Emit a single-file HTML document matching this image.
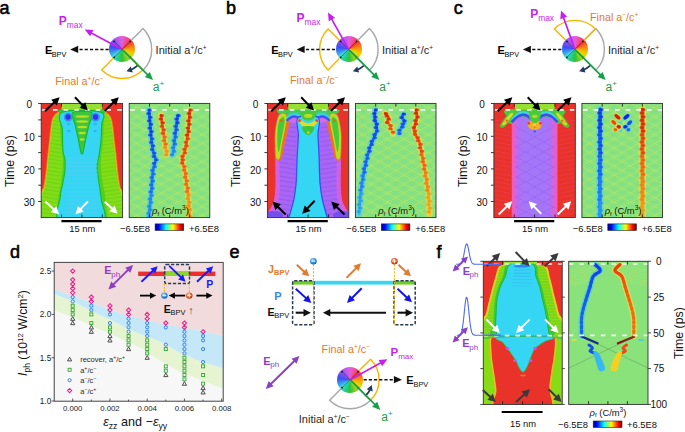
<!DOCTYPE html>
<html><head><meta charset="utf-8"><style>
html,body{margin:0;padding:0;background:#fff;}
#c{position:relative;width:685px;height:432px;overflow:hidden;font-family:"Liberation Sans", sans-serif;}
svg{position:absolute;left:0;top:0;}
svg text{font-family:"Liberation Sans", sans-serif;}
</style></head><body><div id="c">
<div style="position:absolute;left:109.20px;top:36.40px;width:26px;height:26px;border-radius:50%;background:conic-gradient(from 0deg,#e45ee0 0deg,#f04a8a 30deg,#f03a30 50deg,#f57a1a 75deg,#f7a800 95deg,#e8d800 120deg,#9ad41e 145deg,#2cc23a 180deg,#22d08a 205deg,#3fdcd8 230deg,#3a8cf2 255deg,#3a4cf2 280deg,#7a50f0 305deg,#b058f0 330deg,#e45ee0 360deg);"></div><div style="position:absolute;left:335.60px;top:36.40px;width:26px;height:26px;border-radius:50%;background:conic-gradient(from 0deg,#e45ee0 0deg,#f04a8a 30deg,#f03a30 50deg,#f57a1a 75deg,#f7a800 95deg,#e8d800 120deg,#9ad41e 145deg,#2cc23a 180deg,#22d08a 205deg,#3fdcd8 230deg,#3a8cf2 255deg,#3a4cf2 280deg,#7a50f0 305deg,#b058f0 330deg,#e45ee0 360deg);"></div><div style="position:absolute;left:561.90px;top:36.40px;width:26px;height:26px;border-radius:50%;background:conic-gradient(from 0deg,#e45ee0 0deg,#f04a8a 30deg,#f03a30 50deg,#f57a1a 75deg,#f7a800 95deg,#e8d800 120deg,#9ad41e 145deg,#2cc23a 180deg,#22d08a 205deg,#3fdcd8 230deg,#3a8cf2 255deg,#3a4cf2 280deg,#7a50f0 305deg,#b058f0 330deg,#e45ee0 360deg);"></div><div style="position:absolute;left:337.10px;top:366.70px;width:26px;height:26px;border-radius:50%;background:conic-gradient(from 0deg,#e45ee0 0deg,#f04a8a 30deg,#f03a30 50deg,#f57a1a 75deg,#f7a800 95deg,#e8d800 120deg,#9ad41e 145deg,#2cc23a 180deg,#22d08a 205deg,#3fdcd8 230deg,#3a8cf2 255deg,#3a4cf2 280deg,#7a50f0 305deg,#b058f0 330deg,#e45ee0 360deg);"></div>
<svg width="685" height="432" viewBox="0 0 685 432">
<defs>
<clipPath id="clip1"><rect x="41.2" y="103.4" width="81.40" height="114.20"/></clipPath>
<filter id="bl1" x="-10%" y="-10%" width="120%" height="120%"><feGaussianBlur stdDeviation="0.7"/></filter>
<clipPath id="clip2"><rect x="267.4" y="103.4" width="81.40" height="114.20"/></clipPath>
<filter id="bl2" x="-10%" y="-10%" width="120%" height="120%"><feGaussianBlur stdDeviation="0.7"/></filter>
<linearGradient id="cpur" x1="0" y1="0" x2="1" y2="0"><stop offset="0" stop-color="#f05cb0"/><stop offset="0.07" stop-color="#e060d8"/><stop offset="0.15" stop-color="#b070f4"/><stop offset="0.3" stop-color="#a476f8"/><stop offset="0.7" stop-color="#a476f8"/><stop offset="0.85" stop-color="#b070f4"/><stop offset="0.93" stop-color="#e060d8"/><stop offset="1" stop-color="#f05cb0"/></linearGradient>
<clipPath id="clip3"><rect x="493.9" y="103.4" width="81.40" height="114.20"/></clipPath>
<filter id="bl3" x="-10%" y="-10%" width="120%" height="120%"><feGaussianBlur stdDeviation="0.7"/></filter>
<linearGradient id="ba4_0" gradientUnits="userSpaceOnUse" x1="0" y1="110" x2="0" y2="222"><stop offset="0" stop-color="#2060f0"/><stop offset="0.6" stop-color="#2a80f0"/><stop offset="1" stop-color="#30a0f0"/></linearGradient>
<linearGradient id="ba4_1" gradientUnits="userSpaceOnUse" x1="0" y1="115.5" x2="0" y2="155"><stop offset="0" stop-color="#2060f0"/><stop offset="0.6" stop-color="#2a80f0"/><stop offset="1" stop-color="#30a0f0"/></linearGradient>
<linearGradient id="ba4_2" gradientUnits="userSpaceOnUse" x1="0" y1="110" x2="0" y2="222"><stop offset="0" stop-color="#f04818"/><stop offset="0.5" stop-color="#f08020"/><stop offset="1" stop-color="#f8b020"/></linearGradient>
<linearGradient id="ba4_3" gradientUnits="userSpaceOnUse" x1="0" y1="115.5" x2="0" y2="155"><stop offset="0" stop-color="#f04818"/><stop offset="0.5" stop-color="#f08020"/><stop offset="1" stop-color="#f8b020"/></linearGradient>
<clipPath id="clip5"><rect x="129.2" y="103.4" width="80.60" height="114.20"/></clipPath>
<filter id="bl5" x="-10%" y="-10%" width="120%" height="120%"><feGaussianBlur stdDeviation="0.75"/></filter>
<linearGradient id="bb6_0" gradientUnits="userSpaceOnUse" x1="0" y1="109.8" x2="0" y2="214"><stop offset="0" stop-color="#2060f0"/><stop offset="0.6" stop-color="#2a80f0"/><stop offset="1" stop-color="#40b8f0"/></linearGradient>
<linearGradient id="bb6_1" gradientUnits="userSpaceOnUse" x1="0" y1="114" x2="0" y2="133.5"><stop offset="0" stop-color="#2060f0"/><stop offset="0.6" stop-color="#2a80f0"/><stop offset="1" stop-color="#40b8f0"/></linearGradient>
<linearGradient id="bb6_2" gradientUnits="userSpaceOnUse" x1="0" y1="109.8" x2="0" y2="214"><stop offset="0" stop-color="#f04818"/><stop offset="0.5" stop-color="#f08020"/><stop offset="1" stop-color="#f0c030"/></linearGradient>
<linearGradient id="bb6_3" gradientUnits="userSpaceOnUse" x1="0" y1="113.5" x2="0" y2="133.5"><stop offset="0" stop-color="#f04818"/><stop offset="0.5" stop-color="#f08020"/><stop offset="1" stop-color="#f0c030"/></linearGradient>
<clipPath id="clip7"><rect x="355.4" y="103.4" width="80.60" height="114.20"/></clipPath>
<filter id="bl7" x="-10%" y="-10%" width="120%" height="120%"><feGaussianBlur stdDeviation="0.75"/></filter>
<linearGradient id="bc8_0" gradientUnits="userSpaceOnUse" x1="0" y1="109.5" x2="0" y2="222"><stop offset="0" stop-color="#1c58f0"/><stop offset="0.6" stop-color="#2480f0"/><stop offset="1" stop-color="#30a0f0"/></linearGradient>
<linearGradient id="bc8_1" gradientUnits="userSpaceOnUse" x1="0" y1="109.5" x2="0" y2="222"><stop offset="0" stop-color="#f04818"/><stop offset="0.5" stop-color="#f08020"/><stop offset="1" stop-color="#f8b020"/></linearGradient>
<clipPath id="clip9"><rect x="581.9" y="103.4" width="80.60" height="114.20"/></clipPath>
<filter id="bl9" x="-10%" y="-10%" width="120%" height="120%"><feGaussianBlur stdDeviation="0.75"/></filter>
<linearGradient id="jet" x1="0" y1="0" x2="1" y2="0"><stop offset="0" stop-color="#00008f"/><stop offset="0.125" stop-color="#0000ff"/><stop offset="0.375" stop-color="#00ffff"/><stop offset="0.5" stop-color="#80ff80"/><stop offset="0.625" stop-color="#ffff00"/><stop offset="0.875" stop-color="#ff0000"/><stop offset="1" stop-color="#800000"/></linearGradient>
<radialGradient id="qb" cx="0.4" cy="0.35" r="0.7"><stop offset="0" stop-color="#bfe6ff"/><stop offset="0.5" stop-color="#3a9ae8"/><stop offset="1" stop-color="#1456b0"/></radialGradient>
<radialGradient id="qr" cx="0.4" cy="0.35" r="0.7"><stop offset="0" stop-color="#ffd0b0"/><stop offset="0.5" stop-color="#e8622a"/><stop offset="1" stop-color="#a8300c"/></radialGradient>
<clipPath id="clip10"><rect x="483.3" y="261.3" width="78.90" height="143.10"/></clipPath>
<filter id="bl10" x="-10%" y="-10%" width="120%" height="120%"><feGaussianBlur stdDeviation="0.7"/></filter>
<linearGradient id="fb11" gradientUnits="userSpaceOnUse" x1="0" y1="264.6" x2="0" y2="336"><stop offset="0" stop-color="#1030e0"/><stop offset="0.2" stop-color="#1850f0"/><stop offset="0.55" stop-color="#1c80f0"/><stop offset="1" stop-color="#20a0f0"/></linearGradient>
<linearGradient id="fr11" gradientUnits="userSpaceOnUse" x1="0" y1="264.6" x2="0" y2="336"><stop offset="0" stop-color="#e02010"/><stop offset="0.2" stop-color="#f05018"/><stop offset="0.55" stop-color="#f88818"/><stop offset="1" stop-color="#f8a818"/></linearGradient>
<clipPath id="clip12"><rect x="568.7" y="261.3" width="79.30" height="143.10"/></clipPath>
<filter id="bl12" x="-10%" y="-10%" width="120%" height="120%"><feGaussianBlur stdDeviation="0.6"/></filter>
</defs>
<text x="-0.40" y="13.70" font-size="18" fill="#000" font-weight="normal" text-anchor="start" stroke="#000" stroke-width="0.55">a</text>
<text x="226.00" y="13.70" font-size="18" fill="#000" font-weight="normal" text-anchor="start" stroke="#000" stroke-width="0.55">b</text>
<text x="453.70" y="13.70" font-size="18" fill="#000" font-weight="normal" text-anchor="start" stroke="#000" stroke-width="0.55">c</text>
<text x="9.90" y="257.60" font-size="18" fill="#000" font-weight="normal" text-anchor="start" stroke="#000" stroke-width="0.55">d</text>
<text x="229.60" y="258.00" font-size="18" fill="#000" font-weight="normal" text-anchor="start" stroke="#000" stroke-width="0.55">e</text>
<text x="436.60" y="257.80" font-size="18" fill="#000" font-weight="normal" text-anchor="start" stroke="#000" stroke-width="0.55">f</text>
<path d="M131.39,40.21 L143.06,28.54 A29.5,29.5 0 0 1 143.06,70.26 L131.39,58.59" fill="none" stroke="#a8a8a8" stroke-width="1.45" stroke-linejoin="round"/>
<path d="M131.39,58.59 L142.71,69.91 A29,29 0 0 1 101.69,69.91 L113.01,58.59" fill="none" stroke="#f7b500" stroke-width="1.45" stroke-linejoin="round"/>
<line x1="122.20" y1="49.40" x2="130.19" y2="41.41" stroke="#222" stroke-width="0.5" />
<circle cx="130.19" cy="41.41" r="0.9" fill="#111"/>
<line x1="122.20" y1="49.40" x2="130.19" y2="57.39" stroke="#222" stroke-width="0.5" />
<circle cx="130.19" cy="57.39" r="0.9" fill="#111"/>
<line x1="122.20" y1="49.40" x2="114.21" y2="57.39" stroke="#222" stroke-width="0.5" />
<circle cx="114.21" cy="57.39" r="0.9" fill="#111"/>
<line x1="122.20" y1="49.40" x2="114.21" y2="41.41" stroke="#222" stroke-width="0.5" />
<circle cx="114.21" cy="41.41" r="0.9" fill="#111"/>
<line x1="108.70" y1="49.40" x2="78.00" y2="49.40" stroke="#111" stroke-width="1.5" stroke-dasharray="3.2,2"/>
<path d="M70.20,49.40 L78.20,45.80 L78.20,53.00 Z" fill="#111" stroke="none" stroke-width="1" />
<text x="44.90" y="54.00" font-size="11" fill="#000" font-weight="bold" text-anchor="start" >E</text>
<text x="51.72" y="56.80" font-size="7.3" fill="#000" font-weight="normal" text-anchor="start" >BPV</text>
<path d="M137.41,65.71 A22.3,22.3 0 0 1 130.74,70.00" fill="none" stroke="#243b5e" stroke-width="1.8" />
<path d="M126.46,71.29 L130.78,66.50 L132.77,72.58 Z" fill="#243b5e" stroke="none" stroke-width="1" />
<line x1="122.20" y1="49.40" x2="148.47" y2="75.58" stroke="#16a04a" stroke-width="1.7" />
<path d="M153.00,80.10 L144.79,77.00 L149.88,71.90 Z" fill="#16a04a" stroke="none" stroke-width="1" />
<text x="152.80" y="90.80" font-size="12" fill="#16a04a" font-weight="normal" text-anchor="start" >a<tspan font-size="8" dy="-4.6">+</tspan></text>
<line x1="122.20" y1="49.40" x2="90.35" y2="32.41" stroke="#c51ff0" stroke-width="1.7" />
<path d="M84.70,29.40 L93.45,29.99 L90.06,36.34 Z" fill="#c51ff0" stroke="none" stroke-width="1" />
<text x="58.80" y="24.80" font-size="12" fill="#c51ff0" font-weight="bold" text-anchor="start" >P</text>
<text x="66.80" y="27.80" font-size="8.4" fill="#c51ff0" font-weight="normal" text-anchor="start" >max</text>
<text x="155.60" y="54.20" font-size="11" fill="#282828" font-weight="normal" text-anchor="start" >Initial a<tspan font-size="6.5" dy="-4">+</tspan><tspan dy="4">/c</tspan><tspan font-size="6.5" dy="-4">+</tspan></text>
<text x="55.20" y="84.80" font-size="10.8" fill="#e8782a" font-weight="normal" text-anchor="start" >Final a<tspan font-size="6.5" dy="-4">+</tspan><tspan dy="4">/c</tspan><tspan font-size="6.5" dy="-4">&#8722;</tspan></text>
<path d="M357.79,40.21 L369.46,28.54 A29.5,29.5 0 0 1 369.46,70.26 L357.79,58.59" fill="none" stroke="#a8a8a8" stroke-width="1.45" stroke-linejoin="round"/>
<path d="M339.41,58.59 L328.09,69.91 A29,29 0 0 1 328.09,28.89 L339.41,40.21" fill="none" stroke="#f7b500" stroke-width="1.45" stroke-linejoin="round"/>
<line x1="348.60" y1="49.40" x2="356.59" y2="41.41" stroke="#222" stroke-width="0.5" />
<circle cx="356.59" cy="41.41" r="0.9" fill="#111"/>
<line x1="348.60" y1="49.40" x2="356.59" y2="57.39" stroke="#222" stroke-width="0.5" />
<circle cx="356.59" cy="57.39" r="0.9" fill="#111"/>
<line x1="348.60" y1="49.40" x2="340.61" y2="57.39" stroke="#222" stroke-width="0.5" />
<circle cx="340.61" cy="57.39" r="0.9" fill="#111"/>
<line x1="348.60" y1="49.40" x2="340.61" y2="41.41" stroke="#222" stroke-width="0.5" />
<circle cx="340.61" cy="41.41" r="0.9" fill="#111"/>
<line x1="335.10" y1="49.40" x2="304.40" y2="49.40" stroke="#111" stroke-width="1.5" stroke-dasharray="3.2,2"/>
<path d="M296.60,49.40 L304.60,45.80 L304.60,53.00 Z" fill="#111" stroke="none" stroke-width="1" />
<text x="271.30" y="54.00" font-size="11" fill="#000" font-weight="bold" text-anchor="start" >E</text>
<text x="278.12" y="56.80" font-size="7.3" fill="#000" font-weight="normal" text-anchor="start" >BPV</text>
<path d="M363.81,65.71 A22.3,22.3 0 0 1 357.14,70.00" fill="none" stroke="#243b5e" stroke-width="1.8" />
<path d="M352.86,71.29 L357.18,66.50 L359.17,72.58 Z" fill="#243b5e" stroke="none" stroke-width="1" />
<line x1="348.60" y1="49.40" x2="374.87" y2="75.58" stroke="#16a04a" stroke-width="1.7" />
<path d="M379.40,80.10 L371.19,77.00 L376.28,71.90 Z" fill="#16a04a" stroke="none" stroke-width="1" />
<text x="379.20" y="90.80" font-size="12" fill="#16a04a" font-weight="normal" text-anchor="start" >a<tspan font-size="8" dy="-4.6">+</tspan></text>
<line x1="348.60" y1="49.40" x2="331.13" y2="18.18" stroke="#c51ff0" stroke-width="1.7" />
<path d="M328.00,12.60 L335.05,17.82 L328.77,21.34 Z" fill="#c51ff0" stroke="none" stroke-width="1" />
<text x="296.50" y="21.60" font-size="12" fill="#c51ff0" font-weight="bold" text-anchor="start" >P</text>
<text x="304.50" y="24.60" font-size="8.4" fill="#c51ff0" font-weight="normal" text-anchor="start" >max</text>
<text x="382.00" y="54.20" font-size="11" fill="#282828" font-weight="normal" text-anchor="start" >Initial a<tspan font-size="6.5" dy="-4">+</tspan><tspan dy="4">/c</tspan><tspan font-size="6.5" dy="-4">+</tspan></text>
<text x="290.00" y="83.60" font-size="10.8" fill="#e8782a" font-weight="normal" text-anchor="start" >Final a<tspan font-size="6.5" dy="-4">&#8722;</tspan><tspan dy="4">/c</tspan><tspan font-size="6.5" dy="-4">&#8722;</tspan></text>
<path d="M584.09,40.21 L595.76,28.54 A29.5,29.5 0 0 1 595.76,70.26 L584.09,58.59" fill="none" stroke="#a8a8a8" stroke-width="1.45" stroke-linejoin="round"/>
<path d="M565.71,40.21 L554.39,28.89 A29,29 0 0 1 595.41,28.89 L584.09,40.21" fill="none" stroke="#f7b500" stroke-width="1.45" stroke-linejoin="round"/>
<line x1="574.90" y1="49.40" x2="582.89" y2="41.41" stroke="#222" stroke-width="0.5" />
<circle cx="582.89" cy="41.41" r="0.9" fill="#111"/>
<line x1="574.90" y1="49.40" x2="582.89" y2="57.39" stroke="#222" stroke-width="0.5" />
<circle cx="582.89" cy="57.39" r="0.9" fill="#111"/>
<line x1="574.90" y1="49.40" x2="566.91" y2="57.39" stroke="#222" stroke-width="0.5" />
<circle cx="566.91" cy="57.39" r="0.9" fill="#111"/>
<line x1="574.90" y1="49.40" x2="566.91" y2="41.41" stroke="#222" stroke-width="0.5" />
<circle cx="566.91" cy="41.41" r="0.9" fill="#111"/>
<line x1="561.40" y1="49.40" x2="530.70" y2="49.40" stroke="#111" stroke-width="1.5" stroke-dasharray="3.2,2"/>
<path d="M522.90,49.40 L530.90,45.80 L530.90,53.00 Z" fill="#111" stroke="none" stroke-width="1" />
<text x="497.60" y="54.00" font-size="11" fill="#000" font-weight="bold" text-anchor="start" >E</text>
<text x="504.42" y="56.80" font-size="7.3" fill="#000" font-weight="normal" text-anchor="start" >BPV</text>
<path d="M590.11,65.71 A22.3,22.3 0 0 1 583.44,70.00" fill="none" stroke="#243b5e" stroke-width="1.8" />
<path d="M579.16,71.29 L583.48,66.50 L585.47,72.58 Z" fill="#243b5e" stroke="none" stroke-width="1" />
<line x1="574.90" y1="49.40" x2="601.17" y2="75.58" stroke="#16a04a" stroke-width="1.7" />
<path d="M605.70,80.10 L597.49,77.00 L602.58,71.90 Z" fill="#16a04a" stroke="none" stroke-width="1" />
<text x="605.50" y="90.80" font-size="12" fill="#16a04a" font-weight="normal" text-anchor="start" >a<tspan font-size="8" dy="-4.6">+</tspan></text>
<line x1="574.90" y1="49.40" x2="563.15" y2="16.53" stroke="#c51ff0" stroke-width="1.7" />
<path d="M561.00,10.50 L567.08,16.82 L560.30,19.24 Z" fill="#c51ff0" stroke="none" stroke-width="1" />
<text x="530.20" y="18.00" font-size="12" fill="#c51ff0" font-weight="bold" text-anchor="start" >P</text>
<text x="538.20" y="21.00" font-size="8.4" fill="#c51ff0" font-weight="normal" text-anchor="start" >max</text>
<text x="608.00" y="54.20" font-size="11" fill="#282828" font-weight="normal" text-anchor="start" >Initial a<tspan font-size="6.5" dy="-4">+</tspan><tspan dy="4">/c</tspan><tspan font-size="6.5" dy="-4">+</tspan></text>
<text x="589.90" y="20.60" font-size="10.8" fill="#e8782a" font-weight="normal" text-anchor="start" >Final a<tspan font-size="6.5" dy="-4">&#8722;</tspan><tspan dy="4">/c</tspan><tspan font-size="6.5" dy="-4">+</tspan></text>
<g clip-path="url(#clip1)"><rect x="41.2" y="103.4" width="81.40" height="114.20" fill="#fff"/><g filter="url(#bl1)">
<rect x="37.2" y="99.4" width="89.40" height="122.20" fill="#fff"/>
<path d="M37.20,99.40 L126.60,99.40 L126.60,221.60 L37.20,221.60 Z" fill="#84dc18" />
<line x1="42.00" y1="111.00" x2="62.00" y2="114.00" stroke="#5cd012" stroke-width="1.3" opacity="0.5"/>
<line x1="122.00" y1="111.00" x2="102.00" y2="114.00" stroke="#5cd012" stroke-width="1.3" opacity="0.5"/>
<line x1="42.00" y1="114.90" x2="62.00" y2="117.90" stroke="#5cd012" stroke-width="1.3" opacity="0.5"/>
<line x1="122.00" y1="114.90" x2="102.00" y2="117.90" stroke="#5cd012" stroke-width="1.3" opacity="0.5"/>
<line x1="42.00" y1="118.80" x2="62.00" y2="121.80" stroke="#5cd012" stroke-width="1.3" opacity="0.5"/>
<line x1="122.00" y1="118.80" x2="102.00" y2="121.80" stroke="#5cd012" stroke-width="1.3" opacity="0.5"/>
<line x1="42.00" y1="122.70" x2="62.00" y2="125.70" stroke="#5cd012" stroke-width="1.3" opacity="0.5"/>
<line x1="122.00" y1="122.70" x2="102.00" y2="125.70" stroke="#5cd012" stroke-width="1.3" opacity="0.5"/>
<line x1="42.00" y1="126.60" x2="62.00" y2="129.60" stroke="#5cd012" stroke-width="1.3" opacity="0.5"/>
<line x1="122.00" y1="126.60" x2="102.00" y2="129.60" stroke="#5cd012" stroke-width="1.3" opacity="0.5"/>
<line x1="42.00" y1="130.50" x2="62.00" y2="133.50" stroke="#5cd012" stroke-width="1.3" opacity="0.5"/>
<line x1="122.00" y1="130.50" x2="102.00" y2="133.50" stroke="#5cd012" stroke-width="1.3" opacity="0.5"/>
<line x1="42.00" y1="134.40" x2="62.00" y2="137.40" stroke="#5cd012" stroke-width="1.3" opacity="0.5"/>
<line x1="122.00" y1="134.40" x2="102.00" y2="137.40" stroke="#5cd012" stroke-width="1.3" opacity="0.5"/>
<line x1="42.00" y1="138.30" x2="62.00" y2="141.30" stroke="#5cd012" stroke-width="1.3" opacity="0.5"/>
<line x1="122.00" y1="138.30" x2="102.00" y2="141.30" stroke="#5cd012" stroke-width="1.3" opacity="0.5"/>
<line x1="42.00" y1="142.20" x2="62.00" y2="145.20" stroke="#5cd012" stroke-width="1.3" opacity="0.5"/>
<line x1="122.00" y1="142.20" x2="102.00" y2="145.20" stroke="#5cd012" stroke-width="1.3" opacity="0.5"/>
<line x1="42.00" y1="146.10" x2="62.00" y2="149.10" stroke="#5cd012" stroke-width="1.3" opacity="0.5"/>
<line x1="122.00" y1="146.10" x2="102.00" y2="149.10" stroke="#5cd012" stroke-width="1.3" opacity="0.5"/>
<line x1="42.00" y1="150.00" x2="62.00" y2="153.00" stroke="#5cd012" stroke-width="1.3" opacity="0.5"/>
<line x1="122.00" y1="150.00" x2="102.00" y2="153.00" stroke="#5cd012" stroke-width="1.3" opacity="0.5"/>
<line x1="42.00" y1="153.90" x2="62.00" y2="156.90" stroke="#5cd012" stroke-width="1.3" opacity="0.5"/>
<line x1="122.00" y1="153.90" x2="102.00" y2="156.90" stroke="#5cd012" stroke-width="1.3" opacity="0.5"/>
<line x1="42.00" y1="157.80" x2="62.00" y2="160.80" stroke="#5cd012" stroke-width="1.3" opacity="0.5"/>
<line x1="122.00" y1="157.80" x2="102.00" y2="160.80" stroke="#5cd012" stroke-width="1.3" opacity="0.5"/>
<line x1="42.00" y1="161.70" x2="62.00" y2="164.70" stroke="#5cd012" stroke-width="1.3" opacity="0.5"/>
<line x1="122.00" y1="161.70" x2="102.00" y2="164.70" stroke="#5cd012" stroke-width="1.3" opacity="0.5"/>
<line x1="42.00" y1="165.60" x2="62.00" y2="168.60" stroke="#5cd012" stroke-width="1.3" opacity="0.5"/>
<line x1="122.00" y1="165.60" x2="102.00" y2="168.60" stroke="#5cd012" stroke-width="1.3" opacity="0.5"/>
<line x1="42.00" y1="169.50" x2="62.00" y2="172.50" stroke="#5cd012" stroke-width="1.3" opacity="0.5"/>
<line x1="122.00" y1="169.50" x2="102.00" y2="172.50" stroke="#5cd012" stroke-width="1.3" opacity="0.5"/>
<line x1="42.00" y1="173.40" x2="62.00" y2="176.40" stroke="#5cd012" stroke-width="1.3" opacity="0.5"/>
<line x1="122.00" y1="173.40" x2="102.00" y2="176.40" stroke="#5cd012" stroke-width="1.3" opacity="0.5"/>
<line x1="42.00" y1="177.30" x2="62.00" y2="180.30" stroke="#5cd012" stroke-width="1.3" opacity="0.5"/>
<line x1="122.00" y1="177.30" x2="102.00" y2="180.30" stroke="#5cd012" stroke-width="1.3" opacity="0.5"/>
<line x1="42.00" y1="181.20" x2="62.00" y2="184.20" stroke="#5cd012" stroke-width="1.3" opacity="0.5"/>
<line x1="122.00" y1="181.20" x2="102.00" y2="184.20" stroke="#5cd012" stroke-width="1.3" opacity="0.5"/>
<line x1="42.00" y1="185.10" x2="62.00" y2="188.10" stroke="#5cd012" stroke-width="1.3" opacity="0.5"/>
<line x1="122.00" y1="185.10" x2="102.00" y2="188.10" stroke="#5cd012" stroke-width="1.3" opacity="0.5"/>
<line x1="42.00" y1="189.00" x2="62.00" y2="192.00" stroke="#5cd012" stroke-width="1.3" opacity="0.5"/>
<line x1="122.00" y1="189.00" x2="102.00" y2="192.00" stroke="#5cd012" stroke-width="1.3" opacity="0.5"/>
<line x1="42.00" y1="192.90" x2="62.00" y2="195.90" stroke="#5cd012" stroke-width="1.3" opacity="0.5"/>
<line x1="122.00" y1="192.90" x2="102.00" y2="195.90" stroke="#5cd012" stroke-width="1.3" opacity="0.5"/>
<line x1="42.00" y1="196.80" x2="62.00" y2="199.80" stroke="#5cd012" stroke-width="1.3" opacity="0.5"/>
<line x1="122.00" y1="196.80" x2="102.00" y2="199.80" stroke="#5cd012" stroke-width="1.3" opacity="0.5"/>
<line x1="42.00" y1="200.70" x2="62.00" y2="203.70" stroke="#5cd012" stroke-width="1.3" opacity="0.5"/>
<line x1="122.00" y1="200.70" x2="102.00" y2="203.70" stroke="#5cd012" stroke-width="1.3" opacity="0.5"/>
<line x1="42.00" y1="204.60" x2="62.00" y2="207.60" stroke="#5cd012" stroke-width="1.3" opacity="0.5"/>
<line x1="122.00" y1="204.60" x2="102.00" y2="207.60" stroke="#5cd012" stroke-width="1.3" opacity="0.5"/>
<line x1="42.00" y1="208.50" x2="62.00" y2="211.50" stroke="#5cd012" stroke-width="1.3" opacity="0.5"/>
<line x1="122.00" y1="208.50" x2="102.00" y2="211.50" stroke="#5cd012" stroke-width="1.3" opacity="0.5"/>
<line x1="42.00" y1="212.40" x2="62.00" y2="215.40" stroke="#5cd012" stroke-width="1.3" opacity="0.5"/>
<line x1="122.00" y1="212.40" x2="102.00" y2="215.40" stroke="#5cd012" stroke-width="1.3" opacity="0.5"/>
<line x1="42.00" y1="216.30" x2="62.00" y2="219.30" stroke="#5cd012" stroke-width="1.3" opacity="0.5"/>
<line x1="122.00" y1="216.30" x2="102.00" y2="219.30" stroke="#5cd012" stroke-width="1.3" opacity="0.5"/>
<path d="M37.20,99.40 C41.47,83.47 58.53,97.63 62.80,99.40 C67.07,101.17 63.38,107.87 62.80,110.00 C62.22,112.13 60.55,111.22 59.30,112.20 C58.05,113.18 56.33,114.57 55.30,115.90 C54.27,117.23 53.72,118.08 53.10,120.20 C52.48,122.32 52.10,124.92 51.60,128.60 C51.10,132.28 50.62,137.73 50.10,142.30 C49.58,146.87 49.00,151.30 48.50,156.00 C48.00,160.70 47.63,165.92 47.10,170.50 C46.57,175.08 45.95,180.08 45.30,183.50 C44.65,186.92 44.55,189.08 43.20,191.00 C41.85,192.92 38.20,210.27 37.20,195.00 C36.20,179.73 32.93,115.33 37.20,99.40 Z" fill="#ecd41a" />
<path d="M126.60,99.40 C122.33,83.47 105.27,97.63 101.00,99.40 C96.73,101.17 100.42,107.87 101.00,110.00 C101.58,112.13 103.25,111.22 104.50,112.20 C105.75,113.18 107.47,114.57 108.50,115.90 C109.53,117.23 110.08,118.08 110.70,120.20 C111.32,122.32 111.70,124.92 112.20,128.60 C112.70,132.28 113.18,137.73 113.70,142.30 C114.22,146.87 114.80,151.30 115.30,156.00 C115.80,160.70 116.17,165.92 116.70,170.50 C117.23,175.08 117.85,180.08 118.50,183.50 C119.15,186.92 119.25,189.08 120.60,191.00 C121.95,192.92 125.60,210.27 126.60,195.00 C127.60,179.73 130.87,115.33 126.60,99.40 Z" fill="#ecd41a" />
<path d="M37.20,100.00 C41.42,84.73 58.28,98.30 62.50,100.00 C66.72,101.70 63.10,108.17 62.50,110.20 C61.90,112.23 60.17,111.27 58.90,112.20 C57.63,113.13 55.93,114.48 54.90,115.80 C53.87,117.12 53.32,117.97 52.70,120.10 C52.08,122.23 51.70,124.85 51.20,128.60 C50.70,132.35 50.22,138.00 49.70,142.60 C49.18,147.20 48.60,151.53 48.10,156.20 C47.60,160.87 47.23,166.03 46.70,170.60 C46.17,175.17 45.50,180.43 44.90,183.60 C44.30,186.77 44.38,188.27 43.10,189.60 C41.82,190.93 38.18,206.53 37.20,191.60 C36.22,176.67 32.98,115.27 37.20,100.00 Z" fill="#f07c1a" />
<path d="M126.60,100.00 C122.38,84.73 105.52,98.30 101.30,100.00 C97.08,101.70 100.70,108.17 101.30,110.20 C101.90,112.23 103.63,111.27 104.90,112.20 C106.17,113.13 107.87,114.48 108.90,115.80 C109.93,117.12 110.48,117.97 111.10,120.10 C111.72,122.23 112.10,124.85 112.60,128.60 C113.10,132.35 113.58,138.00 114.10,142.60 C114.62,147.20 115.20,151.53 115.70,156.20 C116.20,160.87 116.57,166.03 117.10,170.60 C117.63,175.17 118.30,180.43 118.90,183.60 C119.50,186.77 119.42,188.27 120.70,189.60 C121.98,190.93 125.62,206.53 126.60,191.60 C127.58,176.67 130.82,115.27 126.60,100.00 Z" fill="#f07c1a" />
<path d="M37.20,99.40 C41.27,84.13 57.53,97.70 61.60,99.40 C65.67,101.10 62.20,107.57 61.60,109.60 C61.00,111.63 59.27,110.67 58.00,111.60 C56.73,112.53 55.03,113.88 54.00,115.20 C52.97,116.52 52.42,117.37 51.80,119.50 C51.18,121.63 50.80,124.25 50.30,128.00 C49.80,131.75 49.32,137.40 48.80,142.00 C48.28,146.60 47.70,150.93 47.20,155.60 C46.70,160.27 46.33,165.43 45.80,170.00 C45.27,174.57 44.60,179.83 44.00,183.00 C43.40,186.17 43.33,187.67 42.20,189.00 C41.07,190.33 38.03,205.93 37.20,191.00 C36.37,176.07 33.13,114.67 37.20,99.40 Z" fill="#e8302c" />
<path d="M126.60,99.40 C122.53,84.13 106.27,97.70 102.20,99.40 C98.13,101.10 101.60,107.57 102.20,109.60 C102.80,111.63 104.53,110.67 105.80,111.60 C107.07,112.53 108.77,113.88 109.80,115.20 C110.83,116.52 111.38,117.37 112.00,119.50 C112.62,121.63 113.00,124.25 113.50,128.00 C114.00,131.75 114.48,137.40 115.00,142.00 C115.52,146.60 116.10,150.93 116.60,155.60 C117.10,160.27 117.47,165.43 118.00,170.00 C118.53,174.57 119.20,179.83 119.80,183.00 C120.40,186.17 120.47,187.67 121.60,189.00 C122.73,190.33 125.77,205.93 126.60,191.00 C127.43,176.07 130.67,114.67 126.60,99.40 Z" fill="#e8302c" />
<path d="M62.00,111.00 C61.03,111.50 60.53,112.83 60.20,114.00 C59.87,115.17 59.90,113.67 60.00,118.00 C60.10,122.33 60.33,133.00 60.80,140.00 C61.27,147.00 62.68,153.33 62.80,160.00 C62.92,166.67 62.17,174.17 61.50,180.00 C60.83,185.83 59.52,190.00 58.80,195.00 C58.08,200.00 57.58,205.50 57.20,210.00 C56.82,214.50 55.03,220.00 56.50,222.00 C57.97,224.00 64.42,240.50 66.00,222.00 C67.58,203.50 66.67,129.50 66.00,111.00 C65.33,92.50 62.97,110.50 62.00,111.00 Z" fill="#4ccc1c" opacity="0.85"/>
<path d="M101.80,111.00 C102.77,111.50 103.27,112.83 103.60,114.00 C103.93,115.17 103.90,113.67 103.80,118.00 C103.70,122.33 103.47,133.00 103.00,140.00 C102.53,147.00 101.12,153.33 101.00,160.00 C100.88,166.67 101.63,174.17 102.30,180.00 C102.97,185.83 104.28,190.00 105.00,195.00 C105.72,200.00 106.22,205.50 106.60,210.00 C106.98,214.50 108.77,220.00 107.30,222.00 C105.83,224.00 99.38,240.50 97.80,222.00 C96.22,203.50 97.13,129.50 97.80,111.00 C98.47,92.50 100.83,110.50 101.80,111.00 Z" fill="#4ccc1c" opacity="0.85"/>
<path d="M61.60,99.40 L102.20,99.40 L102.20,109.70 L61.60,109.70 Z" fill="#96e030" />
<path d="M58.00,109.70 L106.00,109.70 L104.00,114.00 L60.00,114.00 Z" fill="#36c43a" />
<path d="M62.50,112.80 C56.25,115.67 62.83,123.80 63.00,130.00 C63.17,136.20 63.08,145.00 63.50,150.00 C63.92,155.00 65.20,156.33 65.50,160.00 C65.80,163.67 65.72,167.83 65.30,172.00 C64.88,176.17 63.72,181.00 63.00,185.00 C62.28,189.00 61.45,189.83 61.00,196.00 C60.55,202.17 53.50,217.67 60.30,222.00 C67.10,226.33 95.05,225.67 101.80,222.00 C108.55,218.33 101.18,205.33 100.80,200.00 C100.42,194.67 100.05,194.00 99.50,190.00 C98.95,186.00 97.98,180.00 97.50,176.00 C97.02,172.00 96.43,169.50 96.60,166.00 C96.77,162.50 97.85,159.33 98.50,155.00 C99.15,150.67 100.08,145.00 100.50,140.00 C100.92,135.00 101.00,129.53 101.00,125.00 C101.00,120.47 106.92,114.83 100.50,112.80 C94.08,110.77 68.75,109.93 62.50,112.80 Z" fill="none" stroke="#18b832" stroke-width="2.2"/>
<path d="M62.50,112.80 C56.25,115.67 62.83,123.80 63.00,130.00 C63.17,136.20 63.08,145.00 63.50,150.00 C63.92,155.00 65.20,156.33 65.50,160.00 C65.80,163.67 65.72,167.83 65.30,172.00 C64.88,176.17 63.72,181.00 63.00,185.00 C62.28,189.00 61.45,189.83 61.00,196.00 C60.55,202.17 53.50,217.67 60.30,222.00 C67.10,226.33 95.05,225.67 101.80,222.00 C108.55,218.33 101.18,205.33 100.80,200.00 C100.42,194.67 100.05,194.00 99.50,190.00 C98.95,186.00 97.98,180.00 97.50,176.00 C97.02,172.00 96.43,169.50 96.60,166.00 C96.77,162.50 97.85,159.33 98.50,155.00 C99.15,150.67 100.08,145.00 100.50,140.00 C100.92,135.00 101.00,129.53 101.00,125.00 C101.00,120.47 106.92,114.83 100.50,112.80 C94.08,110.77 68.75,109.93 62.50,112.80 Z" fill="#36d6f4" />
<path d="M72.80,112.60 C75.53,110.53 88.90,110.53 91.60,112.60 C94.30,114.67 90.02,120.43 89.00,125.00 C87.98,129.57 86.50,135.42 85.50,140.00 C84.50,144.58 83.75,150.42 83.00,152.50 C82.25,154.58 81.75,154.58 81.00,152.50 C80.25,150.42 79.47,144.58 78.50,140.00 C77.53,135.42 76.15,129.57 75.20,125.00 C74.25,120.43 70.07,114.67 72.80,112.60 Z" fill="#3cc63c" stroke="#18b832" stroke-width="1.2"/>
<ellipse cx="82.20" cy="116.5" rx="7.00" ry="1.3" fill="#c8e024" opacity="0.9"/>
<ellipse cx="82.20" cy="121.5" rx="6.25" ry="1.3" fill="#c8e024" opacity="0.9"/>
<ellipse cx="82.20" cy="127" rx="5.00" ry="1.3" fill="#c8e024" opacity="0.9"/>
<ellipse cx="82.20" cy="133" rx="3.75" ry="1.3" fill="#c8e024" opacity="0.9"/>
<ellipse cx="82.20" cy="139.5" rx="2.50" ry="1.3" fill="#c8e024" opacity="0.9"/>
<ellipse cx="68.10" cy="117.2" rx="4.2" ry="4.4" fill="#3f8cf2"/>
<ellipse cx="68.10" cy="117.0" rx="2.6" ry="2.8" fill="#3232ee"/>
<ellipse cx="68.70" cy="124" rx="2" ry="1.3" fill="#3cb0f0"/>
<ellipse cx="68.70" cy="131" rx="2" ry="1.3" fill="#3cb0f0"/>
<ellipse cx="95.60" cy="117.2" rx="4.2" ry="4.4" fill="#3f8cf2"/>
<ellipse cx="95.60" cy="117.0" rx="2.6" ry="2.8" fill="#3232ee"/>
<ellipse cx="95.00" cy="124" rx="2" ry="1.3" fill="#3cb0f0"/>
<ellipse cx="95.00" cy="131" rx="2" ry="1.3" fill="#3cb0f0"/>
<line x1="66.00" y1="158.00" x2="98.00" y2="158.00" stroke="#5cc8f4" stroke-width="1.0" opacity="0.6"/>
<line x1="66.00" y1="162.20" x2="98.00" y2="162.20" stroke="#5cc8f4" stroke-width="1.0" opacity="0.6"/>
<line x1="66.00" y1="166.40" x2="98.00" y2="166.40" stroke="#5cc8f4" stroke-width="1.0" opacity="0.6"/>
<line x1="66.00" y1="170.60" x2="98.00" y2="170.60" stroke="#5cc8f4" stroke-width="1.0" opacity="0.6"/>
<line x1="66.00" y1="174.80" x2="98.00" y2="174.80" stroke="#5cc8f4" stroke-width="1.0" opacity="0.6"/>
<line x1="66.00" y1="179.00" x2="98.00" y2="179.00" stroke="#5cc8f4" stroke-width="1.0" opacity="0.6"/>
<line x1="66.00" y1="183.20" x2="98.00" y2="183.20" stroke="#5cc8f4" stroke-width="1.0" opacity="0.6"/>
<line x1="66.00" y1="187.40" x2="98.00" y2="187.40" stroke="#5cc8f4" stroke-width="1.0" opacity="0.6"/>
<line x1="66.00" y1="191.60" x2="98.00" y2="191.60" stroke="#5cc8f4" stroke-width="1.0" opacity="0.6"/>
<line x1="66.00" y1="195.80" x2="98.00" y2="195.80" stroke="#5cc8f4" stroke-width="1.0" opacity="0.6"/>
<line x1="66.00" y1="200.00" x2="98.00" y2="200.00" stroke="#5cc8f4" stroke-width="1.0" opacity="0.6"/>
<line x1="66.00" y1="204.20" x2="98.00" y2="204.20" stroke="#5cc8f4" stroke-width="1.0" opacity="0.6"/>
<line x1="66.00" y1="208.40" x2="98.00" y2="208.40" stroke="#5cc8f4" stroke-width="1.0" opacity="0.6"/>
<line x1="66.00" y1="212.60" x2="98.00" y2="212.60" stroke="#5cc8f4" stroke-width="1.0" opacity="0.6"/>
</g></g>
<line x1="41.20" y1="109.80" x2="122.60" y2="109.80" stroke="#fff" stroke-width="1.7" stroke-dasharray="4.6,6.1" stroke-dashoffset="-1" opacity="0.92"/>
<rect x="41.20" y="103.40" width="81.40" height="114.20" fill="none" stroke="#303030" stroke-width="0.9" />
<line x1="61.50" y1="103.40" x2="61.50" y2="106.60" stroke="#222" stroke-width="0.9" />
<line x1="61.50" y1="217.60" x2="61.50" y2="214.40" stroke="#222" stroke-width="0.9" />
<line x1="81.90" y1="103.40" x2="81.90" y2="106.60" stroke="#222" stroke-width="0.9" />
<line x1="81.90" y1="217.60" x2="81.90" y2="214.40" stroke="#222" stroke-width="0.9" />
<line x1="102.30" y1="103.40" x2="102.30" y2="106.60" stroke="#222" stroke-width="0.9" />
<line x1="102.30" y1="217.60" x2="102.30" y2="214.40" stroke="#222" stroke-width="0.9" />
<line x1="45.00" y1="111.20" x2="55.10" y2="101.52" stroke="#000" stroke-width="2.0" />
<path d="M59.60,97.20 L56.74,105.49 L51.20,99.71 Z" fill="#000" stroke="none" stroke-width="1" />
<line x1="75.00" y1="97.20" x2="83.49" y2="106.09" stroke="#000" stroke-width="2.0" />
<path d="M87.80,110.60 L79.52,107.72 L85.30,102.20 Z" fill="#000" stroke="none" stroke-width="1" />
<line x1="104.80" y1="110.90" x2="114.34" y2="101.56" stroke="#000" stroke-width="2.0" />
<path d="M118.80,97.20 L116.02,105.51 L110.43,99.80 Z" fill="#000" stroke="none" stroke-width="1" />
<line x1="45.30" y1="201.40" x2="54.74" y2="210.24" stroke="#fff" stroke-width="2.0" />
<path d="M59.30,214.50 L50.87,212.09 L56.34,206.25 Z" fill="#fff" stroke="none" stroke-width="1" />
<line x1="88.00" y1="201.40" x2="79.76" y2="209.84" stroke="#fff" stroke-width="2.0" />
<path d="M75.40,214.30 L77.99,205.93 L83.71,211.52 Z" fill="#fff" stroke="none" stroke-width="1" />
<line x1="104.80" y1="201.70" x2="113.05" y2="209.43" stroke="#fff" stroke-width="2.0" />
<path d="M117.60,213.70 L109.17,211.28 L114.65,205.45 Z" fill="#fff" stroke="none" stroke-width="1" />
<g clip-path="url(#clip2)"><rect x="267.4" y="103.4" width="81.40" height="114.20" fill="#fff"/><g filter="url(#bl2)">
<rect x="263.4" y="99.4" width="89.40" height="122.20" fill="#fff"/>
<path d="M263.40,99.40 L352.80,99.40 L352.80,221.60 L263.40,221.60 Z" fill="#a866f4" />
<line x1="276.20" y1="125.00" x2="296.20" y2="128.00" stroke="#8c50f0" stroke-width="1.2" opacity="0.5"/>
<line x1="340.20" y1="125.00" x2="320.20" y2="128.00" stroke="#8c50f0" stroke-width="1.2" opacity="0.5"/>
<line x1="276.20" y1="129.60" x2="296.20" y2="132.60" stroke="#8c50f0" stroke-width="1.2" opacity="0.5"/>
<line x1="340.20" y1="129.60" x2="320.20" y2="132.60" stroke="#8c50f0" stroke-width="1.2" opacity="0.5"/>
<line x1="276.20" y1="134.20" x2="296.20" y2="137.20" stroke="#8c50f0" stroke-width="1.2" opacity="0.5"/>
<line x1="340.20" y1="134.20" x2="320.20" y2="137.20" stroke="#8c50f0" stroke-width="1.2" opacity="0.5"/>
<line x1="276.20" y1="138.80" x2="296.20" y2="141.80" stroke="#8c50f0" stroke-width="1.2" opacity="0.5"/>
<line x1="340.20" y1="138.80" x2="320.20" y2="141.80" stroke="#8c50f0" stroke-width="1.2" opacity="0.5"/>
<line x1="276.20" y1="143.40" x2="296.20" y2="146.40" stroke="#8c50f0" stroke-width="1.2" opacity="0.5"/>
<line x1="340.20" y1="143.40" x2="320.20" y2="146.40" stroke="#8c50f0" stroke-width="1.2" opacity="0.5"/>
<line x1="276.20" y1="148.00" x2="296.20" y2="151.00" stroke="#8c50f0" stroke-width="1.2" opacity="0.5"/>
<line x1="340.20" y1="148.00" x2="320.20" y2="151.00" stroke="#8c50f0" stroke-width="1.2" opacity="0.5"/>
<line x1="276.20" y1="152.60" x2="296.20" y2="155.60" stroke="#8c50f0" stroke-width="1.2" opacity="0.5"/>
<line x1="340.20" y1="152.60" x2="320.20" y2="155.60" stroke="#8c50f0" stroke-width="1.2" opacity="0.5"/>
<line x1="276.20" y1="157.20" x2="296.20" y2="160.20" stroke="#8c50f0" stroke-width="1.2" opacity="0.5"/>
<line x1="340.20" y1="157.20" x2="320.20" y2="160.20" stroke="#8c50f0" stroke-width="1.2" opacity="0.5"/>
<line x1="276.20" y1="161.80" x2="296.20" y2="164.80" stroke="#8c50f0" stroke-width="1.2" opacity="0.5"/>
<line x1="340.20" y1="161.80" x2="320.20" y2="164.80" stroke="#8c50f0" stroke-width="1.2" opacity="0.5"/>
<line x1="276.20" y1="166.40" x2="296.20" y2="169.40" stroke="#8c50f0" stroke-width="1.2" opacity="0.5"/>
<line x1="340.20" y1="166.40" x2="320.20" y2="169.40" stroke="#8c50f0" stroke-width="1.2" opacity="0.5"/>
<line x1="276.20" y1="171.00" x2="296.20" y2="174.00" stroke="#8c50f0" stroke-width="1.2" opacity="0.5"/>
<line x1="340.20" y1="171.00" x2="320.20" y2="174.00" stroke="#8c50f0" stroke-width="1.2" opacity="0.5"/>
<line x1="276.20" y1="175.60" x2="296.20" y2="178.60" stroke="#8c50f0" stroke-width="1.2" opacity="0.5"/>
<line x1="340.20" y1="175.60" x2="320.20" y2="178.60" stroke="#8c50f0" stroke-width="1.2" opacity="0.5"/>
<line x1="276.20" y1="180.20" x2="296.20" y2="183.20" stroke="#8c50f0" stroke-width="1.2" opacity="0.5"/>
<line x1="340.20" y1="180.20" x2="320.20" y2="183.20" stroke="#8c50f0" stroke-width="1.2" opacity="0.5"/>
<line x1="276.20" y1="184.80" x2="296.20" y2="187.80" stroke="#8c50f0" stroke-width="1.2" opacity="0.5"/>
<line x1="340.20" y1="184.80" x2="320.20" y2="187.80" stroke="#8c50f0" stroke-width="1.2" opacity="0.5"/>
<line x1="276.20" y1="189.40" x2="296.20" y2="192.40" stroke="#8c50f0" stroke-width="1.2" opacity="0.5"/>
<line x1="340.20" y1="189.40" x2="320.20" y2="192.40" stroke="#8c50f0" stroke-width="1.2" opacity="0.5"/>
<line x1="276.20" y1="194.00" x2="296.20" y2="197.00" stroke="#8c50f0" stroke-width="1.2" opacity="0.5"/>
<line x1="340.20" y1="194.00" x2="320.20" y2="197.00" stroke="#8c50f0" stroke-width="1.2" opacity="0.5"/>
<line x1="276.20" y1="198.60" x2="296.20" y2="201.60" stroke="#8c50f0" stroke-width="1.2" opacity="0.5"/>
<line x1="340.20" y1="198.60" x2="320.20" y2="201.60" stroke="#8c50f0" stroke-width="1.2" opacity="0.5"/>
<line x1="276.20" y1="203.20" x2="296.20" y2="206.20" stroke="#8c50f0" stroke-width="1.2" opacity="0.5"/>
<line x1="340.20" y1="203.20" x2="320.20" y2="206.20" stroke="#8c50f0" stroke-width="1.2" opacity="0.5"/>
<line x1="276.20" y1="207.80" x2="296.20" y2="210.80" stroke="#8c50f0" stroke-width="1.2" opacity="0.5"/>
<line x1="340.20" y1="207.80" x2="320.20" y2="210.80" stroke="#8c50f0" stroke-width="1.2" opacity="0.5"/>
<line x1="276.20" y1="212.40" x2="296.20" y2="215.40" stroke="#8c50f0" stroke-width="1.2" opacity="0.5"/>
<line x1="340.20" y1="212.40" x2="320.20" y2="215.40" stroke="#8c50f0" stroke-width="1.2" opacity="0.5"/>
<line x1="298.20" y1="142.00" x2="318.20" y2="142.00" stroke="#5cc4f4" stroke-width="1.0" opacity="0.6"/>
<line x1="298.20" y1="146.50" x2="318.20" y2="146.50" stroke="#5cc4f4" stroke-width="1.0" opacity="0.6"/>
<line x1="298.20" y1="151.00" x2="318.20" y2="151.00" stroke="#5cc4f4" stroke-width="1.0" opacity="0.6"/>
<line x1="298.20" y1="155.50" x2="318.20" y2="155.50" stroke="#5cc4f4" stroke-width="1.0" opacity="0.6"/>
<line x1="298.20" y1="160.00" x2="318.20" y2="160.00" stroke="#5cc4f4" stroke-width="1.0" opacity="0.6"/>
<line x1="298.20" y1="164.50" x2="318.20" y2="164.50" stroke="#5cc4f4" stroke-width="1.0" opacity="0.6"/>
<line x1="298.20" y1="169.00" x2="318.20" y2="169.00" stroke="#5cc4f4" stroke-width="1.0" opacity="0.6"/>
<line x1="298.20" y1="173.50" x2="318.20" y2="173.50" stroke="#5cc4f4" stroke-width="1.0" opacity="0.6"/>
<line x1="298.20" y1="178.00" x2="318.20" y2="178.00" stroke="#5cc4f4" stroke-width="1.0" opacity="0.6"/>
<line x1="298.20" y1="182.50" x2="318.20" y2="182.50" stroke="#5cc4f4" stroke-width="1.0" opacity="0.6"/>
<line x1="298.20" y1="187.00" x2="318.20" y2="187.00" stroke="#5cc4f4" stroke-width="1.0" opacity="0.6"/>
<line x1="298.20" y1="191.50" x2="318.20" y2="191.50" stroke="#5cc4f4" stroke-width="1.0" opacity="0.6"/>
<line x1="298.20" y1="196.00" x2="318.20" y2="196.00" stroke="#5cc4f4" stroke-width="1.0" opacity="0.6"/>
<line x1="298.20" y1="200.50" x2="318.20" y2="200.50" stroke="#5cc4f4" stroke-width="1.0" opacity="0.6"/>
<line x1="298.20" y1="205.00" x2="318.20" y2="205.00" stroke="#5cc4f4" stroke-width="1.0" opacity="0.6"/>
<line x1="298.20" y1="209.50" x2="318.20" y2="209.50" stroke="#5cc4f4" stroke-width="1.0" opacity="0.6"/>
<path d="M273.20,150.00 C274.12,144.67 277.62,151.33 278.70,158.00 C279.78,164.67 279.95,182.33 279.70,190.00 C279.45,197.67 278.28,200.33 277.20,204.00 C276.12,207.67 274.53,210.67 273.20,212.00 C271.87,213.33 269.53,214.00 269.20,212.00 C268.87,210.00 270.53,203.67 271.20,200.00 C271.87,196.33 272.87,198.33 273.20,190.00 C273.53,181.67 272.28,155.33 273.20,150.00 Z" fill="#d860e0" opacity="0.85"/>
<path d="M343.00,150.00 C342.08,144.67 338.58,151.33 337.50,158.00 C336.42,164.67 336.25,182.33 336.50,190.00 C336.75,197.67 337.92,200.33 339.00,204.00 C340.08,207.67 341.67,210.67 343.00,212.00 C344.33,213.33 346.67,214.00 347.00,212.00 C347.33,210.00 345.67,203.67 345.00,200.00 C344.33,196.33 343.33,198.33 343.00,190.00 C342.67,181.67 343.92,155.33 343.00,150.00 Z" fill="#d860e0" opacity="0.85"/>
<path d="M263.40,99.40 C267.53,80.63 284.07,97.63 288.20,99.40 C292.33,101.17 289.20,108.10 288.20,110.00 C287.20,111.90 283.67,110.30 282.20,110.80 C280.73,111.30 280.10,112.13 279.40,113.00 C278.70,113.87 278.47,114.67 278.00,116.00 C277.53,117.33 277.02,118.67 276.60,121.00 C276.18,123.33 275.73,123.50 275.50,130.00 C275.27,136.50 275.22,150.83 275.20,160.00 C275.18,169.17 275.53,178.67 275.40,185.00 C275.27,191.33 274.93,194.67 274.40,198.00 C273.87,201.33 273.07,203.00 272.20,205.00 C271.33,207.00 270.67,208.83 269.20,210.00 C267.73,211.17 264.37,230.43 263.40,212.00 C262.43,193.57 259.27,118.17 263.40,99.40 Z" fill="#e8302c" />
<path d="M352.80,99.40 C348.67,80.63 332.13,97.63 328.00,99.40 C323.87,101.17 327.00,108.10 328.00,110.00 C329.00,111.90 332.53,110.30 334.00,110.80 C335.47,111.30 336.10,112.13 336.80,113.00 C337.50,113.87 337.73,114.67 338.20,116.00 C338.67,117.33 339.18,118.67 339.60,121.00 C340.02,123.33 340.47,123.50 340.70,130.00 C340.93,136.50 340.98,150.83 341.00,160.00 C341.02,169.17 340.67,178.67 340.80,185.00 C340.93,191.33 341.27,194.67 341.80,198.00 C342.33,201.33 343.13,203.00 344.00,205.00 C344.87,207.00 345.53,208.83 347.00,210.00 C348.47,211.17 351.83,230.43 352.80,212.00 C353.77,193.57 356.93,118.17 352.80,99.40 Z" fill="#e8302c" />
<path d="M278.60,115.50 C279.68,113.93 281.30,112.77 283.00,112.60 C284.70,112.43 287.70,112.93 288.80,114.50 C289.90,116.07 289.83,118.92 289.60,122.00 C289.37,125.08 288.30,128.93 287.40,133.00 C286.50,137.07 285.13,142.40 284.20,146.40 C283.27,150.40 282.83,154.57 281.80,157.00 C280.77,159.43 279.10,161.00 278.00,161.00 C276.90,161.00 275.77,159.43 275.20,157.00 C274.63,154.57 274.68,150.40 274.60,146.40 C274.52,142.40 274.38,137.07 274.70,133.00 C275.02,128.93 275.85,124.92 276.50,122.00 C277.15,119.08 277.52,117.07 278.60,115.50 Z" fill="#f07028" />
<path d="M337.60,115.50 C336.52,113.93 334.90,112.77 333.20,112.60 C331.50,112.43 328.50,112.93 327.40,114.50 C326.30,116.07 326.37,118.92 326.60,122.00 C326.83,125.08 327.90,128.93 328.80,133.00 C329.70,137.07 331.07,142.40 332.00,146.40 C332.93,150.40 333.37,154.57 334.40,157.00 C335.43,159.43 337.10,161.00 338.20,161.00 C339.30,161.00 340.43,159.43 341.00,157.00 C341.57,154.57 341.52,150.40 341.60,146.40 C341.68,142.40 341.82,137.07 341.50,133.00 C341.18,128.93 340.35,124.92 339.70,122.00 C339.05,119.08 338.68,117.07 337.60,115.50 Z" fill="#f07028" />
<path d="M279.00,116.00 C279.97,114.53 281.70,113.20 283.00,113.20 C284.30,113.20 286.23,114.53 286.80,116.00 C287.37,117.47 286.83,119.17 286.40,122.00 C285.97,124.83 285.02,128.93 284.20,133.00 C283.38,137.07 282.20,142.40 281.50,146.40 C280.80,150.40 280.58,154.82 280.00,157.00 C279.42,159.18 278.67,159.50 278.00,159.50 C277.33,159.50 276.43,159.18 276.00,157.00 C275.57,154.82 275.50,150.40 275.40,146.40 C275.30,142.40 275.10,137.07 275.40,133.00 C275.70,128.93 276.60,124.83 277.20,122.00 C277.80,119.17 278.03,117.47 279.00,116.00 Z" fill="#b8dc20" />
<path d="M337.20,116.00 C336.23,114.53 334.50,113.20 333.20,113.20 C331.90,113.20 329.97,114.53 329.40,116.00 C328.83,117.47 329.37,119.17 329.80,122.00 C330.23,124.83 331.18,128.93 332.00,133.00 C332.82,137.07 334.00,142.40 334.70,146.40 C335.40,150.40 335.62,154.82 336.20,157.00 C336.78,159.18 337.53,159.50 338.20,159.50 C338.87,159.50 339.77,159.18 340.20,157.00 C340.63,154.82 340.70,150.40 340.80,146.40 C340.90,142.40 341.10,137.07 340.80,133.00 C340.50,128.93 339.60,124.83 339.00,122.00 C338.40,119.17 338.17,117.47 337.20,116.00 Z" fill="#b8dc20" />
<path d="M280.20,119.00 C280.95,118.17 282.45,116.67 283.20,117.00 C283.95,117.33 284.78,118.33 284.70,121.00 C284.62,123.67 283.45,128.83 282.70,133.00 C281.95,137.17 280.87,142.83 280.20,146.00 C279.53,149.17 279.15,152.00 278.70,152.00 C278.25,152.00 277.72,149.17 277.50,146.00 C277.28,142.83 277.20,137.00 277.40,133.00 C277.60,129.00 278.23,124.33 278.70,122.00 C279.17,119.67 279.45,119.83 280.20,119.00 Z" fill="#48c83a" />
<path d="M336.00,119.00 C335.25,118.17 333.75,116.67 333.00,117.00 C332.25,117.33 331.42,118.33 331.50,121.00 C331.58,123.67 332.75,128.83 333.50,133.00 C334.25,137.17 335.33,142.83 336.00,146.00 C336.67,149.17 337.05,152.00 337.50,152.00 C337.95,152.00 338.48,149.17 338.70,146.00 C338.92,142.83 339.00,137.00 338.80,133.00 C338.60,129.00 337.97,124.33 337.50,122.00 C337.03,119.67 336.75,119.83 336.00,119.00 Z" fill="#48c83a" />
<circle cx="281.50" cy="120.8" r="1.3" fill="#f06028"/>
<circle cx="334.70" cy="120.8" r="1.3" fill="#f06028"/>
<path d="M276.20,109.80 L340.20,109.80 L338.20,113.20 L278.20,113.20 Z" fill="#48c848" />
<ellipse cx="294.00" cy="119.6" rx="5.6" ry="3.2" fill="#dc6ce8" opacity="0.85"/>
<ellipse cx="322.20" cy="119.6" rx="5.6" ry="3.2" fill="#dc6ce8" opacity="0.85"/>
<path d="M286.60,116.50 Q294.00,108.50 301.60,115.50" fill="none" stroke="#40cc80" stroke-width="2.6"/>
<path d="M286.60,118.50 Q294.00,110.50 301.60,117.50" fill="none" stroke="#40d0ec" stroke-width="2.2"/>
<path d="M286.60,120.70 Q294.00,112.70 301.60,119.70" fill="none" stroke="#3a58f0" stroke-width="2.4"/>
<path d="M329.80,116.50 Q322.40,108.50 314.80,115.50" fill="none" stroke="#40cc80" stroke-width="2.6"/>
<path d="M329.80,118.50 Q322.40,110.50 314.80,117.50" fill="none" stroke="#40d0ec" stroke-width="2.2"/>
<path d="M329.80,120.70 Q322.40,112.70 314.80,119.70" fill="none" stroke="#3a58f0" stroke-width="2.4"/>
<path d="M288.20,99.40 L328.50,99.40 L328.50,109.80 L288.20,109.80 Z" fill="#96e030" />
<path d="M298.70,118.00 C295.60,120.83 299.13,128.83 299.00,135.00 C298.87,141.17 298.20,148.33 297.90,155.00 C297.60,161.67 297.42,170.00 297.20,175.00 C296.98,180.00 297.07,180.83 296.60,185.00 C296.13,189.17 295.50,194.83 294.40,200.00 C293.30,205.17 291.03,212.33 290.00,216.00 C288.97,219.67 281.87,221.00 288.20,222.00 C294.53,223.00 321.67,223.00 328.00,222.00 C334.33,221.00 327.23,219.67 326.20,216.00 C325.17,212.33 322.90,205.17 321.80,200.00 C320.70,194.83 320.07,189.17 319.60,185.00 C319.13,180.83 319.20,180.00 319.00,175.00 C318.80,170.00 318.68,161.67 318.40,155.00 C318.12,148.33 317.43,141.17 317.30,135.00 C317.17,128.83 320.70,120.83 317.60,118.00 C314.50,115.17 301.80,115.17 298.70,118.00 Z" fill="none" stroke="#3a50ee" stroke-width="2.6"/>
<path d="M298.70,118.00 C295.60,120.83 299.13,128.83 299.00,135.00 C298.87,141.17 298.20,148.33 297.90,155.00 C297.60,161.67 297.42,170.00 297.20,175.00 C296.98,180.00 297.07,180.83 296.60,185.00 C296.13,189.17 295.50,194.83 294.40,200.00 C293.30,205.17 291.03,212.33 290.00,216.00 C288.97,219.67 281.87,221.00 288.20,222.00 C294.53,223.00 321.67,223.00 328.00,222.00 C334.33,221.00 327.23,219.67 326.20,216.00 C325.17,212.33 322.90,205.17 321.80,200.00 C320.70,194.83 320.07,189.17 319.60,185.00 C319.13,180.83 319.20,180.00 319.00,175.00 C318.80,170.00 318.68,161.67 318.40,155.00 C318.12,148.33 317.43,141.17 317.30,135.00 C317.17,128.83 320.70,120.83 317.60,118.00 C314.50,115.17 301.80,115.17 298.70,118.00 Z" fill="#36d6f4" />
<path d="M298.80,118.60 C299.40,118.35 301.63,120.68 303.20,121.50 C304.77,122.32 306.53,123.50 308.20,123.50 C309.87,123.50 311.63,122.32 313.20,121.50 C314.77,120.68 317.00,118.35 317.60,118.60 C318.20,118.85 317.70,121.52 316.80,123.00 C315.90,124.48 313.63,126.53 312.20,127.50 C310.77,128.47 309.53,128.80 308.20,128.80 C306.87,128.80 305.63,128.47 304.20,127.50 C302.77,126.53 300.50,124.48 299.60,123.00 C298.70,121.52 298.20,118.85 298.80,118.60 Z" fill="#e8dc20" />
<path d="M301.40,112.40 C303.57,111.47 312.83,111.47 315.00,112.40 C317.17,113.33 315.53,116.60 314.40,118.00 C313.27,119.40 310.27,120.80 308.20,120.80 C306.13,120.80 303.13,119.40 302.00,118.00 C300.87,116.60 299.23,113.33 301.40,112.40 Z" fill="#4ac83a" />
<ellipse cx="308.20" cy="115.8" rx="4.2" ry="2.0" fill="#b8dc24"/>
<path d="M303.00,126.60 C304.67,125.78 311.73,125.78 313.40,126.60 C315.07,127.42 313.87,130.10 313.00,131.50 C312.13,132.90 309.80,135.00 308.20,135.00 C306.60,135.00 304.27,132.90 303.40,131.50 C302.53,130.10 301.33,127.42 303.00,126.60 Z" fill="#3cc63c" />
<circle cx="308.20" cy="132.4" r="1.2" fill="#d0e020"/>
<circle cx="299.60" cy="120.6" r="1.5" fill="#f04a30"/>
<circle cx="316.80" cy="120.6" r="1.5" fill="#f04a30"/>
<ellipse cx="273.20" cy="215.5" rx="10" ry="4.5" fill="#7450ea"/>
<ellipse cx="343.00" cy="215.5" rx="10" ry="4.5" fill="#7450ea"/>
</g></g>
<line x1="267.40" y1="109.80" x2="348.80" y2="109.80" stroke="#fff" stroke-width="1.7" stroke-dasharray="4.6,6.1" stroke-dashoffset="-1" opacity="0.92"/>
<rect x="267.40" y="103.40" width="81.40" height="114.20" fill="none" stroke="#303030" stroke-width="0.9" />
<line x1="287.70" y1="103.40" x2="287.70" y2="106.60" stroke="#222" stroke-width="0.9" />
<line x1="287.70" y1="217.60" x2="287.70" y2="214.40" stroke="#222" stroke-width="0.9" />
<line x1="308.10" y1="103.40" x2="308.10" y2="106.60" stroke="#222" stroke-width="0.9" />
<line x1="308.10" y1="217.60" x2="308.10" y2="214.40" stroke="#222" stroke-width="0.9" />
<line x1="328.50" y1="103.40" x2="328.50" y2="106.60" stroke="#222" stroke-width="0.9" />
<line x1="328.50" y1="217.60" x2="328.50" y2="214.40" stroke="#222" stroke-width="0.9" />
<line x1="271.20" y1="111.20" x2="281.30" y2="101.52" stroke="#000" stroke-width="2.0" />
<path d="M285.80,97.20 L282.94,105.49 L277.40,99.71 Z" fill="#000" stroke="none" stroke-width="1" />
<line x1="301.20" y1="97.20" x2="309.69" y2="106.09" stroke="#000" stroke-width="2.0" />
<path d="M314.00,110.60 L305.72,107.72 L311.50,102.20 Z" fill="#000" stroke="none" stroke-width="1" />
<line x1="331.00" y1="110.90" x2="340.54" y2="101.56" stroke="#000" stroke-width="2.0" />
<path d="M345.00,97.20 L342.22,105.51 L336.63,99.80 Z" fill="#000" stroke="none" stroke-width="1" />
<line x1="285.70" y1="214.50" x2="276.96" y2="205.96" stroke="#000" stroke-width="2.0" />
<path d="M272.50,201.60 L280.87,204.19 L275.28,209.91 Z" fill="#000" stroke="none" stroke-width="1" />
<line x1="314.70" y1="200.80" x2="306.52" y2="209.30" stroke="#000" stroke-width="2.0" />
<path d="M302.20,213.80 L304.72,205.41 L310.49,210.95 Z" fill="#000" stroke="none" stroke-width="1" />
<line x1="344.50" y1="214.50" x2="335.68" y2="205.94" stroke="#000" stroke-width="2.0" />
<path d="M331.20,201.60 L339.58,204.16 L334.01,209.90 Z" fill="#000" stroke="none" stroke-width="1" />
<g clip-path="url(#clip3)"><rect x="493.9" y="103.4" width="81.40" height="114.20" fill="#fff"/><g filter="url(#bl3)">
<rect x="489.9" y="99.4" width="89.40" height="122.20" fill="#fff"/>
<path d="M489.90,99.40 L579.30,99.40 L579.30,221.60 L489.90,221.60 Z" fill="#e8302c" />
<path d="M507.70,109.60 C516.53,108.20 552.87,108.20 561.70,109.60 C570.53,111.00 561.40,115.60 560.70,118.00 C560.00,120.40 565.67,123.00 557.50,124.00 C549.33,125.00 519.83,125.00 511.70,124.00 C503.57,123.00 509.37,120.40 508.70,118.00 C508.03,115.60 498.87,111.00 507.70,109.60 Z" fill="#4cc83a" />
<path d="M511.70,124.10 Q522.00,111.10 531.10,120.60 L538.30,120.60 Q547.40,111.10 557.50,124.10 L557.50,222 L511.70,222 Z" fill="url(#cpur)"/>
<path d="M511.70,119.90 Q522.00,106.90 531.10,116.40" fill="none" stroke="#40d4e8" stroke-width="2.2"/>
<path d="M511.70,122.30 Q522.00,109.30 531.10,118.80" fill="none" stroke="#3a50f0" stroke-width="2.6"/>
<path d="M557.50,119.90 Q547.40,106.90 538.30,116.40" fill="none" stroke="#40d4e8" stroke-width="2.2"/>
<path d="M557.50,122.30 Q547.40,109.30 538.30,118.80" fill="none" stroke="#3a50f0" stroke-width="2.6"/>
<path d="M510.70,110.80 C513.25,108.57 516.12,109.63 515.20,112.20 C514.28,114.77 507.75,123.97 505.20,126.20 C502.65,128.43 498.98,128.17 499.90,125.60 C500.82,123.03 508.15,113.03 510.70,110.80 Z" fill="#52c83a" />
<path d="M558.50,110.80 C555.95,108.57 553.08,109.63 554.00,112.20 C554.92,114.77 561.45,123.97 564.00,126.20 C566.55,128.43 570.22,128.17 569.30,125.60 C568.38,123.03 561.05,113.03 558.50,110.80 Z" fill="#52c83a" />
<path d="M510.10,113.80 C511.87,112.20 513.73,112.60 512.90,114.40 C512.07,116.20 506.87,123.00 505.10,124.60 C503.33,126.20 501.47,125.80 502.30,124.00 C503.13,122.20 508.33,115.40 510.10,113.80 Z" fill="#d8dc20" />
<path d="M559.10,113.80 C557.33,112.20 555.47,112.60 556.30,114.40 C557.13,116.20 562.33,123.00 564.10,124.60 C565.87,126.20 567.73,125.80 566.90,124.00 C566.07,122.20 560.87,115.40 559.10,113.80 Z" fill="#d8dc20" />
<circle cx="506.90" cy="120.6" r="1.1" fill="#f05028"/>
<circle cx="562.30" cy="120.6" r="1.1" fill="#f05028"/>
<path d="M514.90,99.40 L554.60,99.40 L554.60,109.60 L514.90,109.60 Z" fill="#96e030" />
<path d="M528.10,122.50 C529.03,121.17 532.50,120.00 534.70,120.00 C536.90,120.00 540.37,121.17 541.30,122.50 C542.23,123.83 541.40,126.75 540.30,128.00 C539.20,129.25 536.57,130.00 534.70,130.00 C532.83,130.00 530.20,129.25 529.10,128.00 C528.00,126.75 527.17,123.83 528.10,122.50 Z" fill="#f0b028" />
<path d="M529.50,112.80 C531.12,111.68 538.32,111.68 540.00,112.80 C541.68,113.92 540.48,117.75 539.60,119.50 C538.72,121.25 536.25,123.30 534.70,123.30 C533.15,123.30 531.17,121.25 530.30,119.50 C529.43,117.75 527.88,113.92 529.50,112.80 Z" fill="#48c83a" />
<ellipse cx="534.80" cy="116.2" rx="3" ry="1.8" fill="#a8dc28"/>
<circle cx="534.70" cy="124.8" r="1.6" fill="#e8d820"/>
<circle cx="534.70" cy="127.4" r="1.1" fill="#f08020"/>
<circle cx="534.70" cy="131.4" r="1.2" fill="#3060f0"/>
<circle cx="528.90" cy="123.3" r="1.3" fill="#f03030"/>
<circle cx="540.50" cy="123.3" r="1.3" fill="#f03030"/>
<line x1="514.70" y1="126.00" x2="554.70" y2="148.00" stroke="#7a48ee" stroke-width="1" opacity="0.22"/>
<line x1="554.70" y1="126.00" x2="514.70" y2="148.00" stroke="#7a48ee" stroke-width="1" opacity="0.22"/>
<line x1="514.70" y1="136.00" x2="554.70" y2="158.00" stroke="#7a48ee" stroke-width="1" opacity="0.22"/>
<line x1="554.70" y1="136.00" x2="514.70" y2="158.00" stroke="#7a48ee" stroke-width="1" opacity="0.22"/>
<line x1="514.70" y1="146.00" x2="554.70" y2="168.00" stroke="#7a48ee" stroke-width="1" opacity="0.22"/>
<line x1="554.70" y1="146.00" x2="514.70" y2="168.00" stroke="#7a48ee" stroke-width="1" opacity="0.22"/>
<line x1="514.70" y1="156.00" x2="554.70" y2="178.00" stroke="#7a48ee" stroke-width="1" opacity="0.22"/>
<line x1="554.70" y1="156.00" x2="514.70" y2="178.00" stroke="#7a48ee" stroke-width="1" opacity="0.22"/>
<line x1="514.70" y1="166.00" x2="554.70" y2="188.00" stroke="#7a48ee" stroke-width="1" opacity="0.22"/>
<line x1="554.70" y1="166.00" x2="514.70" y2="188.00" stroke="#7a48ee" stroke-width="1" opacity="0.22"/>
<line x1="514.70" y1="176.00" x2="554.70" y2="198.00" stroke="#7a48ee" stroke-width="1" opacity="0.22"/>
<line x1="554.70" y1="176.00" x2="514.70" y2="198.00" stroke="#7a48ee" stroke-width="1" opacity="0.22"/>
<line x1="514.70" y1="186.00" x2="554.70" y2="208.00" stroke="#7a48ee" stroke-width="1" opacity="0.22"/>
<line x1="554.70" y1="186.00" x2="514.70" y2="208.00" stroke="#7a48ee" stroke-width="1" opacity="0.22"/>
<line x1="514.70" y1="196.00" x2="554.70" y2="218.00" stroke="#7a48ee" stroke-width="1" opacity="0.22"/>
<line x1="554.70" y1="196.00" x2="514.70" y2="218.00" stroke="#7a48ee" stroke-width="1" opacity="0.22"/>
<line x1="514.70" y1="206.00" x2="554.70" y2="228.00" stroke="#7a48ee" stroke-width="1" opacity="0.22"/>
<line x1="554.70" y1="206.00" x2="514.70" y2="228.00" stroke="#7a48ee" stroke-width="1" opacity="0.22"/>
<line x1="494.70" y1="120.00" x2="510.70" y2="123.00" stroke="#f0506a" stroke-width="1.0" opacity="0.35"/>
<line x1="574.70" y1="120.00" x2="558.70" y2="123.00" stroke="#f0506a" stroke-width="1.0" opacity="0.35"/>
<line x1="494.70" y1="124.40" x2="510.70" y2="127.40" stroke="#f0506a" stroke-width="1.0" opacity="0.35"/>
<line x1="574.70" y1="124.40" x2="558.70" y2="127.40" stroke="#f0506a" stroke-width="1.0" opacity="0.35"/>
<line x1="494.70" y1="128.80" x2="510.70" y2="131.80" stroke="#f0506a" stroke-width="1.0" opacity="0.35"/>
<line x1="574.70" y1="128.80" x2="558.70" y2="131.80" stroke="#f0506a" stroke-width="1.0" opacity="0.35"/>
<line x1="494.70" y1="133.20" x2="510.70" y2="136.20" stroke="#f0506a" stroke-width="1.0" opacity="0.35"/>
<line x1="574.70" y1="133.20" x2="558.70" y2="136.20" stroke="#f0506a" stroke-width="1.0" opacity="0.35"/>
<line x1="494.70" y1="137.60" x2="510.70" y2="140.60" stroke="#f0506a" stroke-width="1.0" opacity="0.35"/>
<line x1="574.70" y1="137.60" x2="558.70" y2="140.60" stroke="#f0506a" stroke-width="1.0" opacity="0.35"/>
<line x1="494.70" y1="142.00" x2="510.70" y2="145.00" stroke="#f0506a" stroke-width="1.0" opacity="0.35"/>
<line x1="574.70" y1="142.00" x2="558.70" y2="145.00" stroke="#f0506a" stroke-width="1.0" opacity="0.35"/>
<line x1="494.70" y1="146.40" x2="510.70" y2="149.40" stroke="#f0506a" stroke-width="1.0" opacity="0.35"/>
<line x1="574.70" y1="146.40" x2="558.70" y2="149.40" stroke="#f0506a" stroke-width="1.0" opacity="0.35"/>
<line x1="494.70" y1="150.80" x2="510.70" y2="153.80" stroke="#f0506a" stroke-width="1.0" opacity="0.35"/>
<line x1="574.70" y1="150.80" x2="558.70" y2="153.80" stroke="#f0506a" stroke-width="1.0" opacity="0.35"/>
<line x1="494.70" y1="155.20" x2="510.70" y2="158.20" stroke="#f0506a" stroke-width="1.0" opacity="0.35"/>
<line x1="574.70" y1="155.20" x2="558.70" y2="158.20" stroke="#f0506a" stroke-width="1.0" opacity="0.35"/>
<line x1="494.70" y1="159.60" x2="510.70" y2="162.60" stroke="#f0506a" stroke-width="1.0" opacity="0.35"/>
<line x1="574.70" y1="159.60" x2="558.70" y2="162.60" stroke="#f0506a" stroke-width="1.0" opacity="0.35"/>
<line x1="494.70" y1="164.00" x2="510.70" y2="167.00" stroke="#f0506a" stroke-width="1.0" opacity="0.35"/>
<line x1="574.70" y1="164.00" x2="558.70" y2="167.00" stroke="#f0506a" stroke-width="1.0" opacity="0.35"/>
<line x1="494.70" y1="168.40" x2="510.70" y2="171.40" stroke="#f0506a" stroke-width="1.0" opacity="0.35"/>
<line x1="574.70" y1="168.40" x2="558.70" y2="171.40" stroke="#f0506a" stroke-width="1.0" opacity="0.35"/>
<line x1="494.70" y1="172.80" x2="510.70" y2="175.80" stroke="#f0506a" stroke-width="1.0" opacity="0.35"/>
<line x1="574.70" y1="172.80" x2="558.70" y2="175.80" stroke="#f0506a" stroke-width="1.0" opacity="0.35"/>
<line x1="494.70" y1="177.20" x2="510.70" y2="180.20" stroke="#f0506a" stroke-width="1.0" opacity="0.35"/>
<line x1="574.70" y1="177.20" x2="558.70" y2="180.20" stroke="#f0506a" stroke-width="1.0" opacity="0.35"/>
<line x1="494.70" y1="181.60" x2="510.70" y2="184.60" stroke="#f0506a" stroke-width="1.0" opacity="0.35"/>
<line x1="574.70" y1="181.60" x2="558.70" y2="184.60" stroke="#f0506a" stroke-width="1.0" opacity="0.35"/>
<line x1="494.70" y1="186.00" x2="510.70" y2="189.00" stroke="#f0506a" stroke-width="1.0" opacity="0.35"/>
<line x1="574.70" y1="186.00" x2="558.70" y2="189.00" stroke="#f0506a" stroke-width="1.0" opacity="0.35"/>
<line x1="494.70" y1="190.40" x2="510.70" y2="193.40" stroke="#f0506a" stroke-width="1.0" opacity="0.35"/>
<line x1="574.70" y1="190.40" x2="558.70" y2="193.40" stroke="#f0506a" stroke-width="1.0" opacity="0.35"/>
<line x1="494.70" y1="194.80" x2="510.70" y2="197.80" stroke="#f0506a" stroke-width="1.0" opacity="0.35"/>
<line x1="574.70" y1="194.80" x2="558.70" y2="197.80" stroke="#f0506a" stroke-width="1.0" opacity="0.35"/>
<line x1="494.70" y1="199.20" x2="510.70" y2="202.20" stroke="#f0506a" stroke-width="1.0" opacity="0.35"/>
<line x1="574.70" y1="199.20" x2="558.70" y2="202.20" stroke="#f0506a" stroke-width="1.0" opacity="0.35"/>
<line x1="494.70" y1="203.60" x2="510.70" y2="206.60" stroke="#f0506a" stroke-width="1.0" opacity="0.35"/>
<line x1="574.70" y1="203.60" x2="558.70" y2="206.60" stroke="#f0506a" stroke-width="1.0" opacity="0.35"/>
<line x1="494.70" y1="208.00" x2="510.70" y2="211.00" stroke="#f0506a" stroke-width="1.0" opacity="0.35"/>
<line x1="574.70" y1="208.00" x2="558.70" y2="211.00" stroke="#f0506a" stroke-width="1.0" opacity="0.35"/>
<line x1="494.70" y1="212.40" x2="510.70" y2="215.40" stroke="#f0506a" stroke-width="1.0" opacity="0.35"/>
<line x1="574.70" y1="212.40" x2="558.70" y2="215.40" stroke="#f0506a" stroke-width="1.0" opacity="0.35"/>
</g></g>
<line x1="493.90" y1="109.80" x2="575.30" y2="109.80" stroke="#fff" stroke-width="1.7" stroke-dasharray="4.6,6.1" stroke-dashoffset="-1" opacity="0.92"/>
<rect x="493.90" y="103.40" width="81.40" height="114.20" fill="none" stroke="#303030" stroke-width="0.9" />
<line x1="514.20" y1="103.40" x2="514.20" y2="106.60" stroke="#222" stroke-width="0.9" />
<line x1="514.20" y1="217.60" x2="514.20" y2="214.40" stroke="#222" stroke-width="0.9" />
<line x1="534.60" y1="103.40" x2="534.60" y2="106.60" stroke="#222" stroke-width="0.9" />
<line x1="534.60" y1="217.60" x2="534.60" y2="214.40" stroke="#222" stroke-width="0.9" />
<line x1="555.00" y1="103.40" x2="555.00" y2="106.60" stroke="#222" stroke-width="0.9" />
<line x1="555.00" y1="217.60" x2="555.00" y2="214.40" stroke="#222" stroke-width="0.9" />
<line x1="497.70" y1="111.20" x2="507.80" y2="101.52" stroke="#000" stroke-width="2.0" />
<path d="M512.30,97.20 L509.44,105.49 L503.90,99.71 Z" fill="#000" stroke="none" stroke-width="1" />
<line x1="527.70" y1="97.20" x2="536.19" y2="106.09" stroke="#000" stroke-width="2.0" />
<path d="M540.50,110.60 L532.22,107.72 L538.00,102.20 Z" fill="#000" stroke="none" stroke-width="1" />
<line x1="557.50" y1="110.90" x2="567.04" y2="101.56" stroke="#000" stroke-width="2.0" />
<path d="M571.50,97.20 L568.72,105.51 L563.13,99.80 Z" fill="#000" stroke="none" stroke-width="1" />
<line x1="498.70" y1="214.50" x2="507.75" y2="205.58" stroke="#fff" stroke-width="2.0" />
<path d="M512.20,201.20 L509.45,209.52 L503.84,203.82 Z" fill="#fff" stroke="none" stroke-width="1" />
<line x1="541.20" y1="213.80" x2="533.09" y2="205.63" stroke="#fff" stroke-width="2.0" />
<path d="M528.70,201.20 L537.03,203.92 L531.35,209.55 Z" fill="#fff" stroke="none" stroke-width="1" />
<line x1="557.70" y1="214.50" x2="566.75" y2="205.58" stroke="#fff" stroke-width="2.0" />
<path d="M571.20,201.20 L568.45,209.52 L562.84,203.82 Z" fill="#fff" stroke="none" stroke-width="1" />
<g clip-path="url(#clip5)"><rect x="129.2" y="103.4" width="80.60" height="114.20" fill="#8ae27a"/><g filter="url(#bl5)">
<rect x="125.19999999999999" y="99.4" width="88.60" height="122.20" fill="#8ae27a"/>
<path d="M125.20,99.40 L213.80,99.40 L213.80,221.60 L125.20,221.60 Z" fill="#8ae27a" />
<line x1="129.20" y1="40.40" x2="209.80" y2="84.73" stroke="#d4ea5c" stroke-width="1.0" opacity="0.4"/>
<line x1="209.80" y1="40.40" x2="129.20" y2="84.73" stroke="#d4ea5c" stroke-width="1.0" opacity="0.4"/>
<line x1="129.20" y1="44.90" x2="209.80" y2="89.23" stroke="#5cd4c4" stroke-width="0.8" opacity="0.3"/>
<line x1="209.80" y1="44.90" x2="129.20" y2="89.23" stroke="#5cd4c4" stroke-width="0.8" opacity="0.3"/>
<line x1="129.20" y1="49.40" x2="209.80" y2="93.73" stroke="#d4ea5c" stroke-width="1.0" opacity="0.4"/>
<line x1="209.80" y1="49.40" x2="129.20" y2="93.73" stroke="#d4ea5c" stroke-width="1.0" opacity="0.4"/>
<line x1="129.20" y1="53.90" x2="209.80" y2="98.23" stroke="#5cd4c4" stroke-width="0.8" opacity="0.3"/>
<line x1="209.80" y1="53.90" x2="129.20" y2="98.23" stroke="#5cd4c4" stroke-width="0.8" opacity="0.3"/>
<line x1="129.20" y1="58.40" x2="209.80" y2="102.73" stroke="#d4ea5c" stroke-width="1.0" opacity="0.4"/>
<line x1="209.80" y1="58.40" x2="129.20" y2="102.73" stroke="#d4ea5c" stroke-width="1.0" opacity="0.4"/>
<line x1="129.20" y1="62.90" x2="209.80" y2="107.23" stroke="#5cd4c4" stroke-width="0.8" opacity="0.3"/>
<line x1="209.80" y1="62.90" x2="129.20" y2="107.23" stroke="#5cd4c4" stroke-width="0.8" opacity="0.3"/>
<line x1="129.20" y1="67.40" x2="209.80" y2="111.73" stroke="#d4ea5c" stroke-width="1.0" opacity="0.4"/>
<line x1="209.80" y1="67.40" x2="129.20" y2="111.73" stroke="#d4ea5c" stroke-width="1.0" opacity="0.4"/>
<line x1="129.20" y1="71.90" x2="209.80" y2="116.23" stroke="#5cd4c4" stroke-width="0.8" opacity="0.3"/>
<line x1="209.80" y1="71.90" x2="129.20" y2="116.23" stroke="#5cd4c4" stroke-width="0.8" opacity="0.3"/>
<line x1="129.20" y1="76.40" x2="209.80" y2="120.73" stroke="#d4ea5c" stroke-width="1.0" opacity="0.4"/>
<line x1="209.80" y1="76.40" x2="129.20" y2="120.73" stroke="#d4ea5c" stroke-width="1.0" opacity="0.4"/>
<line x1="129.20" y1="80.90" x2="209.80" y2="125.23" stroke="#5cd4c4" stroke-width="0.8" opacity="0.3"/>
<line x1="209.80" y1="80.90" x2="129.20" y2="125.23" stroke="#5cd4c4" stroke-width="0.8" opacity="0.3"/>
<line x1="129.20" y1="85.40" x2="209.80" y2="129.73" stroke="#d4ea5c" stroke-width="1.0" opacity="0.4"/>
<line x1="209.80" y1="85.40" x2="129.20" y2="129.73" stroke="#d4ea5c" stroke-width="1.0" opacity="0.4"/>
<line x1="129.20" y1="89.90" x2="209.80" y2="134.23" stroke="#5cd4c4" stroke-width="0.8" opacity="0.3"/>
<line x1="209.80" y1="89.90" x2="129.20" y2="134.23" stroke="#5cd4c4" stroke-width="0.8" opacity="0.3"/>
<line x1="129.20" y1="94.40" x2="209.80" y2="138.73" stroke="#d4ea5c" stroke-width="1.0" opacity="0.4"/>
<line x1="209.80" y1="94.40" x2="129.20" y2="138.73" stroke="#d4ea5c" stroke-width="1.0" opacity="0.4"/>
<line x1="129.20" y1="98.90" x2="209.80" y2="143.23" stroke="#5cd4c4" stroke-width="0.8" opacity="0.3"/>
<line x1="209.80" y1="98.90" x2="129.20" y2="143.23" stroke="#5cd4c4" stroke-width="0.8" opacity="0.3"/>
<line x1="129.20" y1="103.40" x2="209.80" y2="147.73" stroke="#d4ea5c" stroke-width="1.0" opacity="0.4"/>
<line x1="209.80" y1="103.40" x2="129.20" y2="147.73" stroke="#d4ea5c" stroke-width="1.0" opacity="0.4"/>
<line x1="129.20" y1="107.90" x2="209.80" y2="152.23" stroke="#5cd4c4" stroke-width="0.8" opacity="0.3"/>
<line x1="209.80" y1="107.90" x2="129.20" y2="152.23" stroke="#5cd4c4" stroke-width="0.8" opacity="0.3"/>
<line x1="129.20" y1="112.40" x2="209.80" y2="156.73" stroke="#d4ea5c" stroke-width="1.0" opacity="0.4"/>
<line x1="209.80" y1="112.40" x2="129.20" y2="156.73" stroke="#d4ea5c" stroke-width="1.0" opacity="0.4"/>
<line x1="129.20" y1="116.90" x2="209.80" y2="161.23" stroke="#5cd4c4" stroke-width="0.8" opacity="0.3"/>
<line x1="209.80" y1="116.90" x2="129.20" y2="161.23" stroke="#5cd4c4" stroke-width="0.8" opacity="0.3"/>
<line x1="129.20" y1="121.40" x2="209.80" y2="165.73" stroke="#d4ea5c" stroke-width="1.0" opacity="0.4"/>
<line x1="209.80" y1="121.40" x2="129.20" y2="165.73" stroke="#d4ea5c" stroke-width="1.0" opacity="0.4"/>
<line x1="129.20" y1="125.90" x2="209.80" y2="170.23" stroke="#5cd4c4" stroke-width="0.8" opacity="0.3"/>
<line x1="209.80" y1="125.90" x2="129.20" y2="170.23" stroke="#5cd4c4" stroke-width="0.8" opacity="0.3"/>
<line x1="129.20" y1="130.40" x2="209.80" y2="174.73" stroke="#d4ea5c" stroke-width="1.0" opacity="0.4"/>
<line x1="209.80" y1="130.40" x2="129.20" y2="174.73" stroke="#d4ea5c" stroke-width="1.0" opacity="0.4"/>
<line x1="129.20" y1="134.90" x2="209.80" y2="179.23" stroke="#5cd4c4" stroke-width="0.8" opacity="0.3"/>
<line x1="209.80" y1="134.90" x2="129.20" y2="179.23" stroke="#5cd4c4" stroke-width="0.8" opacity="0.3"/>
<line x1="129.20" y1="139.40" x2="209.80" y2="183.73" stroke="#d4ea5c" stroke-width="1.0" opacity="0.4"/>
<line x1="209.80" y1="139.40" x2="129.20" y2="183.73" stroke="#d4ea5c" stroke-width="1.0" opacity="0.4"/>
<line x1="129.20" y1="143.90" x2="209.80" y2="188.23" stroke="#5cd4c4" stroke-width="0.8" opacity="0.3"/>
<line x1="209.80" y1="143.90" x2="129.20" y2="188.23" stroke="#5cd4c4" stroke-width="0.8" opacity="0.3"/>
<line x1="129.20" y1="148.40" x2="209.80" y2="192.73" stroke="#d4ea5c" stroke-width="1.0" opacity="0.4"/>
<line x1="209.80" y1="148.40" x2="129.20" y2="192.73" stroke="#d4ea5c" stroke-width="1.0" opacity="0.4"/>
<line x1="129.20" y1="152.90" x2="209.80" y2="197.23" stroke="#5cd4c4" stroke-width="0.8" opacity="0.3"/>
<line x1="209.80" y1="152.90" x2="129.20" y2="197.23" stroke="#5cd4c4" stroke-width="0.8" opacity="0.3"/>
<line x1="129.20" y1="157.40" x2="209.80" y2="201.73" stroke="#d4ea5c" stroke-width="1.0" opacity="0.4"/>
<line x1="209.80" y1="157.40" x2="129.20" y2="201.73" stroke="#d4ea5c" stroke-width="1.0" opacity="0.4"/>
<line x1="129.20" y1="161.90" x2="209.80" y2="206.23" stroke="#5cd4c4" stroke-width="0.8" opacity="0.3"/>
<line x1="209.80" y1="161.90" x2="129.20" y2="206.23" stroke="#5cd4c4" stroke-width="0.8" opacity="0.3"/>
<line x1="129.20" y1="166.40" x2="209.80" y2="210.73" stroke="#d4ea5c" stroke-width="1.0" opacity="0.4"/>
<line x1="209.80" y1="166.40" x2="129.20" y2="210.73" stroke="#d4ea5c" stroke-width="1.0" opacity="0.4"/>
<line x1="129.20" y1="170.90" x2="209.80" y2="215.23" stroke="#5cd4c4" stroke-width="0.8" opacity="0.3"/>
<line x1="209.80" y1="170.90" x2="129.20" y2="215.23" stroke="#5cd4c4" stroke-width="0.8" opacity="0.3"/>
<line x1="129.20" y1="175.40" x2="209.80" y2="219.73" stroke="#d4ea5c" stroke-width="1.0" opacity="0.4"/>
<line x1="209.80" y1="175.40" x2="129.20" y2="219.73" stroke="#d4ea5c" stroke-width="1.0" opacity="0.4"/>
<line x1="129.20" y1="179.90" x2="209.80" y2="224.23" stroke="#5cd4c4" stroke-width="0.8" opacity="0.3"/>
<line x1="209.80" y1="179.90" x2="129.20" y2="224.23" stroke="#5cd4c4" stroke-width="0.8" opacity="0.3"/>
<line x1="129.20" y1="184.40" x2="209.80" y2="228.73" stroke="#d4ea5c" stroke-width="1.0" opacity="0.4"/>
<line x1="209.80" y1="184.40" x2="129.20" y2="228.73" stroke="#d4ea5c" stroke-width="1.0" opacity="0.4"/>
<line x1="129.20" y1="188.90" x2="209.80" y2="233.23" stroke="#5cd4c4" stroke-width="0.8" opacity="0.3"/>
<line x1="209.80" y1="188.90" x2="129.20" y2="233.23" stroke="#5cd4c4" stroke-width="0.8" opacity="0.3"/>
<line x1="129.20" y1="193.40" x2="209.80" y2="237.73" stroke="#d4ea5c" stroke-width="1.0" opacity="0.4"/>
<line x1="209.80" y1="193.40" x2="129.20" y2="237.73" stroke="#d4ea5c" stroke-width="1.0" opacity="0.4"/>
<line x1="129.20" y1="197.90" x2="209.80" y2="242.23" stroke="#5cd4c4" stroke-width="0.8" opacity="0.3"/>
<line x1="209.80" y1="197.90" x2="129.20" y2="242.23" stroke="#5cd4c4" stroke-width="0.8" opacity="0.3"/>
<line x1="129.20" y1="202.40" x2="209.80" y2="246.73" stroke="#d4ea5c" stroke-width="1.0" opacity="0.4"/>
<line x1="209.80" y1="202.40" x2="129.20" y2="246.73" stroke="#d4ea5c" stroke-width="1.0" opacity="0.4"/>
<line x1="129.20" y1="206.90" x2="209.80" y2="251.23" stroke="#5cd4c4" stroke-width="0.8" opacity="0.3"/>
<line x1="209.80" y1="206.90" x2="129.20" y2="251.23" stroke="#5cd4c4" stroke-width="0.8" opacity="0.3"/>
<line x1="129.20" y1="211.40" x2="209.80" y2="255.73" stroke="#d4ea5c" stroke-width="1.0" opacity="0.4"/>
<line x1="209.80" y1="211.40" x2="129.20" y2="255.73" stroke="#d4ea5c" stroke-width="1.0" opacity="0.4"/>
<line x1="129.20" y1="215.90" x2="209.80" y2="260.23" stroke="#5cd4c4" stroke-width="0.8" opacity="0.3"/>
<line x1="209.80" y1="215.90" x2="129.20" y2="260.23" stroke="#5cd4c4" stroke-width="0.8" opacity="0.3"/>
<line x1="129.20" y1="220.40" x2="209.80" y2="264.73" stroke="#d4ea5c" stroke-width="1.0" opacity="0.4"/>
<line x1="209.80" y1="220.40" x2="129.20" y2="264.73" stroke="#d4ea5c" stroke-width="1.0" opacity="0.4"/>
<line x1="129.20" y1="224.90" x2="209.80" y2="269.23" stroke="#5cd4c4" stroke-width="0.8" opacity="0.3"/>
<line x1="209.80" y1="224.90" x2="129.20" y2="269.23" stroke="#5cd4c4" stroke-width="0.8" opacity="0.3"/>
<path d="M149.00,110.00 C149.25,113.00 150.08,123.00 150.50,128.00 C150.92,133.00 151.05,136.03 151.50,140.00 C151.95,143.97 152.52,148.47 153.20,151.80 C153.88,155.13 155.60,157.05 155.60,160.00 C155.60,162.95 153.80,165.93 153.20,169.50 C152.60,173.07 152.28,177.98 152.00,181.40 C151.72,184.82 151.83,186.07 151.50,190.00 C151.17,193.93 150.48,199.67 150.00,205.00 C149.52,210.33 148.83,219.17 148.60,222.00" fill="none" stroke="#50d0f0" stroke-width="6.4" stroke-linecap="round" stroke-linejoin="round" opacity="0.6"/>
<path d="M149.00,110.00 C149.25,113.00 150.08,123.00 150.50,128.00 C150.92,133.00 151.05,136.03 151.50,140.00 C151.95,143.97 152.52,148.47 153.20,151.80 C153.88,155.13 155.60,157.05 155.60,160.00 C155.60,162.95 153.80,165.93 153.20,169.50 C152.60,173.07 152.28,177.98 152.00,181.40 C151.72,184.82 151.83,186.07 151.50,190.00 C151.17,193.93 150.48,199.67 150.00,205.00 C149.52,210.33 148.83,219.17 148.60,222.00" fill="none" stroke="url(#ba4_0)" stroke-width="2.8" stroke-linecap="round" stroke-linejoin="round" />
<ellipse cx="149.80" cy="110.00" rx="2.3" ry="1.5" fill="#0c2ce0" opacity="0.75"/>
<ellipse cx="148.50" cy="113.59" rx="2.3" ry="1.5" fill="#0c2ce0" opacity="0.75"/>
<ellipse cx="150.40" cy="117.18" rx="2.3" ry="1.5" fill="#0c2ce0" opacity="0.75"/>
<ellipse cx="149.10" cy="120.76" rx="2.3" ry="1.5" fill="#0c2ce0" opacity="0.75"/>
<ellipse cx="151.00" cy="124.35" rx="2.3" ry="1.5" fill="#0c2ce0" opacity="0.75"/>
<ellipse cx="149.69" cy="127.94" rx="2.3" ry="1.5" fill="#0c2ce0" opacity="0.75"/>
<ellipse cx="151.59" cy="131.53" rx="2.3" ry="1.5" fill="#0c2ce0" opacity="0.75"/>
<ellipse cx="150.29" cy="135.11" rx="2.3" ry="1.5" fill="#0c2ce0" opacity="0.75"/>
<ellipse cx="152.19" cy="138.70" rx="2.3" ry="1.5" fill="#1040e8" opacity="0.75"/>
<ellipse cx="151.03" cy="142.27" rx="2.3" ry="1.5" fill="#1040e8" opacity="0.75"/>
<ellipse cx="153.14" cy="145.84" rx="2.3" ry="1.5" fill="#1040e8" opacity="0.75"/>
<ellipse cx="152.05" cy="149.40" rx="2.3" ry="1.5" fill="#1040e8" opacity="0.75"/>
<ellipse cx="154.33" cy="152.93" rx="2.3" ry="1.5" fill="#1040e8" opacity="0.75"/>
<ellipse cx="153.74" cy="156.38" rx="2.3" ry="1.5" fill="#1040e8" opacity="0.75"/>
<ellipse cx="156.35" cy="159.84" rx="2.3" ry="1.5" fill="#1040e8" opacity="0.75"/>
<ellipse cx="153.96" cy="163.33" rx="2.3" ry="1.5" fill="#1040e8" opacity="0.75"/>
<ellipse cx="154.68" cy="166.82" rx="2.3" ry="1.5" fill="#1460f0" opacity="0.75"/>
<ellipse cx="152.32" cy="170.33" rx="2.3" ry="1.5" fill="#1460f0" opacity="0.75"/>
<ellipse cx="153.56" cy="173.91" rx="2.3" ry="1.5" fill="#1460f0" opacity="0.75"/>
<ellipse cx="151.59" cy="177.49" rx="2.3" ry="1.5" fill="#1460f0" opacity="0.75"/>
<ellipse cx="152.83" cy="181.07" rx="2.3" ry="1.5" fill="#1460f0" opacity="0.75"/>
<ellipse cx="151.01" cy="184.67" rx="2.3" ry="1.5" fill="#1460f0" opacity="0.75"/>
<ellipse cx="152.40" cy="188.26" rx="2.3" ry="1.5" fill="#1460f0" opacity="0.75"/>
<ellipse cx="150.52" cy="191.85" rx="2.3" ry="1.5" fill="#1460f0" opacity="0.75"/>
<ellipse cx="151.76" cy="195.43" rx="2.3" ry="1.5" fill="#1c80f0" opacity="0.75"/>
<ellipse cx="149.80" cy="199.01" rx="2.3" ry="1.5" fill="#1c80f0" opacity="0.75"/>
<ellipse cx="151.04" cy="202.59" rx="2.3" ry="1.5" fill="#1c80f0" opacity="0.75"/>
<ellipse cx="149.10" cy="206.18" rx="2.3" ry="1.5" fill="#1c80f0" opacity="0.75"/>
<ellipse cx="150.41" cy="209.77" rx="2.3" ry="1.5" fill="#1c80f0" opacity="0.75"/>
<ellipse cx="148.51" cy="213.35" rx="2.3" ry="1.5" fill="#1c80f0" opacity="0.75"/>
<ellipse cx="149.82" cy="216.94" rx="2.3" ry="1.5" fill="#1c80f0" opacity="0.75"/>
<ellipse cx="147.92" cy="220.53" rx="2.3" ry="1.5" fill="#1c80f0" opacity="0.75"/>
<path d="M177.70,115.50 C177.33,118.42 176.25,126.92 175.50,133.00 C174.75,139.08 173.70,148.33 173.20,152.00 C172.70,155.67 172.62,154.50 172.50,155.00" fill="none" stroke="#50d0f0" stroke-width="6.4" stroke-linecap="round" stroke-linejoin="round" opacity="0.6"/>
<path d="M177.70,115.50 C177.33,118.42 176.25,126.92 175.50,133.00 C174.75,139.08 173.70,148.33 173.20,152.00 C172.70,155.67 172.62,154.50 172.50,155.00" fill="none" stroke="url(#ba4_1)" stroke-width="2.8" stroke-linecap="round" stroke-linejoin="round" />
<ellipse cx="178.50" cy="115.50" rx="2.3" ry="1.5" fill="#0c2ce0" opacity="0.75"/>
<ellipse cx="176.45" cy="119.07" rx="2.3" ry="1.5" fill="#0c2ce0" opacity="0.75"/>
<ellipse cx="177.60" cy="122.64" rx="2.3" ry="1.5" fill="#0c2ce0" opacity="0.75"/>
<ellipse cx="175.55" cy="126.22" rx="2.3" ry="1.5" fill="#1040e8" opacity="0.75"/>
<ellipse cx="176.70" cy="129.79" rx="2.3" ry="1.5" fill="#1040e8" opacity="0.75"/>
<ellipse cx="174.66" cy="133.36" rx="2.3" ry="1.5" fill="#1040e8" opacity="0.75"/>
<ellipse cx="175.82" cy="136.93" rx="2.3" ry="1.5" fill="#1460f0" opacity="0.75"/>
<ellipse cx="173.79" cy="140.51" rx="2.3" ry="1.5" fill="#1460f0" opacity="0.75"/>
<ellipse cx="174.96" cy="144.08" rx="2.3" ry="1.5" fill="#1460f0" opacity="0.75"/>
<ellipse cx="172.93" cy="147.66" rx="2.3" ry="1.5" fill="#1c80f0" opacity="0.75"/>
<ellipse cx="174.09" cy="151.23" rx="2.3" ry="1.5" fill="#1c80f0" opacity="0.75"/>
<ellipse cx="171.76" cy="154.75" rx="2.3" ry="1.5" fill="#1c80f0" opacity="0.75"/>
<path d="M189.80,110.00 C189.58,113.00 188.97,123.00 188.50,128.00 C188.03,133.00 187.65,136.03 187.00,140.00 C186.35,143.97 185.43,148.47 184.60,151.80 C183.77,155.13 182.00,157.05 182.00,160.00 C182.00,162.95 183.88,165.93 184.60,169.50 C185.32,173.07 185.82,177.98 186.30,181.40 C186.78,184.82 187.05,186.07 187.50,190.00 C187.95,193.93 188.62,199.67 189.00,205.00 C189.38,210.33 189.67,219.17 189.80,222.00" fill="none" stroke="#f0e040" stroke-width="6.4" stroke-linecap="round" stroke-linejoin="round" opacity="0.6"/>
<path d="M189.80,110.00 C189.58,113.00 188.97,123.00 188.50,128.00 C188.03,133.00 187.65,136.03 187.00,140.00 C186.35,143.97 185.43,148.47 184.60,151.80 C183.77,155.13 182.00,157.05 182.00,160.00 C182.00,162.95 183.88,165.93 184.60,169.50 C185.32,173.07 185.82,177.98 186.30,181.40 C186.78,184.82 187.05,186.07 187.50,190.00 C187.95,193.93 188.62,199.67 189.00,205.00 C189.38,210.33 189.67,219.17 189.80,222.00" fill="none" stroke="url(#ba4_2)" stroke-width="2.8" stroke-linecap="round" stroke-linejoin="round" />
<ellipse cx="190.60" cy="110.00" rx="2.3" ry="1.5" fill="#d81808" opacity="0.75"/>
<ellipse cx="188.74" cy="113.59" rx="2.3" ry="1.5" fill="#d81808" opacity="0.75"/>
<ellipse cx="190.08" cy="117.18" rx="2.3" ry="1.5" fill="#d81808" opacity="0.75"/>
<ellipse cx="188.22" cy="120.77" rx="2.3" ry="1.5" fill="#d81808" opacity="0.75"/>
<ellipse cx="189.56" cy="124.36" rx="2.3" ry="1.5" fill="#d81808" opacity="0.75"/>
<ellipse cx="187.70" cy="127.95" rx="2.3" ry="1.5" fill="#d81808" opacity="0.75"/>
<ellipse cx="188.86" cy="131.53" rx="2.3" ry="1.5" fill="#d81808" opacity="0.75"/>
<ellipse cx="186.81" cy="135.10" rx="2.3" ry="1.5" fill="#d81808" opacity="0.75"/>
<ellipse cx="187.97" cy="138.67" rx="2.3" ry="1.5" fill="#e83010" opacity="0.75"/>
<ellipse cx="185.75" cy="142.21" rx="2.3" ry="1.5" fill="#e83010" opacity="0.75"/>
<ellipse cx="186.63" cy="145.74" rx="2.3" ry="1.5" fill="#e83010" opacity="0.75"/>
<ellipse cx="184.31" cy="149.27" rx="2.3" ry="1.5" fill="#e83010" opacity="0.75"/>
<ellipse cx="185.09" cy="152.77" rx="2.3" ry="1.5" fill="#e83010" opacity="0.75"/>
<ellipse cx="182.40" cy="156.20" rx="2.3" ry="1.5" fill="#e83010" opacity="0.75"/>
<ellipse cx="182.92" cy="159.63" rx="2.3" ry="1.5" fill="#e83010" opacity="0.75"/>
<ellipse cx="182.05" cy="163.10" rx="2.3" ry="1.5" fill="#e83010" opacity="0.75"/>
<ellipse cx="184.60" cy="166.57" rx="2.3" ry="1.5" fill="#f05818" opacity="0.75"/>
<ellipse cx="183.88" cy="170.06" rx="2.3" ry="1.5" fill="#f05818" opacity="0.75"/>
<ellipse cx="185.99" cy="173.62" rx="2.3" ry="1.5" fill="#f05818" opacity="0.75"/>
<ellipse cx="184.90" cy="177.19" rx="2.3" ry="1.5" fill="#f05818" opacity="0.75"/>
<ellipse cx="187.01" cy="180.75" rx="2.3" ry="1.5" fill="#f05818" opacity="0.75"/>
<ellipse cx="185.91" cy="184.32" rx="2.3" ry="1.5" fill="#f05818" opacity="0.75"/>
<ellipse cx="188.00" cy="187.88" rx="2.3" ry="1.5" fill="#f05818" opacity="0.75"/>
<ellipse cx="186.85" cy="191.46" rx="2.3" ry="1.5" fill="#f05818" opacity="0.75"/>
<ellipse cx="188.80" cy="195.04" rx="2.3" ry="1.5" fill="#f08818" opacity="0.75"/>
<ellipse cx="187.56" cy="198.62" rx="2.3" ry="1.5" fill="#f08818" opacity="0.75"/>
<ellipse cx="189.52" cy="202.20" rx="2.3" ry="1.5" fill="#f08818" opacity="0.75"/>
<ellipse cx="188.24" cy="205.79" rx="2.3" ry="1.5" fill="#f08818" opacity="0.75"/>
<ellipse cx="190.01" cy="209.38" rx="2.3" ry="1.5" fill="#f08818" opacity="0.75"/>
<ellipse cx="188.58" cy="212.98" rx="2.3" ry="1.5" fill="#f08818" opacity="0.75"/>
<ellipse cx="190.34" cy="216.57" rx="2.3" ry="1.5" fill="#f08818" opacity="0.75"/>
<ellipse cx="188.91" cy="220.17" rx="2.3" ry="1.5" fill="#f08818" opacity="0.75"/>
<path d="M161.00,115.50 C161.42,118.42 162.63,126.92 163.50,133.00 C164.37,139.08 165.62,148.33 166.20,152.00 C166.78,155.67 166.87,154.50 167.00,155.00" fill="none" stroke="#f0e040" stroke-width="6.4" stroke-linecap="round" stroke-linejoin="round" opacity="0.6"/>
<path d="M161.00,115.50 C161.42,118.42 162.63,126.92 163.50,133.00 C164.37,139.08 165.62,148.33 166.20,152.00 C166.78,155.67 166.87,154.50 167.00,155.00" fill="none" stroke="url(#ba4_3)" stroke-width="2.8" stroke-linecap="round" stroke-linejoin="round" />
<ellipse cx="161.80" cy="115.50" rx="2.3" ry="1.5" fill="#d81808" opacity="0.75"/>
<ellipse cx="160.71" cy="119.06" rx="2.3" ry="1.5" fill="#d81808" opacity="0.75"/>
<ellipse cx="162.82" cy="122.63" rx="2.3" ry="1.5" fill="#d81808" opacity="0.75"/>
<ellipse cx="161.73" cy="126.19" rx="2.3" ry="1.5" fill="#e83010" opacity="0.75"/>
<ellipse cx="163.84" cy="129.76" rx="2.3" ry="1.5" fill="#e83010" opacity="0.75"/>
<ellipse cx="162.75" cy="133.32" rx="2.3" ry="1.5" fill="#e83010" opacity="0.75"/>
<ellipse cx="164.85" cy="136.88" rx="2.3" ry="1.5" fill="#f05818" opacity="0.75"/>
<ellipse cx="163.76" cy="140.45" rx="2.3" ry="1.5" fill="#f05818" opacity="0.75"/>
<ellipse cx="165.86" cy="144.01" rx="2.3" ry="1.5" fill="#f05818" opacity="0.75"/>
<ellipse cx="164.77" cy="147.58" rx="2.3" ry="1.5" fill="#f08818" opacity="0.75"/>
<ellipse cx="166.88" cy="151.14" rx="2.3" ry="1.5" fill="#f08818" opacity="0.75"/>
<ellipse cx="166.10" cy="154.64" rx="2.3" ry="1.5" fill="#f08818" opacity="0.75"/>
</g></g>
<line x1="129.20" y1="109.80" x2="209.80" y2="109.80" stroke="#fff" stroke-width="1.7" stroke-dasharray="4.6,6.1" stroke-dashoffset="-1" opacity="0.92"/>
<rect x="129.20" y="103.40" width="80.60" height="114.20" fill="none" stroke="#303030" stroke-width="0.9" />
<line x1="149.50" y1="103.40" x2="149.50" y2="106.60" stroke="#222" stroke-width="0.9" />
<line x1="149.50" y1="217.60" x2="149.50" y2="214.40" stroke="#222" stroke-width="0.9" />
<line x1="169.70" y1="103.40" x2="169.70" y2="106.60" stroke="#222" stroke-width="0.9" />
<line x1="169.70" y1="217.60" x2="169.70" y2="214.40" stroke="#222" stroke-width="0.9" />
<line x1="189.60" y1="103.40" x2="189.60" y2="106.60" stroke="#222" stroke-width="0.9" />
<line x1="189.60" y1="217.60" x2="189.60" y2="214.40" stroke="#222" stroke-width="0.9" />
<text x="152.00" y="214.00" font-size="9.4" fill="#111" font-weight="normal" text-anchor="start" ><tspan font-style="italic">&#961;</tspan><tspan font-size="6" dy="1.8">f</tspan><tspan dy="-1.8"> (C/m</tspan><tspan font-size="6.6" dy="-3.6">3</tspan><tspan dy="3.6">)</tspan></text>
<g clip-path="url(#clip7)"><rect x="355.4" y="103.4" width="80.60" height="114.20" fill="#8ae27a"/><g filter="url(#bl7)">
<rect x="351.4" y="99.4" width="88.60" height="122.20" fill="#8ae27a"/>
<path d="M351.40,99.40 L440.00,99.40 L440.00,221.60 L351.40,221.60 Z" fill="#8ae27a" />
<line x1="355.40" y1="40.40" x2="436.00" y2="84.73" stroke="#d4ea5c" stroke-width="1.0" opacity="0.4"/>
<line x1="436.00" y1="40.40" x2="355.40" y2="84.73" stroke="#d4ea5c" stroke-width="1.0" opacity="0.4"/>
<line x1="355.40" y1="44.90" x2="436.00" y2="89.23" stroke="#5cd4c4" stroke-width="0.8" opacity="0.3"/>
<line x1="436.00" y1="44.90" x2="355.40" y2="89.23" stroke="#5cd4c4" stroke-width="0.8" opacity="0.3"/>
<line x1="355.40" y1="49.40" x2="436.00" y2="93.73" stroke="#d4ea5c" stroke-width="1.0" opacity="0.4"/>
<line x1="436.00" y1="49.40" x2="355.40" y2="93.73" stroke="#d4ea5c" stroke-width="1.0" opacity="0.4"/>
<line x1="355.40" y1="53.90" x2="436.00" y2="98.23" stroke="#5cd4c4" stroke-width="0.8" opacity="0.3"/>
<line x1="436.00" y1="53.90" x2="355.40" y2="98.23" stroke="#5cd4c4" stroke-width="0.8" opacity="0.3"/>
<line x1="355.40" y1="58.40" x2="436.00" y2="102.73" stroke="#d4ea5c" stroke-width="1.0" opacity="0.4"/>
<line x1="436.00" y1="58.40" x2="355.40" y2="102.73" stroke="#d4ea5c" stroke-width="1.0" opacity="0.4"/>
<line x1="355.40" y1="62.90" x2="436.00" y2="107.23" stroke="#5cd4c4" stroke-width="0.8" opacity="0.3"/>
<line x1="436.00" y1="62.90" x2="355.40" y2="107.23" stroke="#5cd4c4" stroke-width="0.8" opacity="0.3"/>
<line x1="355.40" y1="67.40" x2="436.00" y2="111.73" stroke="#d4ea5c" stroke-width="1.0" opacity="0.4"/>
<line x1="436.00" y1="67.40" x2="355.40" y2="111.73" stroke="#d4ea5c" stroke-width="1.0" opacity="0.4"/>
<line x1="355.40" y1="71.90" x2="436.00" y2="116.23" stroke="#5cd4c4" stroke-width="0.8" opacity="0.3"/>
<line x1="436.00" y1="71.90" x2="355.40" y2="116.23" stroke="#5cd4c4" stroke-width="0.8" opacity="0.3"/>
<line x1="355.40" y1="76.40" x2="436.00" y2="120.73" stroke="#d4ea5c" stroke-width="1.0" opacity="0.4"/>
<line x1="436.00" y1="76.40" x2="355.40" y2="120.73" stroke="#d4ea5c" stroke-width="1.0" opacity="0.4"/>
<line x1="355.40" y1="80.90" x2="436.00" y2="125.23" stroke="#5cd4c4" stroke-width="0.8" opacity="0.3"/>
<line x1="436.00" y1="80.90" x2="355.40" y2="125.23" stroke="#5cd4c4" stroke-width="0.8" opacity="0.3"/>
<line x1="355.40" y1="85.40" x2="436.00" y2="129.73" stroke="#d4ea5c" stroke-width="1.0" opacity="0.4"/>
<line x1="436.00" y1="85.40" x2="355.40" y2="129.73" stroke="#d4ea5c" stroke-width="1.0" opacity="0.4"/>
<line x1="355.40" y1="89.90" x2="436.00" y2="134.23" stroke="#5cd4c4" stroke-width="0.8" opacity="0.3"/>
<line x1="436.00" y1="89.90" x2="355.40" y2="134.23" stroke="#5cd4c4" stroke-width="0.8" opacity="0.3"/>
<line x1="355.40" y1="94.40" x2="436.00" y2="138.73" stroke="#d4ea5c" stroke-width="1.0" opacity="0.4"/>
<line x1="436.00" y1="94.40" x2="355.40" y2="138.73" stroke="#d4ea5c" stroke-width="1.0" opacity="0.4"/>
<line x1="355.40" y1="98.90" x2="436.00" y2="143.23" stroke="#5cd4c4" stroke-width="0.8" opacity="0.3"/>
<line x1="436.00" y1="98.90" x2="355.40" y2="143.23" stroke="#5cd4c4" stroke-width="0.8" opacity="0.3"/>
<line x1="355.40" y1="103.40" x2="436.00" y2="147.73" stroke="#d4ea5c" stroke-width="1.0" opacity="0.4"/>
<line x1="436.00" y1="103.40" x2="355.40" y2="147.73" stroke="#d4ea5c" stroke-width="1.0" opacity="0.4"/>
<line x1="355.40" y1="107.90" x2="436.00" y2="152.23" stroke="#5cd4c4" stroke-width="0.8" opacity="0.3"/>
<line x1="436.00" y1="107.90" x2="355.40" y2="152.23" stroke="#5cd4c4" stroke-width="0.8" opacity="0.3"/>
<line x1="355.40" y1="112.40" x2="436.00" y2="156.73" stroke="#d4ea5c" stroke-width="1.0" opacity="0.4"/>
<line x1="436.00" y1="112.40" x2="355.40" y2="156.73" stroke="#d4ea5c" stroke-width="1.0" opacity="0.4"/>
<line x1="355.40" y1="116.90" x2="436.00" y2="161.23" stroke="#5cd4c4" stroke-width="0.8" opacity="0.3"/>
<line x1="436.00" y1="116.90" x2="355.40" y2="161.23" stroke="#5cd4c4" stroke-width="0.8" opacity="0.3"/>
<line x1="355.40" y1="121.40" x2="436.00" y2="165.73" stroke="#d4ea5c" stroke-width="1.0" opacity="0.4"/>
<line x1="436.00" y1="121.40" x2="355.40" y2="165.73" stroke="#d4ea5c" stroke-width="1.0" opacity="0.4"/>
<line x1="355.40" y1="125.90" x2="436.00" y2="170.23" stroke="#5cd4c4" stroke-width="0.8" opacity="0.3"/>
<line x1="436.00" y1="125.90" x2="355.40" y2="170.23" stroke="#5cd4c4" stroke-width="0.8" opacity="0.3"/>
<line x1="355.40" y1="130.40" x2="436.00" y2="174.73" stroke="#d4ea5c" stroke-width="1.0" opacity="0.4"/>
<line x1="436.00" y1="130.40" x2="355.40" y2="174.73" stroke="#d4ea5c" stroke-width="1.0" opacity="0.4"/>
<line x1="355.40" y1="134.90" x2="436.00" y2="179.23" stroke="#5cd4c4" stroke-width="0.8" opacity="0.3"/>
<line x1="436.00" y1="134.90" x2="355.40" y2="179.23" stroke="#5cd4c4" stroke-width="0.8" opacity="0.3"/>
<line x1="355.40" y1="139.40" x2="436.00" y2="183.73" stroke="#d4ea5c" stroke-width="1.0" opacity="0.4"/>
<line x1="436.00" y1="139.40" x2="355.40" y2="183.73" stroke="#d4ea5c" stroke-width="1.0" opacity="0.4"/>
<line x1="355.40" y1="143.90" x2="436.00" y2="188.23" stroke="#5cd4c4" stroke-width="0.8" opacity="0.3"/>
<line x1="436.00" y1="143.90" x2="355.40" y2="188.23" stroke="#5cd4c4" stroke-width="0.8" opacity="0.3"/>
<line x1="355.40" y1="148.40" x2="436.00" y2="192.73" stroke="#d4ea5c" stroke-width="1.0" opacity="0.4"/>
<line x1="436.00" y1="148.40" x2="355.40" y2="192.73" stroke="#d4ea5c" stroke-width="1.0" opacity="0.4"/>
<line x1="355.40" y1="152.90" x2="436.00" y2="197.23" stroke="#5cd4c4" stroke-width="0.8" opacity="0.3"/>
<line x1="436.00" y1="152.90" x2="355.40" y2="197.23" stroke="#5cd4c4" stroke-width="0.8" opacity="0.3"/>
<line x1="355.40" y1="157.40" x2="436.00" y2="201.73" stroke="#d4ea5c" stroke-width="1.0" opacity="0.4"/>
<line x1="436.00" y1="157.40" x2="355.40" y2="201.73" stroke="#d4ea5c" stroke-width="1.0" opacity="0.4"/>
<line x1="355.40" y1="161.90" x2="436.00" y2="206.23" stroke="#5cd4c4" stroke-width="0.8" opacity="0.3"/>
<line x1="436.00" y1="161.90" x2="355.40" y2="206.23" stroke="#5cd4c4" stroke-width="0.8" opacity="0.3"/>
<line x1="355.40" y1="166.40" x2="436.00" y2="210.73" stroke="#d4ea5c" stroke-width="1.0" opacity="0.4"/>
<line x1="436.00" y1="166.40" x2="355.40" y2="210.73" stroke="#d4ea5c" stroke-width="1.0" opacity="0.4"/>
<line x1="355.40" y1="170.90" x2="436.00" y2="215.23" stroke="#5cd4c4" stroke-width="0.8" opacity="0.3"/>
<line x1="436.00" y1="170.90" x2="355.40" y2="215.23" stroke="#5cd4c4" stroke-width="0.8" opacity="0.3"/>
<line x1="355.40" y1="175.40" x2="436.00" y2="219.73" stroke="#d4ea5c" stroke-width="1.0" opacity="0.4"/>
<line x1="436.00" y1="175.40" x2="355.40" y2="219.73" stroke="#d4ea5c" stroke-width="1.0" opacity="0.4"/>
<line x1="355.40" y1="179.90" x2="436.00" y2="224.23" stroke="#5cd4c4" stroke-width="0.8" opacity="0.3"/>
<line x1="436.00" y1="179.90" x2="355.40" y2="224.23" stroke="#5cd4c4" stroke-width="0.8" opacity="0.3"/>
<line x1="355.40" y1="184.40" x2="436.00" y2="228.73" stroke="#d4ea5c" stroke-width="1.0" opacity="0.4"/>
<line x1="436.00" y1="184.40" x2="355.40" y2="228.73" stroke="#d4ea5c" stroke-width="1.0" opacity="0.4"/>
<line x1="355.40" y1="188.90" x2="436.00" y2="233.23" stroke="#5cd4c4" stroke-width="0.8" opacity="0.3"/>
<line x1="436.00" y1="188.90" x2="355.40" y2="233.23" stroke="#5cd4c4" stroke-width="0.8" opacity="0.3"/>
<line x1="355.40" y1="193.40" x2="436.00" y2="237.73" stroke="#d4ea5c" stroke-width="1.0" opacity="0.4"/>
<line x1="436.00" y1="193.40" x2="355.40" y2="237.73" stroke="#d4ea5c" stroke-width="1.0" opacity="0.4"/>
<line x1="355.40" y1="197.90" x2="436.00" y2="242.23" stroke="#5cd4c4" stroke-width="0.8" opacity="0.3"/>
<line x1="436.00" y1="197.90" x2="355.40" y2="242.23" stroke="#5cd4c4" stroke-width="0.8" opacity="0.3"/>
<line x1="355.40" y1="202.40" x2="436.00" y2="246.73" stroke="#d4ea5c" stroke-width="1.0" opacity="0.4"/>
<line x1="436.00" y1="202.40" x2="355.40" y2="246.73" stroke="#d4ea5c" stroke-width="1.0" opacity="0.4"/>
<line x1="355.40" y1="206.90" x2="436.00" y2="251.23" stroke="#5cd4c4" stroke-width="0.8" opacity="0.3"/>
<line x1="436.00" y1="206.90" x2="355.40" y2="251.23" stroke="#5cd4c4" stroke-width="0.8" opacity="0.3"/>
<line x1="355.40" y1="211.40" x2="436.00" y2="255.73" stroke="#d4ea5c" stroke-width="1.0" opacity="0.4"/>
<line x1="436.00" y1="211.40" x2="355.40" y2="255.73" stroke="#d4ea5c" stroke-width="1.0" opacity="0.4"/>
<line x1="355.40" y1="215.90" x2="436.00" y2="260.23" stroke="#5cd4c4" stroke-width="0.8" opacity="0.3"/>
<line x1="436.00" y1="215.90" x2="355.40" y2="260.23" stroke="#5cd4c4" stroke-width="0.8" opacity="0.3"/>
<line x1="355.40" y1="220.40" x2="436.00" y2="264.73" stroke="#d4ea5c" stroke-width="1.0" opacity="0.4"/>
<line x1="436.00" y1="220.40" x2="355.40" y2="264.73" stroke="#d4ea5c" stroke-width="1.0" opacity="0.4"/>
<line x1="355.40" y1="224.90" x2="436.00" y2="269.23" stroke="#5cd4c4" stroke-width="0.8" opacity="0.3"/>
<line x1="436.00" y1="224.90" x2="355.40" y2="269.23" stroke="#5cd4c4" stroke-width="0.8" opacity="0.3"/>
<path d="M375.40,109.80 C375.27,111.00 374.47,114.63 374.60,117.00 C374.73,119.37 375.83,121.83 376.20,124.00 C376.57,126.17 377.13,127.78 376.80,130.00 C376.47,132.22 375.13,134.97 374.20,137.30 C373.27,139.63 372.28,141.05 371.20,144.00 C370.12,146.95 368.78,151.00 367.70,155.00 C366.62,159.00 365.62,163.50 364.70,168.00 C363.78,172.50 362.90,177.50 362.20,182.00 C361.50,186.50 360.93,191.00 360.50,195.00 C360.07,199.00 359.82,202.83 359.60,206.00 C359.38,209.17 359.27,212.67 359.20,214.00" fill="none" stroke="#50d0f0" stroke-width="6.4" stroke-linecap="round" stroke-linejoin="round" opacity="0.6"/>
<path d="M375.40,109.80 C375.27,111.00 374.47,114.63 374.60,117.00 C374.73,119.37 375.83,121.83 376.20,124.00 C376.57,126.17 377.13,127.78 376.80,130.00 C376.47,132.22 375.13,134.97 374.20,137.30 C373.27,139.63 372.28,141.05 371.20,144.00 C370.12,146.95 368.78,151.00 367.70,155.00 C366.62,159.00 365.62,163.50 364.70,168.00 C363.78,172.50 362.90,177.50 362.20,182.00 C361.50,186.50 360.93,191.00 360.50,195.00 C360.07,199.00 359.82,202.83 359.60,206.00 C359.38,209.17 359.27,212.67 359.20,214.00" fill="none" stroke="url(#bb6_0)" stroke-width="2.8" stroke-linecap="round" stroke-linejoin="round" />
<ellipse cx="376.20" cy="109.80" rx="2.3" ry="1.5" fill="#0c2ce0" opacity="0.75"/>
<ellipse cx="374.20" cy="113.38" rx="2.3" ry="1.5" fill="#0c2ce0" opacity="0.75"/>
<ellipse cx="375.40" cy="116.96" rx="2.3" ry="1.5" fill="#0c2ce0" opacity="0.75"/>
<ellipse cx="374.59" cy="120.47" rx="2.3" ry="1.5" fill="#0c2ce0" opacity="0.75"/>
<ellipse cx="376.99" cy="123.98" rx="2.3" ry="1.5" fill="#0c2ce0" opacity="0.75"/>
<ellipse cx="375.76" cy="127.56" rx="2.3" ry="1.5" fill="#0c2ce0" opacity="0.75"/>
<ellipse cx="377.22" cy="131.08" rx="2.3" ry="1.5" fill="#1040e8" opacity="0.75"/>
<ellipse cx="374.41" cy="134.47" rx="2.3" ry="1.5" fill="#1040e8" opacity="0.75"/>
<ellipse cx="374.76" cy="137.84" rx="2.3" ry="1.5" fill="#1040e8" opacity="0.75"/>
<ellipse cx="371.69" cy="141.13" rx="2.3" ry="1.5" fill="#1040e8" opacity="0.75"/>
<ellipse cx="371.86" cy="144.43" rx="2.3" ry="1.5" fill="#1040e8" opacity="0.75"/>
<ellipse cx="369.17" cy="147.86" rx="2.3" ry="1.5" fill="#1040e8" opacity="0.75"/>
<ellipse cx="369.68" cy="151.29" rx="2.3" ry="1.5" fill="#1040e8" opacity="0.75"/>
<ellipse cx="366.99" cy="154.73" rx="2.3" ry="1.5" fill="#1458f0" opacity="0.75"/>
<ellipse cx="367.76" cy="158.23" rx="2.3" ry="1.5" fill="#1458f0" opacity="0.75"/>
<ellipse cx="365.35" cy="161.73" rx="2.3" ry="1.5" fill="#1458f0" opacity="0.75"/>
<ellipse cx="366.14" cy="165.24" rx="2.3" ry="1.5" fill="#1458f0" opacity="0.75"/>
<ellipse cx="363.76" cy="168.76" rx="2.3" ry="1.5" fill="#1458f0" opacity="0.75"/>
<ellipse cx="364.73" cy="172.30" rx="2.3" ry="1.5" fill="#1458f0" opacity="0.75"/>
<ellipse cx="362.50" cy="175.85" rx="2.3" ry="1.5" fill="#1c78f0" opacity="0.75"/>
<ellipse cx="363.47" cy="179.39" rx="2.3" ry="1.5" fill="#1c78f0" opacity="0.75"/>
<ellipse cx="361.28" cy="182.94" rx="2.3" ry="1.5" fill="#1c78f0" opacity="0.75"/>
<ellipse cx="362.41" cy="186.51" rx="2.3" ry="1.5" fill="#1c78f0" opacity="0.75"/>
<ellipse cx="360.34" cy="190.08" rx="2.3" ry="1.5" fill="#1c78f0" opacity="0.75"/>
<ellipse cx="361.48" cy="193.65" rx="2.3" ry="1.5" fill="#2898f0" opacity="0.75"/>
<ellipse cx="359.52" cy="197.23" rx="2.3" ry="1.5" fill="#2898f0" opacity="0.75"/>
<ellipse cx="360.82" cy="200.82" rx="2.3" ry="1.5" fill="#2898f0" opacity="0.75"/>
<ellipse cx="358.93" cy="204.41" rx="2.3" ry="1.5" fill="#2898f0" opacity="0.75"/>
<ellipse cx="360.30" cy="208.00" rx="2.3" ry="1.5" fill="#2898f0" opacity="0.75"/>
<ellipse cx="358.52" cy="211.59" rx="2.3" ry="1.5" fill="#2898f0" opacity="0.75"/>
<path d="M403.20,114.00 C403.03,114.67 401.98,116.67 402.20,118.00 C402.42,119.33 404.67,120.38 404.50,122.00 C404.33,123.62 402.17,125.78 401.20,127.70 C400.23,129.62 399.12,132.53 398.70,133.50" fill="none" stroke="#50d0f0" stroke-width="6.4" stroke-linecap="round" stroke-linejoin="round" opacity="0.6"/>
<path d="M403.20,114.00 C403.03,114.67 401.98,116.67 402.20,118.00 C402.42,119.33 404.67,120.38 404.50,122.00 C404.33,123.62 402.17,125.78 401.20,127.70 C400.23,129.62 399.12,132.53 398.70,133.50" fill="none" stroke="url(#bb6_1)" stroke-width="2.8" stroke-linecap="round" stroke-linejoin="round" />
<ellipse cx="404.00" cy="114.00" rx="2.3" ry="1.5" fill="#0c2ce0" opacity="0.75"/>
<ellipse cx="401.53" cy="117.49" rx="2.3" ry="1.5" fill="#0c2ce0" opacity="0.75"/>
<ellipse cx="404.53" cy="120.67" rx="2.3" ry="1.5" fill="#0c2ce0" opacity="0.75"/>
<ellipse cx="402.67" cy="123.79" rx="2.3" ry="1.5" fill="#1040e8" opacity="0.75"/>
<ellipse cx="402.46" cy="126.90" rx="2.3" ry="1.5" fill="#1040e8" opacity="0.75"/>
<ellipse cx="399.34" cy="130.16" rx="2.3" ry="1.5" fill="#1040e8" opacity="0.75"/>
<ellipse cx="399.52" cy="133.46" rx="2.3" ry="1.5" fill="#1040e8" opacity="0.75"/>
<path d="M416.00,109.80 C416.17,110.92 417.10,114.22 417.00,116.50 C416.90,118.78 415.90,121.25 415.40,123.50 C414.90,125.75 413.78,127.75 414.00,130.00 C414.22,132.25 415.80,135.00 416.70,137.00 C417.60,139.00 418.52,139.00 419.40,142.00 C420.28,145.00 421.15,150.67 422.00,155.00 C422.85,159.33 423.72,163.50 424.50,168.00 C425.28,172.50 426.03,177.50 426.70,182.00 C427.37,186.50 428.08,191.00 428.50,195.00 C428.92,199.00 429.03,202.83 429.20,206.00 C429.37,209.17 429.45,212.67 429.50,214.00" fill="none" stroke="#f0e040" stroke-width="6.4" stroke-linecap="round" stroke-linejoin="round" opacity="0.6"/>
<path d="M416.00,109.80 C416.17,110.92 417.10,114.22 417.00,116.50 C416.90,118.78 415.90,121.25 415.40,123.50 C414.90,125.75 413.78,127.75 414.00,130.00 C414.22,132.25 415.80,135.00 416.70,137.00 C417.60,139.00 418.52,139.00 419.40,142.00 C420.28,145.00 421.15,150.67 422.00,155.00 C422.85,159.33 423.72,163.50 424.50,168.00 C425.28,172.50 426.03,177.50 426.70,182.00 C427.37,186.50 428.08,191.00 428.50,195.00 C428.92,199.00 429.03,202.83 429.20,206.00 C429.37,209.17 429.45,212.67 429.50,214.00" fill="none" stroke="url(#bb6_2)" stroke-width="2.8" stroke-linecap="round" stroke-linejoin="round" />
<ellipse cx="416.80" cy="109.80" rx="2.3" ry="1.5" fill="#d81808" opacity="0.75"/>
<ellipse cx="415.73" cy="113.36" rx="2.3" ry="1.5" fill="#d81808" opacity="0.75"/>
<ellipse cx="417.71" cy="116.92" rx="2.3" ry="1.5" fill="#d81808" opacity="0.75"/>
<ellipse cx="415.30" cy="120.42" rx="2.3" ry="1.5" fill="#d81808" opacity="0.75"/>
<ellipse cx="416.11" cy="123.94" rx="2.3" ry="1.5" fill="#d81808" opacity="0.75"/>
<ellipse cx="413.75" cy="127.45" rx="2.3" ry="1.5" fill="#d81808" opacity="0.75"/>
<ellipse cx="415.16" cy="130.93" rx="2.3" ry="1.5" fill="#e83010" opacity="0.75"/>
<ellipse cx="414.85" cy="134.29" rx="2.3" ry="1.5" fill="#e83010" opacity="0.75"/>
<ellipse cx="417.83" cy="137.61" rx="2.3" ry="1.5" fill="#e83010" opacity="0.75"/>
<ellipse cx="417.94" cy="140.78" rx="2.3" ry="1.5" fill="#e83010" opacity="0.75"/>
<ellipse cx="420.63" cy="144.17" rx="2.3" ry="1.5" fill="#e83010" opacity="0.75"/>
<ellipse cx="419.74" cy="147.70" rx="2.3" ry="1.5" fill="#e83010" opacity="0.75"/>
<ellipse cx="422.05" cy="151.23" rx="2.3" ry="1.5" fill="#e83010" opacity="0.75"/>
<ellipse cx="421.15" cy="154.76" rx="2.3" ry="1.5" fill="#f05818" opacity="0.75"/>
<ellipse cx="423.43" cy="158.29" rx="2.3" ry="1.5" fill="#f05818" opacity="0.75"/>
<ellipse cx="422.51" cy="161.83" rx="2.3" ry="1.5" fill="#f05818" opacity="0.75"/>
<ellipse cx="424.79" cy="165.36" rx="2.3" ry="1.5" fill="#f05818" opacity="0.75"/>
<ellipse cx="423.84" cy="168.90" rx="2.3" ry="1.5" fill="#f05818" opacity="0.75"/>
<ellipse cx="426.00" cy="172.46" rx="2.3" ry="1.5" fill="#f07818" opacity="0.75"/>
<ellipse cx="424.96" cy="176.02" rx="2.3" ry="1.5" fill="#f07818" opacity="0.75"/>
<ellipse cx="427.12" cy="179.57" rx="2.3" ry="1.5" fill="#f07818" opacity="0.75"/>
<ellipse cx="426.06" cy="183.13" rx="2.3" ry="1.5" fill="#f07818" opacity="0.75"/>
<ellipse cx="428.15" cy="186.70" rx="2.3" ry="1.5" fill="#f07818" opacity="0.75"/>
<ellipse cx="427.04" cy="190.26" rx="2.3" ry="1.5" fill="#f07818" opacity="0.75"/>
<ellipse cx="429.14" cy="193.83" rx="2.3" ry="1.5" fill="#f09818" opacity="0.75"/>
<ellipse cx="427.85" cy="197.41" rx="2.3" ry="1.5" fill="#f09818" opacity="0.75"/>
<ellipse cx="429.68" cy="201.01" rx="2.3" ry="1.5" fill="#f09818" opacity="0.75"/>
<ellipse cx="428.31" cy="204.60" rx="2.3" ry="1.5" fill="#f09818" opacity="0.75"/>
<ellipse cx="430.08" cy="208.20" rx="2.3" ry="1.5" fill="#f09818" opacity="0.75"/>
<ellipse cx="428.62" cy="211.79" rx="2.3" ry="1.5" fill="#f09818" opacity="0.75"/>
<path d="M385.20,113.50 C385.78,114.17 388.37,116.17 388.70,117.50 C389.03,118.83 386.95,120.08 387.20,121.50 C387.45,122.92 389.28,124.00 390.20,126.00 C391.12,128.00 392.28,132.25 392.70,133.50" fill="none" stroke="#f0e040" stroke-width="6.4" stroke-linecap="round" stroke-linejoin="round" opacity="0.6"/>
<path d="M385.20,113.50 C385.78,114.17 388.37,116.17 388.70,117.50 C389.03,118.83 386.95,120.08 387.20,121.50 C387.45,122.92 389.28,124.00 390.20,126.00 C391.12,128.00 392.28,132.25 392.70,133.50" fill="none" stroke="url(#bb6_3)" stroke-width="2.8" stroke-linecap="round" stroke-linejoin="round" />
<ellipse cx="386.00" cy="113.50" rx="2.3" ry="1.5" fill="#d81808" opacity="0.75"/>
<ellipse cx="386.77" cy="116.21" rx="2.3" ry="1.5" fill="#d81808" opacity="0.75"/>
<ellipse cx="388.84" cy="119.26" rx="2.3" ry="1.5" fill="#d81808" opacity="0.75"/>
<ellipse cx="387.07" cy="122.51" rx="2.3" ry="1.5" fill="#d81808" opacity="0.75"/>
<ellipse cx="390.67" cy="125.50" rx="2.3" ry="1.5" fill="#e83010" opacity="0.75"/>
<ellipse cx="390.35" cy="128.85" rx="2.3" ry="1.5" fill="#e83010" opacity="0.75"/>
<ellipse cx="393.09" cy="132.27" rx="2.3" ry="1.5" fill="#e83010" opacity="0.75"/>
</g></g>
<line x1="355.40" y1="109.80" x2="436.00" y2="109.80" stroke="#fff" stroke-width="1.7" stroke-dasharray="4.6,6.1" stroke-dashoffset="-1" opacity="0.92"/>
<rect x="355.40" y="103.40" width="80.60" height="114.20" fill="none" stroke="#303030" stroke-width="0.9" />
<line x1="375.70" y1="103.40" x2="375.70" y2="106.60" stroke="#222" stroke-width="0.9" />
<line x1="375.70" y1="217.60" x2="375.70" y2="214.40" stroke="#222" stroke-width="0.9" />
<line x1="395.90" y1="103.40" x2="395.90" y2="106.60" stroke="#222" stroke-width="0.9" />
<line x1="395.90" y1="217.60" x2="395.90" y2="214.40" stroke="#222" stroke-width="0.9" />
<line x1="415.80" y1="103.40" x2="415.80" y2="106.60" stroke="#222" stroke-width="0.9" />
<line x1="415.80" y1="217.60" x2="415.80" y2="214.40" stroke="#222" stroke-width="0.9" />
<text x="378.20" y="214.00" font-size="9.4" fill="#111" font-weight="normal" text-anchor="start" ><tspan font-style="italic">&#961;</tspan><tspan font-size="6" dy="1.8">f</tspan><tspan dy="-1.8"> (C/m</tspan><tspan font-size="6.6" dy="-3.6">3</tspan><tspan dy="3.6">)</tspan></text>
<g clip-path="url(#clip9)"><rect x="581.9" y="103.4" width="80.60" height="114.20" fill="#8ae27a"/><g filter="url(#bl9)">
<rect x="577.9" y="99.4" width="88.60" height="122.20" fill="#8ae27a"/>
<path d="M577.90,99.40 L666.50,99.40 L666.50,221.60 L577.90,221.60 Z" fill="#8ae27a" />
<line x1="581.90" y1="40.40" x2="662.50" y2="84.73" stroke="#d4ea5c" stroke-width="1.0" opacity="0.4"/>
<line x1="662.50" y1="40.40" x2="581.90" y2="84.73" stroke="#d4ea5c" stroke-width="1.0" opacity="0.4"/>
<line x1="581.90" y1="44.90" x2="662.50" y2="89.23" stroke="#5cd4c4" stroke-width="0.8" opacity="0.3"/>
<line x1="662.50" y1="44.90" x2="581.90" y2="89.23" stroke="#5cd4c4" stroke-width="0.8" opacity="0.3"/>
<line x1="581.90" y1="49.40" x2="662.50" y2="93.73" stroke="#d4ea5c" stroke-width="1.0" opacity="0.4"/>
<line x1="662.50" y1="49.40" x2="581.90" y2="93.73" stroke="#d4ea5c" stroke-width="1.0" opacity="0.4"/>
<line x1="581.90" y1="53.90" x2="662.50" y2="98.23" stroke="#5cd4c4" stroke-width="0.8" opacity="0.3"/>
<line x1="662.50" y1="53.90" x2="581.90" y2="98.23" stroke="#5cd4c4" stroke-width="0.8" opacity="0.3"/>
<line x1="581.90" y1="58.40" x2="662.50" y2="102.73" stroke="#d4ea5c" stroke-width="1.0" opacity="0.4"/>
<line x1="662.50" y1="58.40" x2="581.90" y2="102.73" stroke="#d4ea5c" stroke-width="1.0" opacity="0.4"/>
<line x1="581.90" y1="62.90" x2="662.50" y2="107.23" stroke="#5cd4c4" stroke-width="0.8" opacity="0.3"/>
<line x1="662.50" y1="62.90" x2="581.90" y2="107.23" stroke="#5cd4c4" stroke-width="0.8" opacity="0.3"/>
<line x1="581.90" y1="67.40" x2="662.50" y2="111.73" stroke="#d4ea5c" stroke-width="1.0" opacity="0.4"/>
<line x1="662.50" y1="67.40" x2="581.90" y2="111.73" stroke="#d4ea5c" stroke-width="1.0" opacity="0.4"/>
<line x1="581.90" y1="71.90" x2="662.50" y2="116.23" stroke="#5cd4c4" stroke-width="0.8" opacity="0.3"/>
<line x1="662.50" y1="71.90" x2="581.90" y2="116.23" stroke="#5cd4c4" stroke-width="0.8" opacity="0.3"/>
<line x1="581.90" y1="76.40" x2="662.50" y2="120.73" stroke="#d4ea5c" stroke-width="1.0" opacity="0.4"/>
<line x1="662.50" y1="76.40" x2="581.90" y2="120.73" stroke="#d4ea5c" stroke-width="1.0" opacity="0.4"/>
<line x1="581.90" y1="80.90" x2="662.50" y2="125.23" stroke="#5cd4c4" stroke-width="0.8" opacity="0.3"/>
<line x1="662.50" y1="80.90" x2="581.90" y2="125.23" stroke="#5cd4c4" stroke-width="0.8" opacity="0.3"/>
<line x1="581.90" y1="85.40" x2="662.50" y2="129.73" stroke="#d4ea5c" stroke-width="1.0" opacity="0.4"/>
<line x1="662.50" y1="85.40" x2="581.90" y2="129.73" stroke="#d4ea5c" stroke-width="1.0" opacity="0.4"/>
<line x1="581.90" y1="89.90" x2="662.50" y2="134.23" stroke="#5cd4c4" stroke-width="0.8" opacity="0.3"/>
<line x1="662.50" y1="89.90" x2="581.90" y2="134.23" stroke="#5cd4c4" stroke-width="0.8" opacity="0.3"/>
<line x1="581.90" y1="94.40" x2="662.50" y2="138.73" stroke="#d4ea5c" stroke-width="1.0" opacity="0.4"/>
<line x1="662.50" y1="94.40" x2="581.90" y2="138.73" stroke="#d4ea5c" stroke-width="1.0" opacity="0.4"/>
<line x1="581.90" y1="98.90" x2="662.50" y2="143.23" stroke="#5cd4c4" stroke-width="0.8" opacity="0.3"/>
<line x1="662.50" y1="98.90" x2="581.90" y2="143.23" stroke="#5cd4c4" stroke-width="0.8" opacity="0.3"/>
<line x1="581.90" y1="103.40" x2="662.50" y2="147.73" stroke="#d4ea5c" stroke-width="1.0" opacity="0.4"/>
<line x1="662.50" y1="103.40" x2="581.90" y2="147.73" stroke="#d4ea5c" stroke-width="1.0" opacity="0.4"/>
<line x1="581.90" y1="107.90" x2="662.50" y2="152.23" stroke="#5cd4c4" stroke-width="0.8" opacity="0.3"/>
<line x1="662.50" y1="107.90" x2="581.90" y2="152.23" stroke="#5cd4c4" stroke-width="0.8" opacity="0.3"/>
<line x1="581.90" y1="112.40" x2="662.50" y2="156.73" stroke="#d4ea5c" stroke-width="1.0" opacity="0.4"/>
<line x1="662.50" y1="112.40" x2="581.90" y2="156.73" stroke="#d4ea5c" stroke-width="1.0" opacity="0.4"/>
<line x1="581.90" y1="116.90" x2="662.50" y2="161.23" stroke="#5cd4c4" stroke-width="0.8" opacity="0.3"/>
<line x1="662.50" y1="116.90" x2="581.90" y2="161.23" stroke="#5cd4c4" stroke-width="0.8" opacity="0.3"/>
<line x1="581.90" y1="121.40" x2="662.50" y2="165.73" stroke="#d4ea5c" stroke-width="1.0" opacity="0.4"/>
<line x1="662.50" y1="121.40" x2="581.90" y2="165.73" stroke="#d4ea5c" stroke-width="1.0" opacity="0.4"/>
<line x1="581.90" y1="125.90" x2="662.50" y2="170.23" stroke="#5cd4c4" stroke-width="0.8" opacity="0.3"/>
<line x1="662.50" y1="125.90" x2="581.90" y2="170.23" stroke="#5cd4c4" stroke-width="0.8" opacity="0.3"/>
<line x1="581.90" y1="130.40" x2="662.50" y2="174.73" stroke="#d4ea5c" stroke-width="1.0" opacity="0.4"/>
<line x1="662.50" y1="130.40" x2="581.90" y2="174.73" stroke="#d4ea5c" stroke-width="1.0" opacity="0.4"/>
<line x1="581.90" y1="134.90" x2="662.50" y2="179.23" stroke="#5cd4c4" stroke-width="0.8" opacity="0.3"/>
<line x1="662.50" y1="134.90" x2="581.90" y2="179.23" stroke="#5cd4c4" stroke-width="0.8" opacity="0.3"/>
<line x1="581.90" y1="139.40" x2="662.50" y2="183.73" stroke="#d4ea5c" stroke-width="1.0" opacity="0.4"/>
<line x1="662.50" y1="139.40" x2="581.90" y2="183.73" stroke="#d4ea5c" stroke-width="1.0" opacity="0.4"/>
<line x1="581.90" y1="143.90" x2="662.50" y2="188.23" stroke="#5cd4c4" stroke-width="0.8" opacity="0.3"/>
<line x1="662.50" y1="143.90" x2="581.90" y2="188.23" stroke="#5cd4c4" stroke-width="0.8" opacity="0.3"/>
<line x1="581.90" y1="148.40" x2="662.50" y2="192.73" stroke="#d4ea5c" stroke-width="1.0" opacity="0.4"/>
<line x1="662.50" y1="148.40" x2="581.90" y2="192.73" stroke="#d4ea5c" stroke-width="1.0" opacity="0.4"/>
<line x1="581.90" y1="152.90" x2="662.50" y2="197.23" stroke="#5cd4c4" stroke-width="0.8" opacity="0.3"/>
<line x1="662.50" y1="152.90" x2="581.90" y2="197.23" stroke="#5cd4c4" stroke-width="0.8" opacity="0.3"/>
<line x1="581.90" y1="157.40" x2="662.50" y2="201.73" stroke="#d4ea5c" stroke-width="1.0" opacity="0.4"/>
<line x1="662.50" y1="157.40" x2="581.90" y2="201.73" stroke="#d4ea5c" stroke-width="1.0" opacity="0.4"/>
<line x1="581.90" y1="161.90" x2="662.50" y2="206.23" stroke="#5cd4c4" stroke-width="0.8" opacity="0.3"/>
<line x1="662.50" y1="161.90" x2="581.90" y2="206.23" stroke="#5cd4c4" stroke-width="0.8" opacity="0.3"/>
<line x1="581.90" y1="166.40" x2="662.50" y2="210.73" stroke="#d4ea5c" stroke-width="1.0" opacity="0.4"/>
<line x1="662.50" y1="166.40" x2="581.90" y2="210.73" stroke="#d4ea5c" stroke-width="1.0" opacity="0.4"/>
<line x1="581.90" y1="170.90" x2="662.50" y2="215.23" stroke="#5cd4c4" stroke-width="0.8" opacity="0.3"/>
<line x1="662.50" y1="170.90" x2="581.90" y2="215.23" stroke="#5cd4c4" stroke-width="0.8" opacity="0.3"/>
<line x1="581.90" y1="175.40" x2="662.50" y2="219.73" stroke="#d4ea5c" stroke-width="1.0" opacity="0.4"/>
<line x1="662.50" y1="175.40" x2="581.90" y2="219.73" stroke="#d4ea5c" stroke-width="1.0" opacity="0.4"/>
<line x1="581.90" y1="179.90" x2="662.50" y2="224.23" stroke="#5cd4c4" stroke-width="0.8" opacity="0.3"/>
<line x1="662.50" y1="179.90" x2="581.90" y2="224.23" stroke="#5cd4c4" stroke-width="0.8" opacity="0.3"/>
<line x1="581.90" y1="184.40" x2="662.50" y2="228.73" stroke="#d4ea5c" stroke-width="1.0" opacity="0.4"/>
<line x1="662.50" y1="184.40" x2="581.90" y2="228.73" stroke="#d4ea5c" stroke-width="1.0" opacity="0.4"/>
<line x1="581.90" y1="188.90" x2="662.50" y2="233.23" stroke="#5cd4c4" stroke-width="0.8" opacity="0.3"/>
<line x1="662.50" y1="188.90" x2="581.90" y2="233.23" stroke="#5cd4c4" stroke-width="0.8" opacity="0.3"/>
<line x1="581.90" y1="193.40" x2="662.50" y2="237.73" stroke="#d4ea5c" stroke-width="1.0" opacity="0.4"/>
<line x1="662.50" y1="193.40" x2="581.90" y2="237.73" stroke="#d4ea5c" stroke-width="1.0" opacity="0.4"/>
<line x1="581.90" y1="197.90" x2="662.50" y2="242.23" stroke="#5cd4c4" stroke-width="0.8" opacity="0.3"/>
<line x1="662.50" y1="197.90" x2="581.90" y2="242.23" stroke="#5cd4c4" stroke-width="0.8" opacity="0.3"/>
<line x1="581.90" y1="202.40" x2="662.50" y2="246.73" stroke="#d4ea5c" stroke-width="1.0" opacity="0.4"/>
<line x1="662.50" y1="202.40" x2="581.90" y2="246.73" stroke="#d4ea5c" stroke-width="1.0" opacity="0.4"/>
<line x1="581.90" y1="206.90" x2="662.50" y2="251.23" stroke="#5cd4c4" stroke-width="0.8" opacity="0.3"/>
<line x1="662.50" y1="206.90" x2="581.90" y2="251.23" stroke="#5cd4c4" stroke-width="0.8" opacity="0.3"/>
<line x1="581.90" y1="211.40" x2="662.50" y2="255.73" stroke="#d4ea5c" stroke-width="1.0" opacity="0.4"/>
<line x1="662.50" y1="211.40" x2="581.90" y2="255.73" stroke="#d4ea5c" stroke-width="1.0" opacity="0.4"/>
<line x1="581.90" y1="215.90" x2="662.50" y2="260.23" stroke="#5cd4c4" stroke-width="0.8" opacity="0.3"/>
<line x1="662.50" y1="215.90" x2="581.90" y2="260.23" stroke="#5cd4c4" stroke-width="0.8" opacity="0.3"/>
<line x1="581.90" y1="220.40" x2="662.50" y2="264.73" stroke="#d4ea5c" stroke-width="1.0" opacity="0.4"/>
<line x1="662.50" y1="220.40" x2="581.90" y2="264.73" stroke="#d4ea5c" stroke-width="1.0" opacity="0.4"/>
<line x1="581.90" y1="224.90" x2="662.50" y2="269.23" stroke="#5cd4c4" stroke-width="0.8" opacity="0.3"/>
<line x1="662.50" y1="224.90" x2="581.90" y2="269.23" stroke="#5cd4c4" stroke-width="0.8" opacity="0.3"/>
<path d="M600.20,109.50 C600.17,112.92 600.02,123.25 600.00,130.00 C599.98,136.75 600.12,141.67 600.10,150.00 C600.08,158.33 599.92,168.00 599.90,180.00 C599.88,192.00 599.98,215.00 600.00,222.00" fill="none" stroke="#50d0f0" stroke-width="7.4" stroke-linecap="round" stroke-linejoin="round" opacity="0.6"/>
<path d="M600.20,109.50 C600.17,112.92 600.02,123.25 600.00,130.00 C599.98,136.75 600.12,141.67 600.10,150.00 C600.08,158.33 599.92,168.00 599.90,180.00 C599.88,192.00 599.98,215.00 600.00,222.00" fill="none" stroke="url(#bc8_0)" stroke-width="3.8" stroke-linecap="round" stroke-linejoin="round" />
<ellipse cx="601.00" cy="109.50" rx="2.3" ry="1.5" fill="#0c2ce0" opacity="0.75"/>
<ellipse cx="599.36" cy="113.10" rx="2.3" ry="1.5" fill="#0c2ce0" opacity="0.75"/>
<ellipse cx="600.93" cy="116.70" rx="2.3" ry="1.5" fill="#0c2ce0" opacity="0.75"/>
<ellipse cx="599.29" cy="120.30" rx="2.3" ry="1.5" fill="#0c2ce0" opacity="0.75"/>
<ellipse cx="600.86" cy="123.90" rx="2.3" ry="1.5" fill="#0c2ce0" opacity="0.75"/>
<ellipse cx="599.22" cy="127.50" rx="2.3" ry="1.5" fill="#0c2ce0" opacity="0.75"/>
<ellipse cx="600.81" cy="131.10" rx="2.3" ry="1.5" fill="#0c2ce0" opacity="0.75"/>
<ellipse cx="599.22" cy="134.70" rx="2.3" ry="1.5" fill="#1040e8" opacity="0.75"/>
<ellipse cx="600.84" cy="138.30" rx="2.3" ry="1.5" fill="#1040e8" opacity="0.75"/>
<ellipse cx="599.26" cy="141.90" rx="2.3" ry="1.5" fill="#1040e8" opacity="0.75"/>
<ellipse cx="600.88" cy="145.50" rx="2.3" ry="1.5" fill="#1040e8" opacity="0.75"/>
<ellipse cx="599.30" cy="149.10" rx="2.3" ry="1.5" fill="#1040e8" opacity="0.75"/>
<ellipse cx="600.88" cy="152.70" rx="2.3" ry="1.5" fill="#1040e8" opacity="0.75"/>
<ellipse cx="599.26" cy="156.30" rx="2.3" ry="1.5" fill="#1458f0" opacity="0.75"/>
<ellipse cx="600.83" cy="159.90" rx="2.3" ry="1.5" fill="#1458f0" opacity="0.75"/>
<ellipse cx="599.21" cy="163.50" rx="2.3" ry="1.5" fill="#1458f0" opacity="0.75"/>
<ellipse cx="600.79" cy="167.10" rx="2.3" ry="1.5" fill="#1458f0" opacity="0.75"/>
<ellipse cx="599.16" cy="170.70" rx="2.3" ry="1.5" fill="#1458f0" opacity="0.75"/>
<ellipse cx="600.74" cy="174.30" rx="2.3" ry="1.5" fill="#1458f0" opacity="0.75"/>
<ellipse cx="599.11" cy="177.90" rx="2.3" ry="1.5" fill="#1c78f0" opacity="0.75"/>
<ellipse cx="600.70" cy="181.50" rx="2.3" ry="1.5" fill="#1c78f0" opacity="0.75"/>
<ellipse cx="599.11" cy="185.10" rx="2.3" ry="1.5" fill="#1c78f0" opacity="0.75"/>
<ellipse cx="600.72" cy="188.70" rx="2.3" ry="1.5" fill="#1c78f0" opacity="0.75"/>
<ellipse cx="599.13" cy="192.30" rx="2.3" ry="1.5" fill="#1c78f0" opacity="0.75"/>
<ellipse cx="600.74" cy="195.90" rx="2.3" ry="1.5" fill="#1c78f0" opacity="0.75"/>
<ellipse cx="599.15" cy="199.50" rx="2.3" ry="1.5" fill="#1c78f0" opacity="0.75"/>
<ellipse cx="600.75" cy="203.10" rx="2.3" ry="1.5" fill="#2490f0" opacity="0.75"/>
<ellipse cx="599.16" cy="206.70" rx="2.3" ry="1.5" fill="#2490f0" opacity="0.75"/>
<ellipse cx="600.77" cy="210.30" rx="2.3" ry="1.5" fill="#2490f0" opacity="0.75"/>
<ellipse cx="599.18" cy="213.90" rx="2.3" ry="1.5" fill="#2490f0" opacity="0.75"/>
<ellipse cx="600.79" cy="217.50" rx="2.3" ry="1.5" fill="#2490f0" opacity="0.75"/>
<ellipse cx="599.20" cy="221.10" rx="2.3" ry="1.5" fill="#2490f0" opacity="0.75"/>
<path d="M642.50,109.50 C642.52,112.92 642.62,123.25 642.60,130.00 C642.58,136.75 642.42,141.67 642.40,150.00 C642.38,158.33 642.52,168.00 642.50,180.00 C642.48,192.00 642.33,215.00 642.30,222.00" fill="none" stroke="#f0e040" stroke-width="7.4" stroke-linecap="round" stroke-linejoin="round" opacity="0.6"/>
<path d="M642.50,109.50 C642.52,112.92 642.62,123.25 642.60,130.00 C642.58,136.75 642.42,141.67 642.40,150.00 C642.38,158.33 642.52,168.00 642.50,180.00 C642.48,192.00 642.33,215.00 642.30,222.00" fill="none" stroke="url(#bc8_1)" stroke-width="3.8" stroke-linecap="round" stroke-linejoin="round" />
<ellipse cx="643.30" cy="109.50" rx="2.3" ry="1.5" fill="#d81808" opacity="0.75"/>
<ellipse cx="641.72" cy="113.10" rx="2.3" ry="1.5" fill="#d81808" opacity="0.75"/>
<ellipse cx="643.34" cy="116.70" rx="2.3" ry="1.5" fill="#d81808" opacity="0.75"/>
<ellipse cx="641.75" cy="120.30" rx="2.3" ry="1.5" fill="#d81808" opacity="0.75"/>
<ellipse cx="643.37" cy="123.90" rx="2.3" ry="1.5" fill="#d81808" opacity="0.75"/>
<ellipse cx="641.79" cy="127.50" rx="2.3" ry="1.5" fill="#d81808" opacity="0.75"/>
<ellipse cx="643.39" cy="131.10" rx="2.3" ry="1.5" fill="#d81808" opacity="0.75"/>
<ellipse cx="641.75" cy="134.70" rx="2.3" ry="1.5" fill="#e83010" opacity="0.75"/>
<ellipse cx="643.32" cy="138.30" rx="2.3" ry="1.5" fill="#e83010" opacity="0.75"/>
<ellipse cx="641.68" cy="141.90" rx="2.3" ry="1.5" fill="#e83010" opacity="0.75"/>
<ellipse cx="643.25" cy="145.50" rx="2.3" ry="1.5" fill="#e83010" opacity="0.75"/>
<ellipse cx="641.61" cy="149.10" rx="2.3" ry="1.5" fill="#e83010" opacity="0.75"/>
<ellipse cx="643.21" cy="152.70" rx="2.3" ry="1.5" fill="#e83010" opacity="0.75"/>
<ellipse cx="641.62" cy="156.30" rx="2.3" ry="1.5" fill="#f05818" opacity="0.75"/>
<ellipse cx="643.23" cy="159.90" rx="2.3" ry="1.5" fill="#f05818" opacity="0.75"/>
<ellipse cx="641.64" cy="163.50" rx="2.3" ry="1.5" fill="#f05818" opacity="0.75"/>
<ellipse cx="643.26" cy="167.10" rx="2.3" ry="1.5" fill="#f05818" opacity="0.75"/>
<ellipse cx="641.67" cy="170.70" rx="2.3" ry="1.5" fill="#f05818" opacity="0.75"/>
<ellipse cx="643.28" cy="174.30" rx="2.3" ry="1.5" fill="#f05818" opacity="0.75"/>
<ellipse cx="641.69" cy="177.90" rx="2.3" ry="1.5" fill="#f07818" opacity="0.75"/>
<ellipse cx="643.29" cy="181.50" rx="2.3" ry="1.5" fill="#f07818" opacity="0.75"/>
<ellipse cx="641.68" cy="185.10" rx="2.3" ry="1.5" fill="#f07818" opacity="0.75"/>
<ellipse cx="643.26" cy="188.70" rx="2.3" ry="1.5" fill="#f07818" opacity="0.75"/>
<ellipse cx="641.64" cy="192.30" rx="2.3" ry="1.5" fill="#f07818" opacity="0.75"/>
<ellipse cx="643.22" cy="195.90" rx="2.3" ry="1.5" fill="#f07818" opacity="0.75"/>
<ellipse cx="641.61" cy="199.50" rx="2.3" ry="1.5" fill="#f07818" opacity="0.75"/>
<ellipse cx="643.19" cy="203.10" rx="2.3" ry="1.5" fill="#f09018" opacity="0.75"/>
<ellipse cx="641.57" cy="206.70" rx="2.3" ry="1.5" fill="#f09018" opacity="0.75"/>
<ellipse cx="643.16" cy="210.30" rx="2.3" ry="1.5" fill="#f09018" opacity="0.75"/>
<ellipse cx="641.54" cy="213.90" rx="2.3" ry="1.5" fill="#f09018" opacity="0.75"/>
<ellipse cx="643.12" cy="217.50" rx="2.3" ry="1.5" fill="#f09018" opacity="0.75"/>
<ellipse cx="641.50" cy="221.10" rx="2.3" ry="1.5" fill="#f09018" opacity="0.75"/>
<ellipse cx="617.40" cy="116.8" rx="4.8" ry="2.6" fill="#f0e040" opacity="0.6" transform="rotate(40 617.40 116.8)"/>
<ellipse cx="617.40" cy="116.8" rx="3.6" ry="1.8" fill="#e01808" transform="rotate(40 617.40 116.8)"/>
<ellipse cx="613.80" cy="122.4" rx="4.2" ry="2.6" fill="#f0e040" opacity="0.6" transform="rotate(40 613.80 122.4)"/>
<ellipse cx="613.80" cy="122.4" rx="3.0" ry="1.8" fill="#f04a10" transform="rotate(40 613.80 122.4)"/>
<ellipse cx="618.70" cy="126.9" rx="3.5" ry="2.6" fill="#f0e040" opacity="0.6" transform="rotate(0 618.70 126.9)"/>
<ellipse cx="618.70" cy="126.9" rx="2.3" ry="1.8" fill="#e01808" transform="rotate(0 618.70 126.9)"/>
<ellipse cx="615.40" cy="129.7" rx="3.0999999999999996" ry="2.6" fill="#f0e040" opacity="0.6" transform="rotate(0 615.40 129.7)"/>
<ellipse cx="615.40" cy="129.7" rx="1.9" ry="1.8" fill="#f06010" transform="rotate(0 615.40 129.7)"/>
<ellipse cx="626.40" cy="116.8" rx="4.8" ry="2.6" fill="#50d0f0" opacity="0.6" transform="rotate(-40 626.40 116.8)"/>
<ellipse cx="626.40" cy="116.8" rx="3.6" ry="1.8" fill="#0c28e0" transform="rotate(-40 626.40 116.8)"/>
<ellipse cx="629.60" cy="122.8" rx="4.2" ry="2.6" fill="#50d0f0" opacity="0.6" transform="rotate(-40 629.60 122.8)"/>
<ellipse cx="629.60" cy="122.8" rx="3.0" ry="1.8" fill="#1450f0" transform="rotate(-40 629.60 122.8)"/>
<ellipse cx="625.50" cy="126.9" rx="3.5" ry="2.6" fill="#50d0f0" opacity="0.6" transform="rotate(0 625.50 126.9)"/>
<ellipse cx="625.50" cy="126.9" rx="2.3" ry="1.8" fill="#0c28e0" transform="rotate(0 625.50 126.9)"/>
<ellipse cx="628.40" cy="129.7" rx="3.0999999999999996" ry="2.6" fill="#50d0f0" opacity="0.6" transform="rotate(0 628.40 129.7)"/>
<ellipse cx="628.40" cy="129.7" rx="1.9" ry="1.8" fill="#1c68f0" transform="rotate(0 628.40 129.7)"/>
<circle cx="620.30" cy="122.4" r="1.1" fill="#40d0f0"/>
<circle cx="620.70" cy="131" r="1.1" fill="#40d0f0"/>
<circle cx="623.90" cy="122.4" r="1.1" fill="#e8e040"/>
<circle cx="623.90" cy="131" r="1.1" fill="#e8e040"/>
</g></g>
<line x1="581.90" y1="109.80" x2="662.50" y2="109.80" stroke="#fff" stroke-width="1.7" stroke-dasharray="4.6,6.1" stroke-dashoffset="-1" opacity="0.92"/>
<rect x="581.90" y="103.40" width="80.60" height="114.20" fill="none" stroke="#303030" stroke-width="0.9" />
<line x1="602.20" y1="103.40" x2="602.20" y2="106.60" stroke="#222" stroke-width="0.9" />
<line x1="602.20" y1="217.60" x2="602.20" y2="214.40" stroke="#222" stroke-width="0.9" />
<line x1="622.40" y1="103.40" x2="622.40" y2="106.60" stroke="#222" stroke-width="0.9" />
<line x1="622.40" y1="217.60" x2="622.40" y2="214.40" stroke="#222" stroke-width="0.9" />
<line x1="642.30" y1="103.40" x2="642.30" y2="106.60" stroke="#222" stroke-width="0.9" />
<line x1="642.30" y1="217.60" x2="642.30" y2="214.40" stroke="#222" stroke-width="0.9" />
<text x="604.70" y="214.00" font-size="9.4" fill="#111" font-weight="normal" text-anchor="start" ><tspan font-style="italic">&#961;</tspan><tspan font-size="6" dy="1.8">f</tspan><tspan dy="-1.8"> (C/m</tspan><tspan font-size="6.6" dy="-3.6">3</tspan><tspan dy="3.6">)</tspan></text>
<line x1="38.20" y1="103.50" x2="41.20" y2="103.50" stroke="#222" stroke-width="0.9" />
<text x="29.30" y="108.10" font-size="10" fill="#111" font-weight="normal" text-anchor="middle" >0</text>
<line x1="38.20" y1="136.30" x2="41.20" y2="136.30" stroke="#222" stroke-width="0.9" />
<text x="29.30" y="140.90" font-size="10" fill="#111" font-weight="normal" text-anchor="middle" >10</text>
<line x1="38.20" y1="168.90" x2="41.20" y2="168.90" stroke="#222" stroke-width="0.9" />
<text x="29.30" y="173.50" font-size="10" fill="#111" font-weight="normal" text-anchor="middle" >20</text>
<line x1="38.20" y1="201.50" x2="41.20" y2="201.50" stroke="#222" stroke-width="0.9" />
<text x="29.30" y="206.10" font-size="10" fill="#111" font-weight="normal" text-anchor="middle" >30</text>
<line x1="38.20" y1="119.90" x2="41.20" y2="119.90" stroke="#222" stroke-width="0.9" />
<line x1="38.20" y1="152.60" x2="41.20" y2="152.60" stroke="#222" stroke-width="0.9" />
<line x1="38.20" y1="185.20" x2="41.20" y2="185.20" stroke="#222" stroke-width="0.9" />
<text x="0.00" y="0.00" font-size="12.4" fill="#111" font-weight="normal" text-anchor="middle" transform="translate(14.20,161) rotate(-90)">Time (ps)</text>
<line x1="61.40" y1="221.10" x2="101.60" y2="221.10" stroke="#000" stroke-width="2.2" />
<text x="82.30" y="232.20" font-size="9.4" fill="#111" font-weight="normal" text-anchor="middle" >15 nm</text>
<text x="135.00" y="232.20" font-size="9.4" fill="#111" font-weight="normal" text-anchor="middle" >&#8722;6.5E8</text>
<text x="204.00" y="232.20" font-size="9.4" fill="#111" font-weight="normal" text-anchor="middle" >+6.5E8</text>
<rect x="155.10" y="223.90" width="28.60" height="6.60" fill="url(#jet)" stroke="#222" stroke-width="0.6" />
<line x1="264.40" y1="103.50" x2="267.40" y2="103.50" stroke="#222" stroke-width="0.9" />
<text x="255.50" y="108.10" font-size="10" fill="#111" font-weight="normal" text-anchor="middle" >0</text>
<line x1="264.40" y1="136.30" x2="267.40" y2="136.30" stroke="#222" stroke-width="0.9" />
<text x="255.50" y="140.90" font-size="10" fill="#111" font-weight="normal" text-anchor="middle" >10</text>
<line x1="264.40" y1="168.90" x2="267.40" y2="168.90" stroke="#222" stroke-width="0.9" />
<text x="255.50" y="173.50" font-size="10" fill="#111" font-weight="normal" text-anchor="middle" >20</text>
<line x1="264.40" y1="201.50" x2="267.40" y2="201.50" stroke="#222" stroke-width="0.9" />
<text x="255.50" y="206.10" font-size="10" fill="#111" font-weight="normal" text-anchor="middle" >30</text>
<line x1="264.40" y1="119.90" x2="267.40" y2="119.90" stroke="#222" stroke-width="0.9" />
<line x1="264.40" y1="152.60" x2="267.40" y2="152.60" stroke="#222" stroke-width="0.9" />
<line x1="264.40" y1="185.20" x2="267.40" y2="185.20" stroke="#222" stroke-width="0.9" />
<text x="0.00" y="0.00" font-size="12.4" fill="#111" font-weight="normal" text-anchor="middle" transform="translate(240.40,161) rotate(-90)">Time (ps)</text>
<line x1="287.60" y1="221.10" x2="327.80" y2="221.10" stroke="#000" stroke-width="2.2" />
<text x="308.50" y="232.20" font-size="9.4" fill="#111" font-weight="normal" text-anchor="middle" >15 nm</text>
<text x="361.20" y="232.20" font-size="9.4" fill="#111" font-weight="normal" text-anchor="middle" >&#8722;6.5E8</text>
<text x="430.20" y="232.20" font-size="9.4" fill="#111" font-weight="normal" text-anchor="middle" >+6.5E8</text>
<rect x="381.30" y="223.90" width="28.60" height="6.60" fill="url(#jet)" stroke="#222" stroke-width="0.6" />
<line x1="490.90" y1="103.50" x2="493.90" y2="103.50" stroke="#222" stroke-width="0.9" />
<text x="482.00" y="108.10" font-size="10" fill="#111" font-weight="normal" text-anchor="middle" >0</text>
<line x1="490.90" y1="136.30" x2="493.90" y2="136.30" stroke="#222" stroke-width="0.9" />
<text x="482.00" y="140.90" font-size="10" fill="#111" font-weight="normal" text-anchor="middle" >10</text>
<line x1="490.90" y1="168.90" x2="493.90" y2="168.90" stroke="#222" stroke-width="0.9" />
<text x="482.00" y="173.50" font-size="10" fill="#111" font-weight="normal" text-anchor="middle" >20</text>
<line x1="490.90" y1="201.50" x2="493.90" y2="201.50" stroke="#222" stroke-width="0.9" />
<text x="482.00" y="206.10" font-size="10" fill="#111" font-weight="normal" text-anchor="middle" >30</text>
<line x1="490.90" y1="119.90" x2="493.90" y2="119.90" stroke="#222" stroke-width="0.9" />
<line x1="490.90" y1="152.60" x2="493.90" y2="152.60" stroke="#222" stroke-width="0.9" />
<line x1="490.90" y1="185.20" x2="493.90" y2="185.20" stroke="#222" stroke-width="0.9" />
<text x="0.00" y="0.00" font-size="12.4" fill="#111" font-weight="normal" text-anchor="middle" transform="translate(466.90,161) rotate(-90)">Time (ps)</text>
<line x1="514.10" y1="221.10" x2="554.30" y2="221.10" stroke="#000" stroke-width="2.2" />
<text x="535.00" y="232.20" font-size="9.4" fill="#111" font-weight="normal" text-anchor="middle" >15 nm</text>
<text x="587.70" y="232.20" font-size="9.4" fill="#111" font-weight="normal" text-anchor="middle" >&#8722;6.5E8</text>
<text x="656.70" y="232.20" font-size="9.4" fill="#111" font-weight="normal" text-anchor="middle" >+6.5E8</text>
<rect x="607.80" y="223.90" width="28.60" height="6.60" fill="url(#jet)" stroke="#222" stroke-width="0.6" />
<rect x="54.20" y="262.40" width="169.00" height="138.80" fill="#f7f7f7" stroke="none" stroke-width="1" />
<path d="M54.20,262.40 L223.20,262.40 L223.40,335.90 L203.40,331.30 L180.30,327.30 L160.00,323.40 L144.00,319.50 L128.00,315.60 L109.60,309.60 L91.00,302.60 L72.50,296.00 L54.00,289.30 Z" fill="#f2dbdc" stroke="none" stroke-width="1" />
<path d="M54.00,289.30 L72.50,296.00 L91.00,302.60 L109.60,309.60 L128.00,315.60 L144.00,319.50 L160.00,323.40 L180.30,327.30 L203.40,331.30 L223.40,335.90 L223.40,368.30 L203.40,362.50 L180.30,353.20 L160.00,341.50 L144.00,335.50 L128.00,329.00 L109.60,319.50 L91.00,311.00 L72.50,301.20 L54.00,293.90 Z" fill="#c4e8f8" stroke="none" stroke-width="1" />
<path d="M54.00,293.90 L72.50,301.20 L91.00,311.00 L109.60,319.50 L128.00,329.00 L144.00,335.50 L160.00,341.50 L180.30,353.20 L203.40,362.50 L223.40,368.30 L223.40,388.50 L203.40,381.00 L180.30,371.80 L157.10,359.00 L144.00,349.40 L128.00,342.00 L109.60,333.70 L91.00,325.40 L72.50,316.80 L54.00,310.60 Z" fill="#e6f4d2" stroke="none" stroke-width="1" />
<rect x="54.20" y="262.40" width="169.00" height="138.80" fill="none" stroke="#444" stroke-width="1.0" />
<line x1="51.60" y1="401.00" x2="54.20" y2="401.00" stroke="#444" stroke-width="0.9" />
<text x="51.20" y="403.90" font-size="8.2" fill="#222" font-weight="normal" text-anchor="end" >1.0</text>
<line x1="51.60" y1="357.70" x2="54.20" y2="357.70" stroke="#444" stroke-width="0.9" />
<text x="51.20" y="360.60" font-size="8.2" fill="#222" font-weight="normal" text-anchor="end" >1.5</text>
<line x1="51.60" y1="314.40" x2="54.20" y2="314.40" stroke="#444" stroke-width="0.9" />
<text x="51.20" y="317.30" font-size="8.2" fill="#222" font-weight="normal" text-anchor="end" >2.0</text>
<line x1="51.60" y1="271.10" x2="54.20" y2="271.10" stroke="#444" stroke-width="0.9" />
<text x="51.20" y="274.00" font-size="8.2" fill="#222" font-weight="normal" text-anchor="end" >2.5</text>
<line x1="72.70" y1="401.20" x2="72.70" y2="398.60" stroke="#444" stroke-width="0.9" />
<text x="72.70" y="411.20" font-size="7.8" fill="#222" font-weight="normal" text-anchor="middle" >0.000</text>
<line x1="91.33" y1="401.20" x2="91.33" y2="399.60" stroke="#444" stroke-width="0.9" />
<line x1="109.95" y1="401.20" x2="109.95" y2="398.60" stroke="#444" stroke-width="0.9" />
<text x="109.95" y="411.20" font-size="7.8" fill="#222" font-weight="normal" text-anchor="middle" >0.002</text>
<line x1="128.57" y1="401.20" x2="128.57" y2="399.60" stroke="#444" stroke-width="0.9" />
<line x1="147.20" y1="401.20" x2="147.20" y2="398.60" stroke="#444" stroke-width="0.9" />
<text x="147.20" y="411.20" font-size="7.8" fill="#222" font-weight="normal" text-anchor="middle" >0.004</text>
<line x1="165.82" y1="401.20" x2="165.82" y2="399.60" stroke="#444" stroke-width="0.9" />
<line x1="184.45" y1="401.20" x2="184.45" y2="398.60" stroke="#444" stroke-width="0.9" />
<text x="184.45" y="411.20" font-size="7.8" fill="#222" font-weight="normal" text-anchor="middle" >0.006</text>
<line x1="203.07" y1="401.20" x2="203.07" y2="399.60" stroke="#444" stroke-width="0.9" />
<line x1="221.70" y1="401.20" x2="221.70" y2="398.60" stroke="#444" stroke-width="0.9" />
<text x="221.70" y="411.20" font-size="7.8" fill="#222" font-weight="normal" text-anchor="middle" >0.008</text>
<text x="135.20" y="426.30" font-size="12.6" fill="#111" font-weight="normal" text-anchor="middle" ><tspan font-style="italic">&#949;</tspan><tspan font-size="8.8" dy="2.8">zz</tspan><tspan dy="-2.8"> and &#8722;</tspan><tspan font-style="italic">&#949;</tspan><tspan font-size="8.8" dy="2.8">yy</tspan></text>
<text x="0.00" y="0.00" font-size="12.2" fill="#111" font-weight="normal" text-anchor="middle" transform="translate(26.9,333) rotate(-90)"><tspan font-style="italic">I</tspan><tspan font-size="8.5" dy="2.6">ph</tspan><tspan dy="-2.6"> (10</tspan><tspan font-size="8" dy="-4.4">12</tspan><tspan dy="4.4"> W/cm</tspan><tspan font-size="8" dy="-4.4">2</tspan><tspan dy="4.4">)</tspan></text>
<path d="M72.70,316.63 L74.80,320.33 L70.60,320.33 Z" fill="none" stroke="#444" stroke-width="0.95" />
<path d="M72.70,320.96 L74.80,324.66 L70.60,324.66 Z" fill="none" stroke="#444" stroke-width="0.95" />
<rect x="71.20" y="304.24" width="3.00" height="3.00" fill="none" stroke="#3caa3c" stroke-width="0.95" />
<rect x="71.20" y="308.57" width="3.00" height="3.00" fill="none" stroke="#3caa3c" stroke-width="0.95" />
<rect x="71.20" y="312.90" width="3.00" height="3.00" fill="none" stroke="#3caa3c" stroke-width="0.95" />
<circle cx="72.70" cy="297.08" r="1.6" fill="none" stroke="#2f7ce8" stroke-width="0.95"/>
<circle cx="72.70" cy="301.41" r="1.6" fill="none" stroke="#2f7ce8" stroke-width="0.95"/>
<path d="M72.70,269.00 L74.80,271.10 L72.70,273.20 L70.60,271.10 Z" fill="none" stroke="#ee1f8c" stroke-width="1.05" />
<path d="M72.70,277.66 L74.80,279.76 L72.70,281.86 L70.60,279.76 Z" fill="none" stroke="#ee1f8c" stroke-width="1.05" />
<path d="M72.70,281.99 L74.80,284.09 L72.70,286.19 L70.60,284.09 Z" fill="none" stroke="#ee1f8c" stroke-width="1.05" />
<path d="M72.70,286.32 L74.80,288.42 L72.70,290.52 L70.60,288.42 Z" fill="none" stroke="#ee1f8c" stroke-width="1.05" />
<path d="M72.70,290.65 L74.80,292.75 L72.70,294.85 L70.60,292.75 Z" fill="none" stroke="#ee1f8c" stroke-width="1.05" />
<path d="M91.33,325.29 L93.42,328.99 L89.23,328.99 Z" fill="none" stroke="#444" stroke-width="0.95" />
<path d="M91.33,329.62 L93.42,333.32 L89.23,333.32 Z" fill="none" stroke="#444" stroke-width="0.95" />
<rect x="89.83" y="312.90" width="3.00" height="3.00" fill="none" stroke="#3caa3c" stroke-width="0.95" />
<rect x="89.83" y="321.56" width="3.00" height="3.00" fill="none" stroke="#3caa3c" stroke-width="0.95" />
<circle cx="91.33" cy="305.74" r="1.6" fill="none" stroke="#2f7ce8" stroke-width="0.95"/>
<circle cx="91.33" cy="310.07" r="1.6" fill="none" stroke="#2f7ce8" stroke-width="0.95"/>
<path d="M91.33,294.98 L93.42,297.08 L91.33,299.18 L89.23,297.08 Z" fill="none" stroke="#ee1f8c" stroke-width="1.05" />
<path d="M91.33,299.31 L93.42,301.41 L91.33,303.51 L89.23,301.41 Z" fill="none" stroke="#ee1f8c" stroke-width="1.05" />
<path d="M109.95,333.95 L112.05,337.65 L107.85,337.65 Z" fill="none" stroke="#444" stroke-width="0.95" />
<path d="M109.95,338.28 L112.05,341.98 L107.85,341.98 Z" fill="none" stroke="#444" stroke-width="0.95" />
<rect x="108.45" y="325.89" width="3.00" height="3.00" fill="none" stroke="#3caa3c" stroke-width="0.95" />
<rect x="108.45" y="330.22" width="3.00" height="3.00" fill="none" stroke="#3caa3c" stroke-width="0.95" />
<circle cx="109.95" cy="314.40" r="1.6" fill="none" stroke="#2f7ce8" stroke-width="0.95"/>
<circle cx="109.95" cy="323.06" r="1.6" fill="none" stroke="#2f7ce8" stroke-width="0.95"/>
<path d="M109.95,303.64 L112.05,305.74 L109.95,307.84 L107.85,305.74 Z" fill="none" stroke="#ee1f8c" stroke-width="1.05" />
<path d="M109.95,307.97 L112.05,310.07 L109.95,312.17 L107.85,310.07 Z" fill="none" stroke="#ee1f8c" stroke-width="1.05" />
<path d="M128.57,346.94 L130.67,350.64 L126.47,350.64 Z" fill="none" stroke="#444" stroke-width="0.95" />
<rect x="127.07" y="334.55" width="3.00" height="3.00" fill="none" stroke="#3caa3c" stroke-width="0.95" />
<rect x="127.07" y="338.88" width="3.00" height="3.00" fill="none" stroke="#3caa3c" stroke-width="0.95" />
<rect x="127.07" y="343.21" width="3.00" height="3.00" fill="none" stroke="#3caa3c" stroke-width="0.95" />
<circle cx="128.57" cy="318.73" r="1.6" fill="none" stroke="#2f7ce8" stroke-width="0.95"/>
<circle cx="128.57" cy="323.06" r="1.6" fill="none" stroke="#2f7ce8" stroke-width="0.95"/>
<circle cx="128.57" cy="327.39" r="1.6" fill="none" stroke="#2f7ce8" stroke-width="0.95"/>
<circle cx="128.57" cy="331.72" r="1.6" fill="none" stroke="#2f7ce8" stroke-width="0.95"/>
<path d="M128.57,307.97 L130.67,310.07 L128.57,312.17 L126.47,310.07 Z" fill="none" stroke="#ee1f8c" stroke-width="1.05" />
<path d="M128.57,312.30 L130.67,314.40 L128.57,316.50 L126.47,314.40 Z" fill="none" stroke="#ee1f8c" stroke-width="1.05" />
<path d="M147.20,355.60 L149.30,359.30 L145.10,359.30 Z" fill="none" stroke="#444" stroke-width="0.95" />
<rect x="145.70" y="338.88" width="3.00" height="3.00" fill="none" stroke="#3caa3c" stroke-width="0.95" />
<rect x="145.70" y="343.21" width="3.00" height="3.00" fill="none" stroke="#3caa3c" stroke-width="0.95" />
<rect x="145.70" y="347.54" width="3.00" height="3.00" fill="none" stroke="#3caa3c" stroke-width="0.95" />
<rect x="145.70" y="351.87" width="3.00" height="3.00" fill="none" stroke="#3caa3c" stroke-width="0.95" />
<circle cx="147.20" cy="323.06" r="1.6" fill="none" stroke="#2f7ce8" stroke-width="0.95"/>
<circle cx="147.20" cy="327.39" r="1.6" fill="none" stroke="#2f7ce8" stroke-width="0.95"/>
<circle cx="147.20" cy="331.72" r="1.6" fill="none" stroke="#2f7ce8" stroke-width="0.95"/>
<circle cx="147.20" cy="336.05" r="1.6" fill="none" stroke="#2f7ce8" stroke-width="0.95"/>
<path d="M147.20,312.30 L149.30,314.40 L147.20,316.50 L145.10,314.40 Z" fill="none" stroke="#ee1f8c" stroke-width="1.05" />
<path d="M147.20,316.63 L149.30,318.73 L147.20,320.83 L145.10,318.73 Z" fill="none" stroke="#ee1f8c" stroke-width="1.05" />
<path d="M165.82,372.92 L167.92,376.62 L163.72,376.62 Z" fill="none" stroke="#444" stroke-width="0.95" />
<rect x="164.32" y="347.54" width="3.00" height="3.00" fill="none" stroke="#3caa3c" stroke-width="0.95" />
<rect x="164.32" y="364.86" width="3.00" height="3.00" fill="none" stroke="#3caa3c" stroke-width="0.95" />
<rect x="164.32" y="369.19" width="3.00" height="3.00" fill="none" stroke="#3caa3c" stroke-width="0.95" />
<circle cx="165.82" cy="327.39" r="1.6" fill="none" stroke="#2f7ce8" stroke-width="0.95"/>
<circle cx="165.82" cy="344.71" r="1.6" fill="none" stroke="#2f7ce8" stroke-width="0.95"/>
<path d="M165.82,320.96 L167.92,323.06 L165.82,325.16 L163.72,323.06 Z" fill="none" stroke="#ee1f8c" stroke-width="1.05" />
<path d="M184.45,381.58 L186.55,385.28 L182.35,385.28 Z" fill="none" stroke="#444" stroke-width="0.95" />
<rect x="182.95" y="356.20" width="3.00" height="3.00" fill="none" stroke="#3caa3c" stroke-width="0.95" />
<rect x="182.95" y="360.53" width="3.00" height="3.00" fill="none" stroke="#3caa3c" stroke-width="0.95" />
<rect x="182.95" y="364.86" width="3.00" height="3.00" fill="none" stroke="#3caa3c" stroke-width="0.95" />
<rect x="182.95" y="369.19" width="3.00" height="3.00" fill="none" stroke="#3caa3c" stroke-width="0.95" />
<rect x="182.95" y="373.52" width="3.00" height="3.00" fill="none" stroke="#3caa3c" stroke-width="0.95" />
<rect x="182.95" y="377.85" width="3.00" height="3.00" fill="none" stroke="#3caa3c" stroke-width="0.95" />
<circle cx="184.45" cy="331.72" r="1.6" fill="none" stroke="#2f7ce8" stroke-width="0.95"/>
<circle cx="184.45" cy="336.05" r="1.6" fill="none" stroke="#2f7ce8" stroke-width="0.95"/>
<circle cx="184.45" cy="340.38" r="1.6" fill="none" stroke="#2f7ce8" stroke-width="0.95"/>
<circle cx="184.45" cy="344.71" r="1.6" fill="none" stroke="#2f7ce8" stroke-width="0.95"/>
<circle cx="184.45" cy="349.04" r="1.6" fill="none" stroke="#2f7ce8" stroke-width="0.95"/>
<circle cx="184.45" cy="353.37" r="1.6" fill="none" stroke="#2f7ce8" stroke-width="0.95"/>
<path d="M184.45,320.96 L186.55,323.06 L184.45,325.16 L182.35,323.06 Z" fill="none" stroke="#ee1f8c" stroke-width="1.05" />
<path d="M184.45,325.29 L186.55,327.39 L184.45,329.49 L182.35,327.39 Z" fill="none" stroke="#ee1f8c" stroke-width="1.05" />
<path d="M203.07,385.91 L205.17,389.61 L200.97,389.61 Z" fill="none" stroke="#444" stroke-width="0.95" />
<path d="M203.07,390.24 L205.17,393.94 L200.97,393.94 Z" fill="none" stroke="#444" stroke-width="0.95" />
<rect x="201.57" y="364.86" width="3.00" height="3.00" fill="none" stroke="#3caa3c" stroke-width="0.95" />
<rect x="201.57" y="373.52" width="3.00" height="3.00" fill="none" stroke="#3caa3c" stroke-width="0.95" />
<rect x="201.57" y="382.18" width="3.00" height="3.00" fill="none" stroke="#3caa3c" stroke-width="0.95" />
<circle cx="203.07" cy="336.05" r="1.6" fill="none" stroke="#2f7ce8" stroke-width="0.95"/>
<circle cx="203.07" cy="340.38" r="1.6" fill="none" stroke="#2f7ce8" stroke-width="0.95"/>
<circle cx="203.07" cy="349.04" r="1.6" fill="none" stroke="#2f7ce8" stroke-width="0.95"/>
<circle cx="203.07" cy="362.03" r="1.6" fill="none" stroke="#2f7ce8" stroke-width="0.95"/>
<path d="M203.07,329.62 L205.17,331.72 L203.07,333.82 L200.97,331.72 Z" fill="none" stroke="#ee1f8c" stroke-width="1.05" />
<path d="M69.60,357.20 L71.70,360.90 L67.50,360.90 Z" fill="none" stroke="#444" stroke-width="0.95" />
<text x="80.20" y="362.40" font-size="7.5" fill="#2a2a2a" font-weight="normal" text-anchor="start" >recover, a<tspan font-size="5.2" dy="-3.0">+</tspan><tspan dy="3.0">/c</tspan><tspan font-size="5.2" dy="-3.0">+</tspan></text>
<rect x="68.10" y="368.30" width="3.00" height="3.00" fill="none" stroke="#3caa3c" stroke-width="0.95" />
<text x="80.20" y="372.90" font-size="7.5" fill="#2a2a2a" font-weight="normal" text-anchor="start" >a<tspan font-size="5.2" dy="-3.0">+</tspan><tspan dy="3.0">/c</tspan><tspan font-size="5.2" dy="-3.0">&#8722;</tspan></text>
<circle cx="69.60" cy="380.20" r="1.6" fill="none" stroke="#2f7ce8" stroke-width="0.95"/>
<text x="80.20" y="383.30" font-size="7.5" fill="#2a2a2a" font-weight="normal" text-anchor="start" >a<tspan font-size="5.2" dy="-3.0">&#8722;</tspan><tspan dy="3.0">/c</tspan><tspan font-size="5.2" dy="-3.0">&#8722;</tspan></text>
<path d="M69.60,388.50 L71.70,390.60 L69.60,392.70 L67.50,390.60 Z" fill="none" stroke="#ee1f8c" stroke-width="1.05" />
<text x="80.20" y="393.70" font-size="7.5" fill="#2a2a2a" font-weight="normal" text-anchor="start" >a<tspan font-size="5.2" dy="-3.0">&#8722;</tspan><tspan dy="3.0">/c</tspan><tspan font-size="5.2" dy="-3.0">+</tspan></text>
<line x1="112.66" y1="285.17" x2="128.84" y2="269.13" stroke="#8b3fc4" stroke-width="1.9" />
<path d="M133.10,264.90 L130.31,272.74 L125.24,267.63 Z" fill="#8b3fc4" stroke="none" stroke-width="1" />
<path d="M108.40,289.40 L111.19,281.56 L116.26,286.67 Z" fill="#8b3fc4" stroke="none" stroke-width="1" />
<text x="104.20" y="273.90" font-size="11" fill="#8b3fc4" font-weight="bold" text-anchor="start" >E</text>
<text x="111.20" y="277.00" font-size="8" fill="#8b3fc4" font-weight="normal" text-anchor="start" >ph</text>
<rect x="138.20" y="271.60" width="77.20" height="4.40" fill="#ee2e2e" stroke="none" stroke-width="1" />
<rect x="164.70" y="271.60" width="24.60" height="4.40" fill="#8ed42a" stroke="none" stroke-width="1" />
<rect x="164.70" y="264.50" width="24.80" height="19.00" fill="none" stroke="#2b3a55" stroke-width="1.5" rx="1.5" stroke-dasharray="3.2,1.7"/>
<line x1="141.50" y1="281.70" x2="153.76" y2="270.05" stroke="#1a1aff" stroke-width="1.9" />
<path d="M157.70,266.30 L155.18,273.52 L150.36,268.45 Z" fill="#1a1aff" stroke="none" stroke-width="1" />
<line x1="169.20" y1="265.90" x2="181.59" y2="277.91" stroke="#1a1aff" stroke-width="1.9" />
<path d="M185.50,281.70 L178.18,279.48 L183.05,274.45 Z" fill="#1a1aff" stroke="none" stroke-width="1" />
<line x1="197.00" y1="281.70" x2="209.26" y2="270.05" stroke="#1a1aff" stroke-width="1.9" />
<path d="M213.20,266.30 L210.68,273.52 L205.86,268.45 Z" fill="#1a1aff" stroke="none" stroke-width="1" />
<text x="206.20" y="288.20" font-size="10.5" fill="#1a1aff" font-weight="bold" text-anchor="start" >P</text>
<line x1="164.40" y1="283.60" x2="164.40" y2="292.00" stroke="#f4b400" stroke-width="1.0" stroke-dasharray="2,1.2"/>
<line x1="189.30" y1="283.60" x2="189.30" y2="292.00" stroke="#f4b400" stroke-width="1.0" stroke-dasharray="2,1.2"/>
<line x1="140.00" y1="295.60" x2="151.24" y2="295.60" stroke="#000" stroke-width="1.8" />
<path d="M156.20,295.60 L150.00,298.80 L150.00,292.40 Z" fill="#000" stroke="none" stroke-width="1" />
<line x1="185.20" y1="295.60" x2="173.66" y2="295.60" stroke="#000" stroke-width="1.8" />
<path d="M168.70,295.60 L174.90,292.40 L174.90,298.80 Z" fill="#000" stroke="none" stroke-width="1" />
<line x1="196.40" y1="295.60" x2="207.54" y2="295.60" stroke="#000" stroke-width="1.8" />
<path d="M212.50,295.60 L206.30,298.80 L206.30,292.40 Z" fill="#000" stroke="none" stroke-width="1" />
<circle cx="164.40" cy="295.60" r="3.2" fill="url(#qb)"/>
<line x1="162.48" y1="295.60" x2="166.32" y2="295.60" stroke="#fff" stroke-width="0.8" />
<circle cx="189.30" cy="295.60" r="3.2" fill="url(#qr)"/>
<line x1="187.38" y1="295.60" x2="191.22" y2="295.60" stroke="#fff" stroke-width="0.8" />
<line x1="189.30" y1="293.68" x2="189.30" y2="297.52" stroke="#fff" stroke-width="0.8" />
<text x="163.70" y="312.80" font-size="10.5" fill="#111" font-weight="bold" text-anchor="start" >E</text>
<text x="170.60" y="315.00" font-size="7.4" fill="#111" font-weight="normal" text-anchor="start" >BPV</text>
<text x="188.20" y="314.40" font-size="11" fill="#555" font-weight="normal" text-anchor="start" >&#8593;</text>
<rect x="292.60" y="280.80" width="21.40" height="3.80" fill="#70cc2a" stroke="none" stroke-width="1" />
<rect x="314.00" y="280.80" width="80.00" height="3.80" fill="#3cd6ee" stroke="none" stroke-width="1" />
<rect x="394.00" y="280.80" width="21.20" height="3.80" fill="#70cc2a" stroke="none" stroke-width="1" />
<rect x="292.60" y="280.80" width="21.40" height="44.00" fill="none" stroke="#2b3a55" stroke-width="1.5" rx="1.6" stroke-dasharray="3.2,1.7"/>
<rect x="394.00" y="280.80" width="21.20" height="44.00" fill="none" stroke="#2b3a55" stroke-width="1.5" rx="1.6" stroke-dasharray="3.2,1.7"/>
<line x1="313.40" y1="264.20" x2="313.40" y2="324.80" stroke="#f4b400" stroke-width="1.0" stroke-dasharray="2.2,1.3"/>
<line x1="394.40" y1="264.20" x2="394.40" y2="324.80" stroke="#f4b400" stroke-width="1.0" stroke-dasharray="2.2,1.3"/>
<circle cx="313.40" cy="261.20" r="3.3" fill="url(#qb)"/>
<line x1="311.42" y1="261.20" x2="315.38" y2="261.20" stroke="#fff" stroke-width="0.8" />
<circle cx="394.40" cy="261.20" r="3.3" fill="url(#qr)"/>
<line x1="392.42" y1="261.20" x2="396.38" y2="261.20" stroke="#fff" stroke-width="0.8" />
<line x1="394.40" y1="259.22" x2="394.40" y2="263.18" stroke="#fff" stroke-width="0.8" />
<text x="267.90" y="273.20" font-size="10.8" fill="#e8782a" font-weight="bold" text-anchor="start" >J</text>
<text x="274.00" y="275.00" font-size="7.5" fill="#e8782a" font-weight="bold" text-anchor="start" >BPV</text>
<text x="274.20" y="299.80" font-size="11" fill="#3a86e8" font-weight="bold" text-anchor="start" >P</text>
<text x="267.50" y="316.00" font-size="10.8" fill="#111" font-weight="bold" text-anchor="start" >E</text>
<text x="274.20" y="318.20" font-size="7.5" fill="#111" font-weight="normal" text-anchor="start" >BPV</text>
<line x1="296.80" y1="264.80" x2="305.06" y2="272.40" stroke="#e8782a" stroke-width="2.0" />
<path d="M309.30,276.30 L301.50,274.15 L306.51,268.70 Z" fill="#e8782a" stroke="none" stroke-width="1" />
<line x1="346.50" y1="277.90" x2="356.94" y2="267.39" stroke="#e8782a" stroke-width="2.0" />
<path d="M361.00,263.30 L358.55,271.02 L353.30,265.80 Z" fill="#e8782a" stroke="none" stroke-width="1" />
<line x1="398.50" y1="264.80" x2="406.76" y2="272.40" stroke="#e8782a" stroke-width="2.0" />
<path d="M411.00,276.30 L403.20,274.15 L408.21,268.70 Z" fill="#e8782a" stroke="none" stroke-width="1" />
<line x1="295.70" y1="288.80" x2="306.85" y2="298.88" stroke="#1414e8" stroke-width="2.0" />
<path d="M311.30,302.90 L303.19,300.69 L308.28,295.05 Z" fill="#1414e8" stroke="none" stroke-width="1" />
<line x1="361.70" y1="288.30" x2="351.26" y2="298.67" stroke="#1414e8" stroke-width="2.0" />
<path d="M347.00,302.90 L349.64,294.92 L355.00,300.31 Z" fill="#1414e8" stroke="none" stroke-width="1" />
<line x1="397.50" y1="288.80" x2="407.61" y2="298.21" stroke="#1414e8" stroke-width="2.0" />
<path d="M412.00,302.30 L403.92,299.97 L409.10,294.41 Z" fill="#1414e8" stroke="none" stroke-width="1" />
<line x1="295.70" y1="312.70" x2="304.98" y2="312.70" stroke="#111" stroke-width="2.1" />
<path d="M310.90,312.70 L303.50,316.50 L303.50,308.90 Z" fill="#111" stroke="none" stroke-width="1" />
<line x1="386.00" y1="312.70" x2="328.82" y2="312.70" stroke="#111" stroke-width="2.1" />
<path d="M322.90,312.70 L330.30,308.90 L330.30,316.50 Z" fill="#111" stroke="none" stroke-width="1" />
<line x1="397.50" y1="312.70" x2="407.08" y2="312.70" stroke="#111" stroke-width="2.1" />
<path d="M413.00,312.70 L405.60,316.50 L405.60,308.90 Z" fill="#111" stroke="none" stroke-width="1" />
<path d="M359.29,370.51 L370.61,359.19 A29,29 0 0 1 370.61,400.21 L359.29,388.89" fill="none" stroke="#f7b500" stroke-width="1.45" stroke-linejoin="round"/>
<path d="M359.29,388.89 L370.61,400.21 A29,29 0 0 1 329.59,400.21 L340.91,388.89" fill="none" stroke="#a8a8a8" stroke-width="1.45" stroke-linejoin="round"/>
<line x1="350.10" y1="379.70" x2="358.09" y2="371.71" stroke="#222" stroke-width="0.5" />
<circle cx="358.09" cy="371.71" r="0.9" fill="#111"/>
<line x1="350.10" y1="379.70" x2="358.09" y2="387.69" stroke="#222" stroke-width="0.5" />
<circle cx="358.09" cy="387.69" r="0.9" fill="#111"/>
<line x1="350.10" y1="379.70" x2="342.11" y2="387.69" stroke="#222" stroke-width="0.5" />
<circle cx="342.11" cy="387.69" r="0.9" fill="#111"/>
<line x1="350.10" y1="379.70" x2="342.11" y2="371.71" stroke="#222" stroke-width="0.5" />
<circle cx="342.11" cy="371.71" r="0.9" fill="#111"/>
<line x1="363.60" y1="379.70" x2="394.00" y2="379.70" stroke="#111" stroke-width="1.5" stroke-dasharray="3.2,2"/>
<path d="M401.90,379.70 L393.90,383.30 L393.90,376.10 Z" fill="#111" stroke="none" stroke-width="1" />
<text x="406.20" y="384.40" font-size="11" fill="#111" font-weight="bold" text-anchor="start" >E</text>
<text x="413.50" y="386.90" font-size="7.4" fill="#111" font-weight="normal" text-anchor="start" >BPV</text>
<path d="M365.31,396.01 A22.3,22.3 0 0 0 370.23,389.30" fill="none" stroke="#243b5e" stroke-width="1.8" />
<path d="M371.74,385.09 L372.70,391.47 L366.73,389.16 Z" fill="#243b5e" stroke="none" stroke-width="1" />
<line x1="350.10" y1="379.70" x2="375.77" y2="405.37" stroke="#16a04a" stroke-width="1.7" />
<path d="M380.30,409.90 L372.10,406.79 L377.19,401.70 Z" fill="#16a04a" stroke="none" stroke-width="1" />
<text x="381.20" y="420.80" font-size="12" fill="#16a04a" font-weight="normal" text-anchor="start" >a<tspan font-size="8" dy="-4.6">+</tspan></text>
<line x1="350.10" y1="379.70" x2="381.79" y2="362.28" stroke="#c51ff0" stroke-width="1.7" />
<path d="M387.40,359.20 L382.12,366.21 L378.66,359.90 Z" fill="#c51ff0" stroke="none" stroke-width="1" />
<text x="390.40" y="356.20" font-size="11.5" fill="#c51ff0" font-weight="bold" text-anchor="start" >P</text>
<text x="398.20" y="358.60" font-size="8" fill="#c51ff0" font-weight="normal" text-anchor="start" >max</text>
<text x="321.60" y="353.20" font-size="10.8" fill="#e8782a" font-weight="normal" text-anchor="start" >Final a<tspan font-size="6.5" dy="-4">+</tspan><tspan dy="4">/c</tspan><tspan font-size="6.5" dy="-4">&#8722;</tspan></text>
<text x="298.80" y="423.00" font-size="11" fill="#282828" font-weight="normal" text-anchor="start" >Initial a<tspan font-size="6.5" dy="-4">+</tspan><tspan dy="4">/c</tspan><tspan font-size="6.5" dy="-4">&#8722;</tspan></text>
<line x1="270.09" y1="384.70" x2="295.11" y2="360.20" stroke="#8b3fc4" stroke-width="1.9" />
<path d="M299.40,356.00 L296.56,363.82 L291.52,358.67 Z" fill="#8b3fc4" stroke="none" stroke-width="1" />
<path d="M265.80,388.90 L268.64,381.08 L273.68,386.23 Z" fill="#8b3fc4" stroke="none" stroke-width="1" />
<text x="263.20" y="365.30" font-size="11" fill="#8b3fc4" font-weight="bold" text-anchor="start" >E</text>
<text x="270.30" y="367.20" font-size="8" fill="#8b3fc4" font-weight="normal" text-anchor="start" >ph</text>
<g clip-path="url(#clip10)"><rect x="483.3" y="261.3" width="78.90" height="143.10" fill="#fff"/><g filter="url(#bl10)">
<rect x="479.3" y="257.3" width="86.90" height="151.10" fill="#fff"/>
<path d="M479.30,257.30 L566.20,257.30 L566.20,408.40 L479.30,408.40 Z" fill="#88dc18" />
<line x1="481.30" y1="264.00" x2="507.30" y2="264.00" stroke="#48c432" stroke-width="1" opacity="0.4"/>
<line x1="538.20" y1="264.00" x2="564.20" y2="264.00" stroke="#48c432" stroke-width="1" opacity="0.4"/>
<line x1="481.30" y1="267.00" x2="507.30" y2="267.00" stroke="#48c432" stroke-width="1" opacity="0.4"/>
<line x1="538.20" y1="267.00" x2="564.20" y2="267.00" stroke="#48c432" stroke-width="1" opacity="0.4"/>
<line x1="481.30" y1="270.00" x2="507.30" y2="270.00" stroke="#48c432" stroke-width="1" opacity="0.4"/>
<line x1="538.20" y1="270.00" x2="564.20" y2="270.00" stroke="#48c432" stroke-width="1" opacity="0.4"/>
<line x1="481.30" y1="273.00" x2="507.30" y2="273.00" stroke="#48c432" stroke-width="1" opacity="0.4"/>
<line x1="538.20" y1="273.00" x2="564.20" y2="273.00" stroke="#48c432" stroke-width="1" opacity="0.4"/>
<line x1="481.30" y1="276.00" x2="507.30" y2="276.00" stroke="#48c432" stroke-width="1" opacity="0.4"/>
<line x1="538.20" y1="276.00" x2="564.20" y2="276.00" stroke="#48c432" stroke-width="1" opacity="0.4"/>
<line x1="481.30" y1="279.00" x2="507.30" y2="279.00" stroke="#48c432" stroke-width="1" opacity="0.4"/>
<line x1="538.20" y1="279.00" x2="564.20" y2="279.00" stroke="#48c432" stroke-width="1" opacity="0.4"/>
<line x1="481.30" y1="282.00" x2="507.30" y2="282.00" stroke="#48c432" stroke-width="1" opacity="0.4"/>
<line x1="538.20" y1="282.00" x2="564.20" y2="282.00" stroke="#48c432" stroke-width="1" opacity="0.4"/>
<line x1="481.30" y1="285.00" x2="507.30" y2="285.00" stroke="#48c432" stroke-width="1" opacity="0.4"/>
<line x1="538.20" y1="285.00" x2="564.20" y2="285.00" stroke="#48c432" stroke-width="1" opacity="0.4"/>
<line x1="481.30" y1="288.00" x2="507.30" y2="288.00" stroke="#48c432" stroke-width="1" opacity="0.4"/>
<line x1="538.20" y1="288.00" x2="564.20" y2="288.00" stroke="#48c432" stroke-width="1" opacity="0.4"/>
<line x1="481.30" y1="291.00" x2="507.30" y2="291.00" stroke="#48c432" stroke-width="1" opacity="0.4"/>
<line x1="538.20" y1="291.00" x2="564.20" y2="291.00" stroke="#48c432" stroke-width="1" opacity="0.4"/>
<line x1="481.30" y1="294.00" x2="507.30" y2="294.00" stroke="#48c432" stroke-width="1" opacity="0.4"/>
<line x1="538.20" y1="294.00" x2="564.20" y2="294.00" stroke="#48c432" stroke-width="1" opacity="0.4"/>
<line x1="481.30" y1="297.00" x2="507.30" y2="297.00" stroke="#48c432" stroke-width="1" opacity="0.4"/>
<line x1="538.20" y1="297.00" x2="564.20" y2="297.00" stroke="#48c432" stroke-width="1" opacity="0.4"/>
<line x1="481.30" y1="300.00" x2="507.30" y2="300.00" stroke="#48c432" stroke-width="1" opacity="0.4"/>
<line x1="538.20" y1="300.00" x2="564.20" y2="300.00" stroke="#48c432" stroke-width="1" opacity="0.4"/>
<line x1="481.30" y1="303.00" x2="507.30" y2="303.00" stroke="#48c432" stroke-width="1" opacity="0.4"/>
<line x1="538.20" y1="303.00" x2="564.20" y2="303.00" stroke="#48c432" stroke-width="1" opacity="0.4"/>
<line x1="481.30" y1="306.00" x2="507.30" y2="306.00" stroke="#48c432" stroke-width="1" opacity="0.4"/>
<line x1="538.20" y1="306.00" x2="564.20" y2="306.00" stroke="#48c432" stroke-width="1" opacity="0.4"/>
<line x1="481.30" y1="309.00" x2="507.30" y2="309.00" stroke="#48c432" stroke-width="1" opacity="0.4"/>
<line x1="538.20" y1="309.00" x2="564.20" y2="309.00" stroke="#48c432" stroke-width="1" opacity="0.4"/>
<line x1="481.30" y1="312.00" x2="507.30" y2="312.00" stroke="#48c432" stroke-width="1" opacity="0.4"/>
<line x1="538.20" y1="312.00" x2="564.20" y2="312.00" stroke="#48c432" stroke-width="1" opacity="0.4"/>
<line x1="481.30" y1="315.00" x2="507.30" y2="315.00" stroke="#48c432" stroke-width="1" opacity="0.4"/>
<line x1="538.20" y1="315.00" x2="564.20" y2="315.00" stroke="#48c432" stroke-width="1" opacity="0.4"/>
<line x1="481.30" y1="318.00" x2="507.30" y2="318.00" stroke="#48c432" stroke-width="1" opacity="0.4"/>
<line x1="538.20" y1="318.00" x2="564.20" y2="318.00" stroke="#48c432" stroke-width="1" opacity="0.4"/>
<line x1="481.30" y1="321.00" x2="507.30" y2="321.00" stroke="#48c432" stroke-width="1" opacity="0.4"/>
<line x1="538.20" y1="321.00" x2="564.20" y2="321.00" stroke="#48c432" stroke-width="1" opacity="0.4"/>
<line x1="481.30" y1="324.00" x2="507.30" y2="324.00" stroke="#48c432" stroke-width="1" opacity="0.4"/>
<line x1="538.20" y1="324.00" x2="564.20" y2="324.00" stroke="#48c432" stroke-width="1" opacity="0.4"/>
<line x1="481.30" y1="327.00" x2="507.30" y2="327.00" stroke="#48c432" stroke-width="1" opacity="0.4"/>
<line x1="538.20" y1="327.00" x2="564.20" y2="327.00" stroke="#48c432" stroke-width="1" opacity="0.4"/>
<line x1="481.30" y1="330.00" x2="507.30" y2="330.00" stroke="#48c432" stroke-width="1" opacity="0.4"/>
<line x1="538.20" y1="330.00" x2="564.20" y2="330.00" stroke="#48c432" stroke-width="1" opacity="0.4"/>
<line x1="481.30" y1="333.00" x2="507.30" y2="333.00" stroke="#48c432" stroke-width="1" opacity="0.4"/>
<line x1="538.20" y1="333.00" x2="564.20" y2="333.00" stroke="#48c432" stroke-width="1" opacity="0.4"/>
<path d="M479.30,257.30 C483.67,246.85 501.13,256.10 505.50,257.30 C509.87,258.50 506.33,262.80 505.50,264.50 C504.67,266.20 501.82,265.50 500.50,267.50 C499.18,269.50 498.52,273.50 497.60,276.50 C496.68,279.50 495.83,282.50 495.00,285.50 C494.17,288.50 493.37,291.50 492.60,294.50 C491.83,297.50 491.12,300.50 490.40,303.50 C489.68,306.50 489.03,310.08 488.30,312.50 C487.57,314.92 487.50,316.75 486.00,318.00 C484.50,319.25 480.42,330.12 479.30,320.00 C478.18,309.88 474.93,267.75 479.30,257.30 Z" fill="#e0d022" />
<path d="M566.20,257.30 C561.00,246.85 540.20,256.10 535.00,257.30 C529.80,258.50 533.37,262.80 535.00,264.50 C536.63,266.20 542.70,265.50 544.80,267.50 C546.90,269.50 546.73,273.50 547.60,276.50 C548.47,279.50 549.27,282.50 550.00,285.50 C550.73,288.50 551.27,291.50 552.00,294.50 C552.73,297.50 553.63,300.50 554.40,303.50 C555.17,306.50 555.83,310.08 556.60,312.50 C557.37,314.92 557.40,316.75 559.00,318.00 C560.60,319.25 565.00,330.12 566.20,320.00 C567.40,309.88 571.40,267.75 566.20,257.30 Z" fill="#e0d022" />
<path d="M479.30,257.30 C483.33,247.35 499.47,256.15 503.50,257.30 C507.53,258.45 504.33,262.58 503.50,264.20 C502.67,265.82 499.82,265.03 498.50,267.00 C497.18,268.97 496.52,273.00 495.60,276.00 C494.68,279.00 493.83,282.00 493.00,285.00 C492.17,288.00 491.37,291.00 490.60,294.00 C489.83,297.00 489.12,300.00 488.40,303.00 C487.68,306.00 486.95,309.83 486.30,312.00 C485.65,314.17 485.67,315.17 484.50,316.00 C483.33,316.83 480.17,326.78 479.30,317.00 C478.43,307.22 475.27,267.25 479.30,257.30 Z" fill="#e8302c" />
<path d="M566.20,257.30 C561.33,247.35 541.87,256.15 537.00,257.30 C532.13,258.45 535.37,262.58 537.00,264.20 C538.63,265.82 544.70,265.03 546.80,267.00 C548.90,268.97 548.73,273.00 549.60,276.00 C550.47,279.00 551.27,282.00 552.00,285.00 C552.73,288.00 553.27,291.00 554.00,294.00 C554.73,297.00 555.63,300.00 556.40,303.00 C557.17,306.00 557.90,309.83 558.60,312.00 C559.30,314.17 559.33,315.17 560.60,316.00 C561.87,316.83 565.27,326.78 566.20,317.00 C567.13,307.22 571.07,267.25 566.20,257.30 Z" fill="#e8302c" />
<path d="M508.40,263.50 C513.67,261.33 529.63,261.33 534.60,263.50 C539.57,265.67 536.93,272.42 538.20,276.50 C539.47,280.58 541.07,283.95 542.20,288.00 C543.33,292.05 544.07,296.80 545.00,300.80 C545.93,304.80 546.97,307.97 547.80,312.00 C548.63,316.03 549.43,321.00 550.00,325.00 C550.57,329.00 560.50,334.17 551.20,336.00 C541.90,337.83 503.80,337.83 494.20,336.00 C484.60,334.17 493.63,329.00 493.60,325.00 C493.57,321.00 493.80,316.03 494.00,312.00 C494.20,307.97 494.17,304.80 494.80,300.80 C495.43,296.80 496.43,292.05 497.80,288.00 C499.17,283.95 501.23,280.58 503.00,276.50 C504.77,272.42 503.13,265.67 508.40,263.50 Z" fill="#3cc630" />
<path d="M511.00,264.30 C515.38,262.27 527.92,262.27 532.00,264.30 C536.08,266.33 534.25,272.55 535.50,276.50 C536.75,280.45 538.37,283.95 539.50,288.00 C540.63,292.05 541.38,296.80 542.30,300.80 C543.22,304.80 544.18,307.97 545.00,312.00 C545.82,316.03 546.60,321.33 547.20,325.00 C547.80,328.67 548.33,332.00 548.60,334.00 C548.87,336.00 557.33,336.50 548.80,337.00 C540.27,337.50 506.03,337.50 497.40,337.00 C488.77,336.50 497.20,336.00 497.00,334.00 C496.80,332.00 496.27,328.67 496.20,325.00 C496.13,321.33 496.40,316.03 496.60,312.00 C496.80,307.97 496.77,304.80 497.40,300.80 C498.03,296.80 499.02,292.05 500.40,288.00 C501.78,283.95 503.93,280.45 505.70,276.50 C507.47,272.55 506.62,266.33 511.00,264.30 Z" fill="none" stroke="#18b832" stroke-width="1.6"/>
<path d="M511.00,264.30 C515.38,262.27 527.92,262.27 532.00,264.30 C536.08,266.33 534.25,272.55 535.50,276.50 C536.75,280.45 538.37,283.95 539.50,288.00 C540.63,292.05 541.38,296.80 542.30,300.80 C543.22,304.80 544.18,307.97 545.00,312.00 C545.82,316.03 546.60,321.33 547.20,325.00 C547.80,328.67 548.33,332.00 548.60,334.00 C548.87,336.00 557.33,336.50 548.80,337.00 C540.27,337.50 506.03,337.50 497.40,337.00 C488.77,336.50 497.20,336.00 497.00,334.00 C496.80,332.00 496.27,328.67 496.20,325.00 C496.13,321.33 496.40,316.03 496.60,312.00 C496.80,307.97 496.77,304.80 497.40,300.80 C498.03,296.80 499.02,292.05 500.40,288.00 C501.78,283.95 503.93,280.45 505.70,276.50 C507.47,272.55 506.62,266.33 511.00,264.30 Z" fill="#36d6f4" />
<ellipse cx="521.5" cy="266.2" rx="8" ry="1.4" fill="#3070f0" opacity="0.8"/>
<line x1="514.00" y1="270.00" x2="530.00" y2="270.00" stroke="#3a9cf0" stroke-width="0.9" opacity="0.60"/>
<line x1="513.50" y1="273.20" x2="530.50" y2="273.20" stroke="#3a9cf0" stroke-width="0.9" opacity="0.52"/>
<line x1="513.00" y1="276.40" x2="531.00" y2="276.40" stroke="#3a9cf0" stroke-width="0.9" opacity="0.44"/>
<line x1="512.50" y1="279.60" x2="531.50" y2="279.60" stroke="#3a9cf0" stroke-width="0.9" opacity="0.36"/>
<line x1="512.00" y1="282.80" x2="532.00" y2="282.80" stroke="#3a9cf0" stroke-width="0.9" opacity="0.28"/>
<line x1="511.50" y1="286.00" x2="532.50" y2="286.00" stroke="#3a9cf0" stroke-width="0.9" opacity="0.20"/>
<path d="M503.50,257.30 L537.00,257.30 L537.00,263.80 L503.50,263.80 Z" fill="#96e030" />
<path d="M479.30,336.60 L566.20,336.60 L566.20,339.00 L479.30,339.00 Z" fill="#52c83a" />
<path d="M497.00,335.40 L550.00,335.40 L550.00,337.60 L497.00,337.60 Z" fill="#28a4e8" />
<path d="M489.90,339.50 C490.83,337.83 485.12,338.25 495.40,338.00 C505.68,337.75 541.48,337.75 551.60,338.00 C561.72,338.25 555.33,337.83 556.10,339.50 C556.87,341.17 556.42,344.58 556.20,348.00 C555.98,351.42 555.40,355.83 554.80,360.00 C554.20,364.17 553.27,368.33 552.60,373.00 C551.93,377.67 551.27,381.83 550.80,388.00 C550.33,394.17 558.97,406.33 549.80,410.00 C540.63,413.67 504.95,413.33 495.80,410.00 C486.65,406.67 495.38,395.83 494.90,390.00 C494.42,384.17 493.60,380.00 492.90,375.00 C492.20,370.00 491.22,364.50 490.70,360.00 C490.18,355.50 489.93,351.42 489.80,348.00 C489.67,344.58 488.97,341.17 489.90,339.50 Z" fill="#e8c020" />
<path d="M491.50,339.50 C492.43,337.83 487.25,338.25 497.00,338.00 C506.75,337.75 540.42,337.75 550.00,338.00 C559.58,338.25 553.73,337.83 554.50,339.50 C555.27,341.17 554.82,344.58 554.60,348.00 C554.38,351.42 553.80,355.83 553.20,360.00 C552.60,364.17 551.67,368.33 551.00,373.00 C550.33,377.67 549.67,381.83 549.20,388.00 C548.73,394.17 556.83,406.33 548.20,410.00 C539.57,413.67 506.02,413.33 497.40,410.00 C488.78,406.67 496.98,395.83 496.50,390.00 C496.02,384.17 495.20,380.00 494.50,375.00 C493.80,370.00 492.82,364.50 492.30,360.00 C491.78,355.50 491.53,351.42 491.40,348.00 C491.27,344.58 490.57,341.17 491.50,339.50 Z" fill="#e8302c" />
<path d="M499.50,337.60 C507.42,336.87 542.92,337.07 550.50,337.60 C558.08,338.13 547.00,339.57 545.00,340.80 C543.00,342.03 540.30,343.73 538.50,345.00 C536.70,346.27 535.42,346.73 534.20,348.40 C532.98,350.07 532.07,352.90 531.20,355.00 C530.33,357.10 529.83,358.92 529.00,361.00 C528.17,363.08 527.20,365.73 526.20,367.50 C525.20,369.27 524.07,371.52 523.00,371.60 C521.93,371.68 520.87,369.77 519.80,368.00 C518.73,366.23 517.83,363.25 516.60,361.00 C515.37,358.75 513.83,356.60 512.40,354.50 C510.97,352.40 509.57,350.48 508.00,348.40 C506.43,346.32 504.42,343.80 503.00,342.00 C501.58,340.20 491.58,338.33 499.50,337.60 Z" fill="none" stroke="#30c048" stroke-width="1.8"/>
<path d="M499.50,337.60 C507.42,336.87 542.92,337.07 550.50,337.60 C558.08,338.13 547.00,339.57 545.00,340.80 C543.00,342.03 540.30,343.73 538.50,345.00 C536.70,346.27 535.42,346.73 534.20,348.40 C532.98,350.07 532.07,352.90 531.20,355.00 C530.33,357.10 529.83,358.92 529.00,361.00 C528.17,363.08 527.20,365.73 526.20,367.50 C525.20,369.27 524.07,371.52 523.00,371.60 C521.93,371.68 520.87,369.77 519.80,368.00 C518.73,366.23 517.83,363.25 516.60,361.00 C515.37,358.75 513.83,356.60 512.40,354.50 C510.97,352.40 509.57,350.48 508.00,348.40 C506.43,346.32 504.42,343.80 503.00,342.00 C501.58,340.20 491.58,338.33 499.50,337.60 Z" fill="#36d6f4" />
<ellipse cx="507.4" cy="348.4" rx="1.8" ry="1.6" fill="#d050e8"/>
<ellipse cx="514.8" cy="360.5" rx="1.8" ry="1.6" fill="#d050e8"/>
<ellipse cx="535.0" cy="348.4" rx="1.8" ry="1.6" fill="#d050e8"/>
<ellipse cx="530.6" cy="360.5" rx="1.8" ry="1.6" fill="#d050e8"/>
<ellipse cx="523" cy="375.5" rx="3" ry="1" fill="#f08030" opacity="0.8"/>
</g></g>
<line x1="483.30" y1="264.00" x2="562.20" y2="264.00" stroke="#fff" stroke-width="1.6" stroke-dasharray="4.6,6.1" opacity="0.9"/>
<line x1="483.30" y1="335.60" x2="562.20" y2="335.60" stroke="#fff" stroke-width="1.6" stroke-dasharray="4.6,6.1" opacity="0.9"/>
<rect x="483.30" y="261.30" width="78.90" height="143.10" fill="none" stroke="#303030" stroke-width="0.9" />
<line x1="502.60" y1="261.30" x2="502.60" y2="264.50" stroke="#222" stroke-width="0.9" />
<line x1="502.60" y1="404.40" x2="502.60" y2="401.20" stroke="#222" stroke-width="0.9" />
<line x1="522.60" y1="261.30" x2="522.60" y2="264.50" stroke="#222" stroke-width="0.9" />
<line x1="522.60" y1="404.40" x2="522.60" y2="401.20" stroke="#222" stroke-width="0.9" />
<line x1="542.60" y1="261.30" x2="542.60" y2="264.50" stroke="#222" stroke-width="0.9" />
<line x1="542.60" y1="404.40" x2="542.60" y2="401.20" stroke="#222" stroke-width="0.9" />
<line x1="480.30" y1="261.30" x2="483.30" y2="261.30" stroke="#333" stroke-width="0.9" />
<line x1="562.20" y1="261.30" x2="564.80" y2="261.30" stroke="#333" stroke-width="0.9" />
<line x1="648.00" y1="261.30" x2="651.00" y2="261.30" stroke="#333" stroke-width="0.9" />
<text x="658.80" y="265.00" font-size="10" fill="#111" font-weight="normal" text-anchor="middle" >0</text>
<line x1="480.30" y1="297.10" x2="483.30" y2="297.10" stroke="#333" stroke-width="0.9" />
<line x1="562.20" y1="297.10" x2="564.80" y2="297.10" stroke="#333" stroke-width="0.9" />
<line x1="648.00" y1="297.10" x2="651.00" y2="297.10" stroke="#333" stroke-width="0.9" />
<text x="658.80" y="300.80" font-size="10" fill="#111" font-weight="normal" text-anchor="middle" >25</text>
<line x1="480.30" y1="332.90" x2="483.30" y2="332.90" stroke="#333" stroke-width="0.9" />
<line x1="562.20" y1="332.90" x2="564.80" y2="332.90" stroke="#333" stroke-width="0.9" />
<line x1="648.00" y1="332.90" x2="651.00" y2="332.90" stroke="#333" stroke-width="0.9" />
<text x="658.80" y="336.60" font-size="10" fill="#111" font-weight="normal" text-anchor="middle" >50</text>
<line x1="480.30" y1="368.60" x2="483.30" y2="368.60" stroke="#333" stroke-width="0.9" />
<line x1="562.20" y1="368.60" x2="564.80" y2="368.60" stroke="#333" stroke-width="0.9" />
<line x1="648.00" y1="368.60" x2="651.00" y2="368.60" stroke="#333" stroke-width="0.9" />
<text x="658.80" y="372.30" font-size="10" fill="#111" font-weight="normal" text-anchor="middle" >75</text>
<line x1="480.30" y1="404.40" x2="483.30" y2="404.40" stroke="#333" stroke-width="0.9" />
<line x1="562.20" y1="404.40" x2="564.80" y2="404.40" stroke="#333" stroke-width="0.9" />
<line x1="648.00" y1="404.40" x2="651.00" y2="404.40" stroke="#333" stroke-width="0.9" />
<text x="658.80" y="408.10" font-size="10" fill="#111" font-weight="normal" text-anchor="middle" >100</text>
<text x="0.00" y="0.00" font-size="12.4" fill="#111" font-weight="normal" text-anchor="middle" transform="translate(682.6,333) rotate(-90)">Time (ps)</text>
<line x1="486.70" y1="266.30" x2="495.65" y2="257.48" stroke="#3a3a3a" stroke-width="2.0" />
<path d="M500.10,253.10 L497.35,261.42 L491.74,255.72 Z" fill="#3a3a3a" stroke="none" stroke-width="1" />
<line x1="515.60" y1="252.00" x2="525.15" y2="261.83" stroke="#3a3a3a" stroke-width="2.0" />
<path d="M529.50,266.30 L521.20,263.49 L526.93,257.92 Z" fill="#3a3a3a" stroke="none" stroke-width="1" />
<line x1="544.60" y1="266.30" x2="553.98" y2="257.40" stroke="#3a3a3a" stroke-width="2.0" />
<path d="M558.50,253.10 L555.60,261.37 L550.09,255.57 Z" fill="#3a3a3a" stroke="none" stroke-width="1" />
<line x1="486.30" y1="319.40" x2="495.49" y2="328.59" stroke="#fff" stroke-width="2.0" />
<path d="M499.90,333.00 L491.56,330.31 L497.21,324.66 Z" fill="#fff" stroke="none" stroke-width="1" />
<line x1="529.70" y1="319.40" x2="520.43" y2="328.60" stroke="#fff" stroke-width="2.0" />
<path d="M516.00,333.00 L518.72,324.67 L524.35,330.34 Z" fill="#fff" stroke="none" stroke-width="1" />
<line x1="545.00" y1="319.40" x2="554.19" y2="328.59" stroke="#fff" stroke-width="2.0" />
<path d="M558.60,333.00 L550.26,330.31 L555.91,324.66 Z" fill="#fff" stroke="none" stroke-width="1" />
<line x1="482.80" y1="390.00" x2="491.23" y2="397.85" stroke="#3a3a3a" stroke-width="2.0" />
<path d="M495.80,402.10 L487.37,399.71 L492.82,393.86 Z" fill="#3a3a3a" stroke="none" stroke-width="1" />
<line x1="516.00" y1="402.00" x2="525.39" y2="393.41" stroke="#3a3a3a" stroke-width="2.0" />
<path d="M530.00,389.20 L526.94,397.42 L521.54,391.51 Z" fill="#3a3a3a" stroke="none" stroke-width="1" />
<line x1="548.60" y1="389.20" x2="557.15" y2="397.62" stroke="#3a3a3a" stroke-width="2.0" />
<path d="M561.60,402.00 L553.24,399.38 L558.85,393.68 Z" fill="#3a3a3a" stroke="none" stroke-width="1" />
<polyline points="456.20,264.20 456.60,264.20 457.00,264.20 457.40,264.19 457.80,264.19 458.20,264.18 458.60,264.16 459.00,264.12 459.40,264.07 459.80,263.97 460.20,263.82 460.60,263.59 461.00,263.25 461.40,262.77 461.80,262.09 462.20,261.19 462.60,260.04 463.00,258.61 463.40,256.91 463.80,254.99 464.20,252.90 464.60,250.75 465.00,248.68 465.40,246.81 465.80,245.30 466.20,244.28 466.60,243.82 467.00,243.97 467.40,244.72 467.80,246.00 468.20,247.71 468.60,249.70 469.00,251.83 469.40,253.96 469.80,255.97 470.20,257.79 470.60,259.36 471.00,260.65 471.40,261.67 471.80,262.45 472.20,263.03 472.60,263.44 473.00,263.72 473.40,263.91 473.80,264.03 474.20,264.10 474.60,264.14 475.00,264.17 475.40,264.18 475.80,264.19 476.20,264.20 476.60,264.20 477.00,264.20 477.40,264.20 477.80,264.20 478.20,264.20 478.60,264.20 479.00,264.20 479.40,264.20 479.80,264.20 480.20,264.20 480.60,264.20 481.00,264.20 481.40,264.20 481.80,264.20 482.20,264.20 482.60,264.20 483.00,264.20 483.40,264.20 483.80,264.20 484.20,264.20 484.60,264.20 485.00,264.20 485.40,264.20 485.80,264.20 486.20,264.20 486.60,264.20 487.00,264.20 487.40,264.20 487.80,264.20 488.20,264.20 488.60,264.20 489.00,264.20 489.40,264.20 489.80,264.20 490.20,264.20 490.60,264.20 491.00,264.20 491.40,264.20 491.80,264.20 492.20,264.20 492.60,264.20 493.00,264.20 493.40,264.20 493.80,264.20 494.20,264.20 494.60,264.20 495.00,264.20 495.40,264.20 495.80,264.20 496.20,264.20 496.60,264.20 497.00,264.20 497.40,264.20 497.80,264.20 498.20,264.20 498.60,264.20 499.00,264.20 499.40,264.20 499.80,264.20 500.20,264.20" fill="none" stroke="#4a6cf0" stroke-width="1.1" stroke-linejoin="round"/>
<polyline points="456.80,335.20 457.20,335.19 457.60,335.18 458.00,335.17 458.40,335.13 458.80,335.08 459.20,334.99 459.60,334.83 460.00,334.58 460.40,334.20 460.80,333.62 461.20,332.79 461.60,331.62 462.00,330.06 462.40,328.03 462.80,325.49 463.20,322.46 463.60,318.97 464.00,315.14 464.40,311.15 464.80,307.22 465.20,303.63 465.60,300.63 466.00,298.47 466.40,297.34 466.80,297.34 467.20,298.47 467.60,300.63 468.00,303.63 468.40,307.22 468.80,311.15 469.20,315.14 469.60,318.97 470.00,322.46 470.40,325.49 470.80,328.03 471.20,330.06 471.60,331.62 472.00,332.79 472.40,333.62 472.80,334.20 473.20,334.58 473.60,334.83 474.00,334.99 474.40,335.08 474.80,335.13 475.20,335.17 475.60,335.18 476.00,335.19 476.40,335.20 476.80,335.20 477.20,335.20 477.60,335.20 478.00,335.20 478.40,335.20 478.80,335.20 479.20,335.20 479.60,335.20 480.00,335.20 480.40,335.20 480.80,335.20 481.20,335.20 481.60,335.20 482.00,335.20 482.40,335.20 482.80,335.20 483.20,335.20 483.60,335.20 484.00,335.20 484.40,335.20 484.80,335.20 485.20,335.20 485.60,335.20 486.00,335.20 486.40,335.20 486.80,335.20 487.20,335.20 487.60,335.20 488.00,335.20 488.40,335.20 488.80,335.20 489.20,335.20 489.60,335.20 490.00,335.20 490.40,335.20 490.80,335.20 491.20,335.20 491.60,335.20 492.00,335.20 492.40,335.20 492.80,335.20 493.20,335.20 493.60,335.20 494.00,335.20 494.40,335.20 494.80,335.20 495.20,335.20 495.60,335.20 496.00,335.20 496.40,335.20 496.80,335.20 497.20,335.20 497.60,335.20 498.00,335.20 498.40,335.20 498.80,335.20 499.20,335.20 499.60,335.20 500.00,335.20 500.40,335.20" fill="none" stroke="#4a6cf0" stroke-width="1.1" stroke-linejoin="round"/>
<line x1="456.43" y1="267.77" x2="464.17" y2="260.23" stroke="#8b3fc4" stroke-width="1.9" />
<path d="M467.90,256.60 L465.55,263.50 L460.94,258.77 Z" fill="#8b3fc4" stroke="none" stroke-width="1" />
<path d="M452.70,271.40 L455.05,264.50 L459.66,269.23 Z" fill="#8b3fc4" stroke="none" stroke-width="1" />
<text x="462.70" y="274.80" font-size="11" fill="#8b3fc4" font-weight="bold" text-anchor="start" >E</text>
<text x="469.60" y="277.30" font-size="8" fill="#8b3fc4" font-weight="normal" text-anchor="start" >ph</text>
<line x1="456.28" y1="338.82" x2="464.22" y2="330.88" stroke="#8b3fc4" stroke-width="1.9" />
<path d="M467.90,327.20 L465.64,334.13 L460.97,329.46 Z" fill="#8b3fc4" stroke="none" stroke-width="1" />
<path d="M452.60,342.50 L454.86,335.57 L459.53,340.24 Z" fill="#8b3fc4" stroke="none" stroke-width="1" />
<text x="462.30" y="347.00" font-size="11" fill="#8b3fc4" font-weight="bold" text-anchor="start" >E</text>
<text x="469.20" y="350.00" font-size="8" fill="#8b3fc4" font-weight="normal" text-anchor="start" >ph</text>
<g clip-path="url(#clip12)"><rect x="568.7" y="261.3" width="79.30" height="143.10" fill="#8ae27a"/><g filter="url(#bl12)">
<rect x="564.7" y="257.3" width="87.30" height="151.10" fill="#8ae27a"/>
<path d="M564.70,257.30 L652.00,257.30 L652.00,408.40 L564.70,408.40 Z" fill="#8ae27a" />
<line x1="568.70" y1="270.00" x2="596.70" y2="266.00" stroke="#c8e860" stroke-width="0.6" opacity="0.5"/>
<line x1="648.00" y1="270.00" x2="620.00" y2="266.00" stroke="#c8e860" stroke-width="0.6" opacity="0.5"/>
<line x1="568.70" y1="272.20" x2="596.70" y2="268.20" stroke="#c8e860" stroke-width="0.6" opacity="0.5"/>
<line x1="648.00" y1="272.20" x2="620.00" y2="268.20" stroke="#c8e860" stroke-width="0.6" opacity="0.5"/>
<line x1="568.70" y1="274.40" x2="596.70" y2="270.40" stroke="#c8e860" stroke-width="0.6" opacity="0.5"/>
<line x1="648.00" y1="274.40" x2="620.00" y2="270.40" stroke="#c8e860" stroke-width="0.6" opacity="0.5"/>
<line x1="568.70" y1="276.60" x2="596.70" y2="272.60" stroke="#c8e860" stroke-width="0.6" opacity="0.5"/>
<line x1="648.00" y1="276.60" x2="620.00" y2="272.60" stroke="#c8e860" stroke-width="0.6" opacity="0.5"/>
<line x1="568.70" y1="278.80" x2="596.70" y2="274.80" stroke="#c8e860" stroke-width="0.6" opacity="0.5"/>
<line x1="648.00" y1="278.80" x2="620.00" y2="274.80" stroke="#c8e860" stroke-width="0.6" opacity="0.5"/>
<line x1="568.70" y1="281.00" x2="596.70" y2="277.00" stroke="#c8e860" stroke-width="0.6" opacity="0.5"/>
<line x1="648.00" y1="281.00" x2="620.00" y2="277.00" stroke="#c8e860" stroke-width="0.6" opacity="0.5"/>
<line x1="568.70" y1="283.20" x2="596.70" y2="279.20" stroke="#c8e860" stroke-width="0.6" opacity="0.5"/>
<line x1="648.00" y1="283.20" x2="620.00" y2="279.20" stroke="#c8e860" stroke-width="0.6" opacity="0.5"/>
<line x1="568.70" y1="285.40" x2="596.70" y2="281.40" stroke="#c8e860" stroke-width="0.6" opacity="0.5"/>
<line x1="648.00" y1="285.40" x2="620.00" y2="281.40" stroke="#c8e860" stroke-width="0.6" opacity="0.5"/>
<path d="M595.20,264.60 C596.05,265.60 600.62,268.67 600.30,270.60 C599.98,272.53 595.02,273.47 593.30,276.20 C591.58,278.93 591.13,283.37 590.00,287.00 C588.87,290.63 587.58,294.50 586.50,298.00 C585.42,301.50 584.32,304.73 583.50,308.00 C582.68,311.27 581.93,314.60 581.60,317.60 C581.27,320.60 581.50,322.93 581.50,326.00 C581.50,329.07 581.58,334.33 581.60,336.00" fill="none" stroke="#48c8f0" stroke-width="5.8" stroke-linecap="round" stroke-linejoin="round" opacity="0.7"/>
<path d="M619.90,264.60 C619.05,265.60 614.48,268.67 614.80,270.60 C615.12,272.53 620.07,273.47 621.80,276.20 C623.53,278.93 624.07,283.37 625.20,287.00 C626.33,290.63 627.53,294.50 628.60,298.00 C629.67,301.50 630.77,304.73 631.60,308.00 C632.43,311.27 633.23,314.60 633.60,317.60 C633.97,320.60 633.77,322.93 633.80,326.00 C633.83,329.07 633.80,334.33 633.80,336.00" fill="none" stroke="#f0e040" stroke-width="5.8" stroke-linecap="round" stroke-linejoin="round" opacity="0.7"/>
<path d="M595.20,264.60 C596.05,265.60 600.62,268.67 600.30,270.60 C599.98,272.53 595.02,273.47 593.30,276.20 C591.58,278.93 591.13,283.37 590.00,287.00 C588.87,290.63 587.58,294.50 586.50,298.00 C585.42,301.50 584.32,304.73 583.50,308.00 C582.68,311.27 581.93,314.60 581.60,317.60 C581.27,320.60 581.50,322.93 581.50,326.00 C581.50,329.07 581.58,334.33 581.60,336.00" fill="none" stroke="url(#fb11)" stroke-width="3.0" stroke-linecap="round" stroke-linejoin="round" /><path d="M595.20,264.60 C596.05,265.60 600.62,268.67 600.30,270.60 C599.98,272.53 595.02,273.47 593.30,276.20 C591.58,278.93 591.13,283.37 590.00,287.00 C588.87,290.63 587.58,294.50 586.50,298.00 C585.42,301.50 584.32,304.73 583.50,308.00 C582.68,311.27 581.93,314.60 581.60,317.60 C581.27,320.60 581.50,322.93 581.50,326.00 C581.50,329.07 581.58,334.33 581.60,336.00" fill="none" stroke="#1448e0" stroke-width="3.4" stroke-linecap="round" stroke-linejoin="round" stroke-dasharray="1.2,3.4" opacity="0.6"/>
<path d="M619.90,264.60 C619.05,265.60 614.48,268.67 614.80,270.60 C615.12,272.53 620.07,273.47 621.80,276.20 C623.53,278.93 624.07,283.37 625.20,287.00 C626.33,290.63 627.53,294.50 628.60,298.00 C629.67,301.50 630.77,304.73 631.60,308.00 C632.43,311.27 633.23,314.60 633.60,317.60 C633.97,320.60 633.77,322.93 633.80,326.00 C633.83,329.07 633.80,334.33 633.80,336.00" fill="none" stroke="url(#fr11)" stroke-width="3.0" stroke-linecap="round" stroke-linejoin="round" /><path d="M619.90,264.60 C619.05,265.60 614.48,268.67 614.80,270.60 C615.12,272.53 620.07,273.47 621.80,276.20 C623.53,278.93 624.07,283.37 625.20,287.00 C626.33,290.63 627.53,294.50 628.60,298.00 C629.67,301.50 630.77,304.73 631.60,308.00 C632.43,311.27 633.23,314.60 633.60,317.60 C633.97,320.60 633.77,322.93 633.80,326.00 C633.83,329.07 633.80,334.33 633.80,336.00" fill="none" stroke="#e85010" stroke-width="3.4" stroke-linecap="round" stroke-linejoin="round" stroke-dasharray="1.2,3.4" opacity="0.6"/>
<line x1="581.8" y1="336.5" x2="598.4" y2="343.8" stroke="#101890" stroke-width="2.2"/>
<line x1="634.6" y1="336.5" x2="617" y2="343.8" stroke="#901010" stroke-width="2.2"/>
<line x1="581.8" y1="336.5" x2="648" y2="368" stroke="#557755" stroke-width="0.5" opacity="0.7"/>
<line x1="634.6" y1="336.5" x2="569" y2="368" stroke="#557755" stroke-width="0.5" opacity="0.7"/>
<path d="M589.00,345.00 C589.58,345.50 592.33,347.00 592.50,348.00 C592.67,349.00 589.75,350.17 590.00,351.00 C590.25,351.83 593.33,352.67 594.00,353.00" fill="none" stroke="#1850f0" stroke-width="3" stroke-linecap="round" stroke-linejoin="round" />
<path d="M626.50,345.00 C625.92,345.50 623.17,347.00 623.00,348.00 C622.83,349.00 625.75,350.17 625.50,351.00 C625.25,351.83 622.17,352.67 621.50,353.00" fill="none" stroke="#f04a18" stroke-width="3" stroke-linecap="round" stroke-linejoin="round" />
<path d="M593.50,352.00 C593.92,350.50 596.67,350.67 598.50,353.00 C600.33,355.33 603.58,363.07 604.50,366.00 C605.42,368.93 604.92,369.83 604.00,370.60 C603.08,371.37 600.33,372.03 599.00,370.60 C597.67,369.17 596.92,365.10 596.00,362.00 C595.08,358.90 593.08,353.50 593.50,352.00 Z" fill="#38b8f0" />
<path d="M622.00,352.00 C621.58,350.50 618.83,350.67 617.00,353.00 C615.17,355.33 611.92,363.07 611.00,366.00 C610.08,368.93 610.58,369.83 611.50,370.60 C612.42,371.37 615.17,372.03 616.50,370.60 C617.83,369.17 618.58,365.10 619.50,362.00 C620.42,358.90 622.42,353.50 622.00,352.00 Z" fill="#f4d020" />
<ellipse cx="574" cy="340" rx="3" ry="1" fill="#e8e040" opacity="0.8"/>
<ellipse cx="641" cy="340" rx="3" ry="1" fill="#40c0f0" opacity="0.8"/>
</g></g>
<line x1="568.70" y1="264.00" x2="648.00" y2="264.00" stroke="#fff" stroke-width="1.6" stroke-dasharray="4.6,6.1" opacity="0.9"/>
<line x1="568.70" y1="335.40" x2="648.00" y2="335.40" stroke="#fff" stroke-width="1.6" stroke-dasharray="4.6,6.1" opacity="0.9"/>
<rect x="568.70" y="261.30" width="79.30" height="143.10" fill="none" stroke="#303030" stroke-width="0.9" />
<line x1="588.60" y1="261.30" x2="588.60" y2="264.50" stroke="#222" stroke-width="0.9" />
<line x1="588.60" y1="404.40" x2="588.60" y2="401.20" stroke="#222" stroke-width="0.9" />
<line x1="607.90" y1="261.30" x2="607.90" y2="264.50" stroke="#222" stroke-width="0.9" />
<line x1="607.90" y1="404.40" x2="607.90" y2="401.20" stroke="#222" stroke-width="0.9" />
<line x1="627.40" y1="261.30" x2="627.40" y2="264.50" stroke="#222" stroke-width="0.9" />
<line x1="627.40" y1="404.40" x2="627.40" y2="401.20" stroke="#222" stroke-width="0.9" />
<line x1="483.30" y1="264.20" x2="500.50" y2="264.20" stroke="#4a6cf0" stroke-width="1.1" />
<line x1="483.30" y1="335.20" x2="500.50" y2="335.20" stroke="#4a6cf0" stroke-width="1.1" />
<line x1="501.70" y1="412.00" x2="542.60" y2="412.00" stroke="#000" stroke-width="2.2" />
<text x="523.00" y="427.20" font-size="9.4" fill="#111" font-weight="normal" text-anchor="middle" >15 nm</text>
<text x="608.00" y="415.60" font-size="9.4" fill="#111" font-weight="normal" text-anchor="middle" ><tspan font-style="italic">&#961;</tspan><tspan font-size="6" dy="1.8">f</tspan><tspan dy="-1.8"> (C/m</tspan><tspan font-size="6.6" dy="-3.6">3</tspan><tspan dy="3.6">)</tspan></text>
<text x="573.00" y="427.60" font-size="9.4" fill="#111" font-weight="normal" text-anchor="middle" >&#8722;6.5E8</text>
<text x="642.00" y="427.60" font-size="9.4" fill="#111" font-weight="normal" text-anchor="middle" >+6.5E8</text>
<rect x="593.20" y="421.00" width="28.80" height="6.50" fill="url(#jet)" stroke="#222" stroke-width="0.6" />
</svg></div></body></html>
